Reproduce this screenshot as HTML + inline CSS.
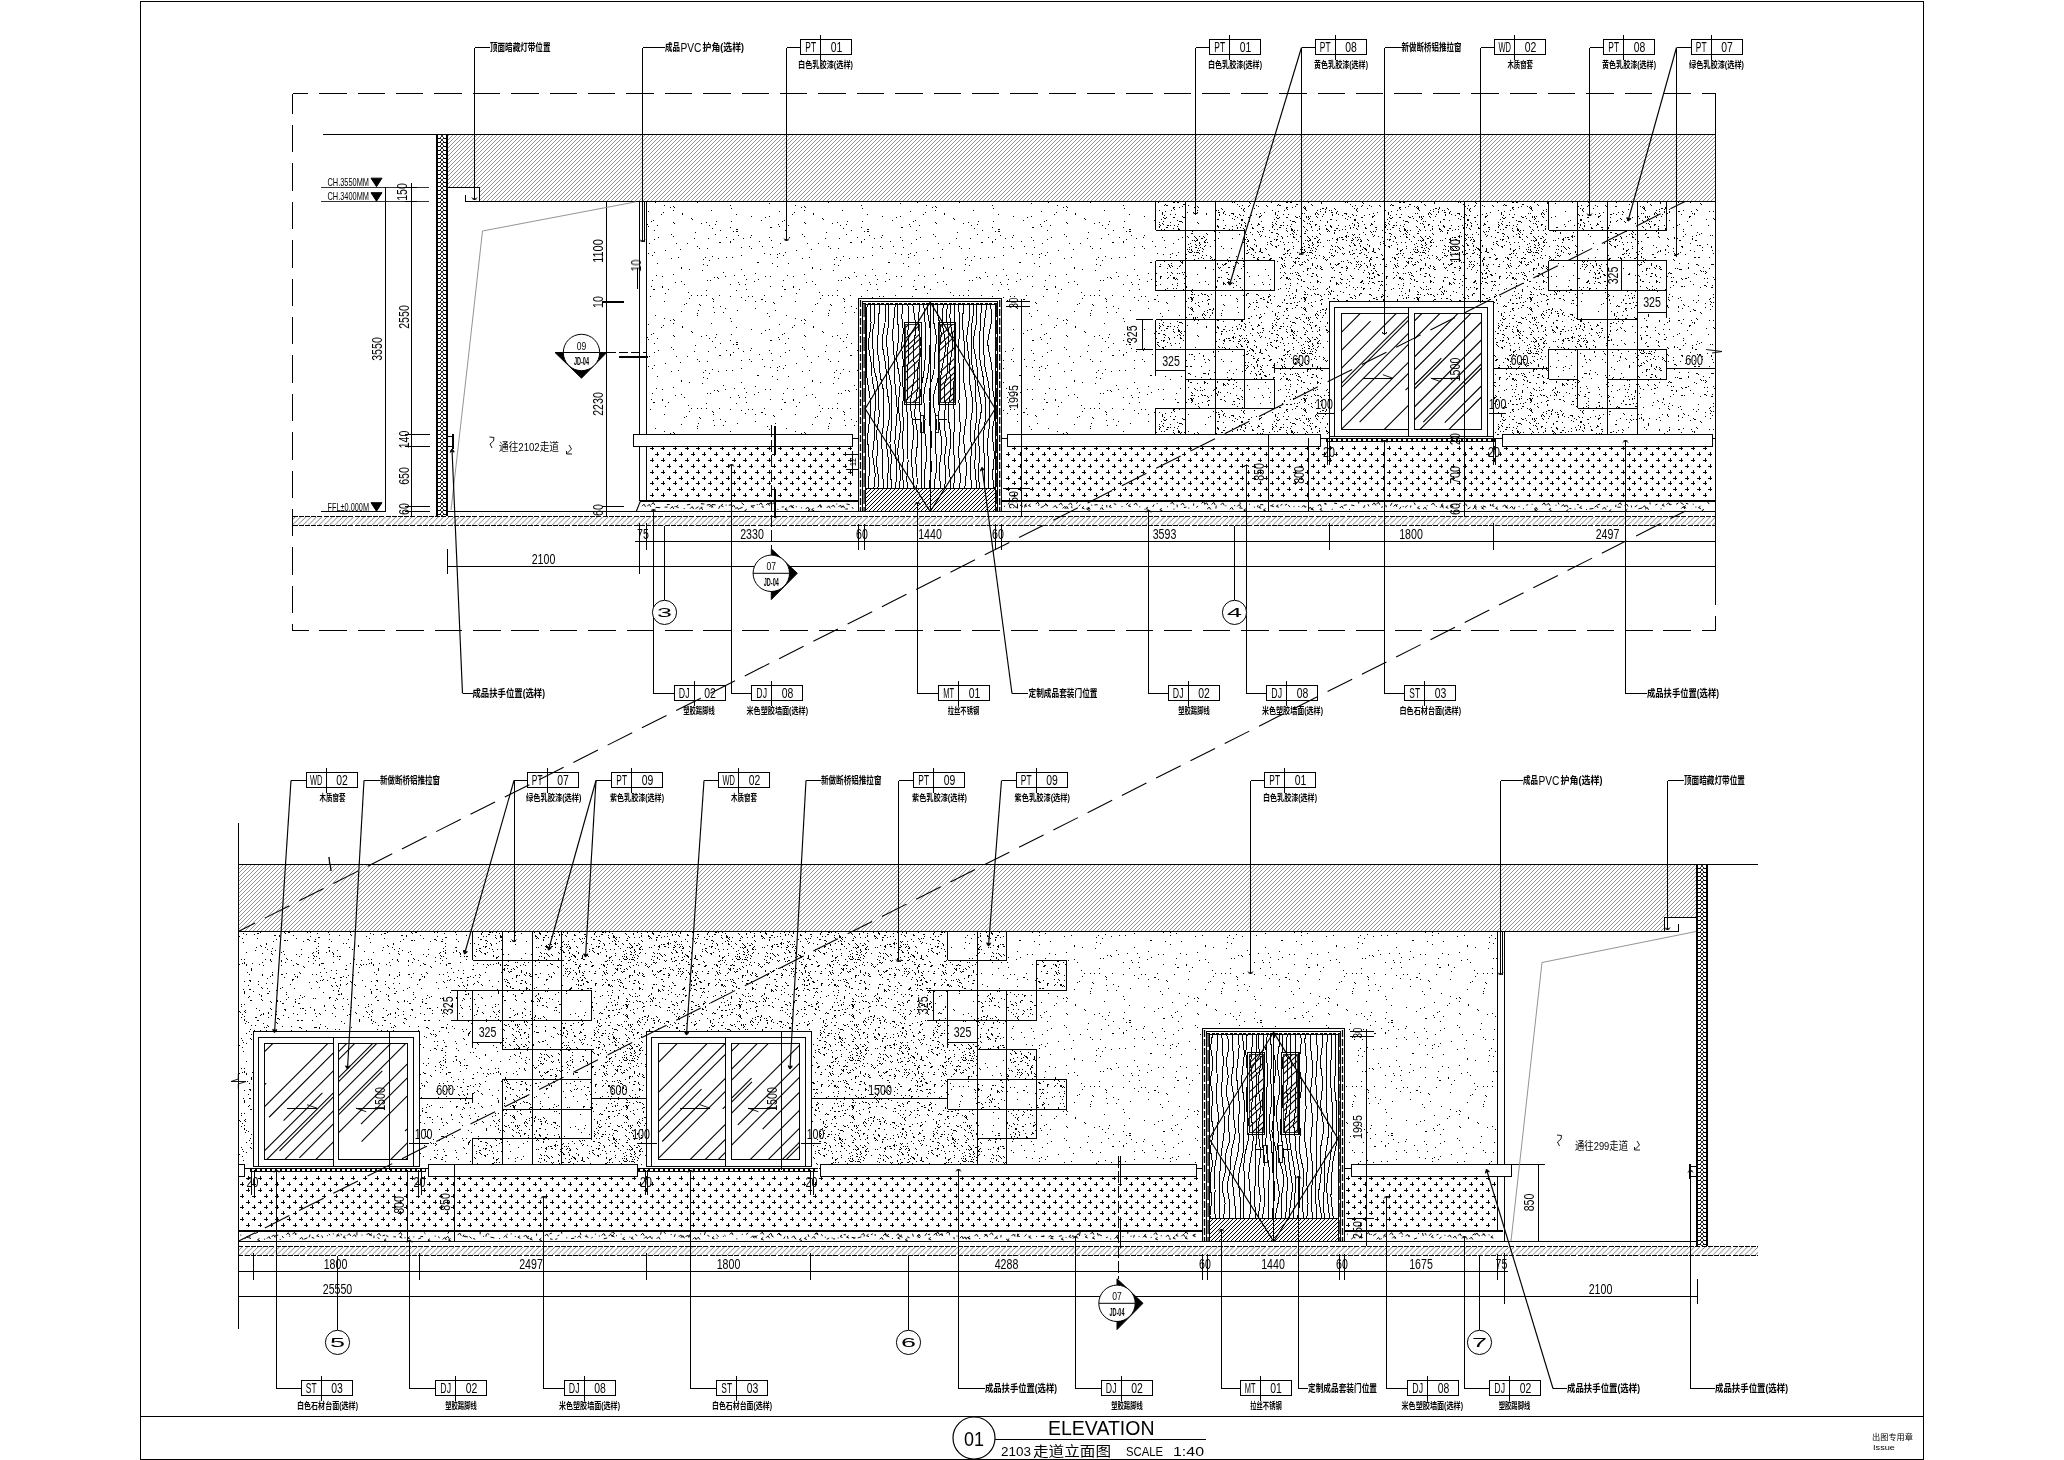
<!DOCTYPE html><html><head><meta charset="utf-8"><title>2103走道立面图</title><style>html,body{margin:0;padding:0;background:#fff}body{width:2064px;height:1460px;overflow:hidden}svg{display:block}svg text{font-family:"Liberation Sans",sans-serif}svg text.c{font-family:"Liberation Sans","Noto Sans CJK SC",sans-serif}</style></head><body><svg width="2064" height="1460" viewBox="0 0 2064 1460">
<defs><pattern id="sp" width="131" height="113" patternUnits="userSpaceOnUse"><path d="M34 72h1M16 32h1M115 60h1M53 12h1M99 55h1M0 89h1M58 75h1M81 3h2M2 112h1M55 54h1M56 97h1M126 70h1M59 86h1M117 37h1M106 107h1M25 23h1M75 15h1M128 54h1M48 38h1M127 108h1M100 75h1M122 31h1M103 53h1M93 70h1M95 11h1M130 13h1M100 47h1M7 60h1M7 61h1M100 82h1M128 29h1M51 69h1M59 51h1M90 58h1M1 49h1M33 66h1M52 54h1M123 111h1M51 64h1M91 53h1M84 58h1M58 81h1M46 110h1M65 4h1M18 10h1M115 1h1M71 31h1M47 44h1M42 20h1M43 84h1M75 58h1M127 60h1M79 49h1M48 33h1M130 26h1M110 104h1M57 2h1M9 92h1M114 90h1M109 69h1M115 28h1M7 50h1M82 84h1M15 94h1M54 112h1M54 113h1M18 109h1M19 110h1M76 95h1M64 16h2M9 75h1M117 21h1M130 4h1M88 12h1M110 75h1M26 85h1M129 63h2M102 36h2M51 109h1M34 43h1M68 86h1M97 70h1M124 98h1M60 8h1M21 17h1M54 34h1M129 107h1M86 43h1M60 111h1M125 17h1M26 41h1M26 42h1M18 48h1M37 106h1M29 78h1M96 9h1M57 72h1M58 73h1M68 46h1M29 58h1M27 100h1M27 101h1M75 1h1M3 11h1M10 24h1M107 20h1M42 87h1M26 55h1M96 103h1M75 70h1M122 40h1M81 5h2M75 92h1M115 50h1M16 8h1M116 14h1M120 84h1M46 69h1M50 31h1M71 11h1M114 11h1M86 29h1M78 5h1M81 101h1M77 31h1M23 31h1M62 51h1M63 52h1M18 93h1M19 94h1M2 37h1M91 63h1M39 12h1M83 9h1M44 22h1M36 105h1M78 13h1M75 16h1M36 69h1M8 99h1M52 22h1M40 6h1M63 32h1M114 103h1M64 69h1M116 1h1M86 21h1M6 101h1M106 73h2M90 74h1M32 17h1M70 50h1M44 78h1M45 79h1M124 0h1M81 64h1M112 87h1M57 30h1M122 28h1M86 71h1M70 82h1M18 97h1M94 20h1M52 39h1M76 108h1M42 89h1M118 76h1M119 77h1M31 77h1M96 22h1M109 27h1M13 63h1M89 49h1M42 69h1M10 67h1M65 80h1M21 17h1M20 56h1M61 108h1M110 50h1M83 56h1M124 27h1M104 15h1M71 31h1" stroke="#000" stroke-width="1" fill="none" transform="translate(0 .5)" shape-rendering="crispEdges"/></pattern><pattern id="md" width="127" height="109" patternUnits="userSpaceOnUse"><path d="M122 108h2M10 46h1M94 103h1M39 32h1M77 4h1M20 55h1M102 92h1M65 47h1M56 64h1M4 3h1M119 40h1M54 67h1M55 68h1M22 30h1M22 41h1M23 42h1M65 65h1M65 86h1M114 57h1M94 67h1M97 46h1M45 46h1M123 57h1M124 58h1M96 51h1M59 83h1M62 35h1M64 65h1M45 84h1M115 59h1M92 71h1M62 84h1M41 104h1M21 78h1M116 61h1M122 102h1M64 71h1M83 78h1M39 93h1M65 46h1M79 9h1M43 92h2M104 24h1M13 7h1M6 34h1M87 13h1M17 34h1M26 7h1M91 97h2M46 46h1M47 47h1M86 3h1M86 4h1M122 8h2M93 2h1M16 104h1M94 23h1M0 49h1M101 31h1M102 32h1M4 0h1M78 80h1M14 36h1M3 39h1M98 77h1M115 33h1M110 79h1M60 28h1M60 29h1M87 40h1M3 57h1M121 16h1M99 50h1M41 18h1M43 33h1M124 53h1M89 71h1M85 7h1M16 20h1M17 21h1M58 81h1M117 90h1M31 29h1M9 32h1M9 33h1M29 79h1M79 90h1M87 54h1M96 0h1M97 1h1M49 52h1M50 53h1M65 92h1M65 93h1M13 12h2M96 29h1M96 30h1M3 66h1M58 39h1M48 27h1M97 26h1M55 54h1M74 75h2M53 67h1M117 12h1M61 46h2M122 15h1M37 88h1M47 39h2M87 52h1M87 53h1M39 25h1M86 105h2M57 7h1M62 59h1M75 78h1M75 79h1M36 3h1M119 92h1M119 93h1M96 62h1M97 63h1M73 47h1M59 17h1M50 15h1M15 10h1M42 82h1M27 88h1M27 89h1M79 84h1M5 92h1M37 45h1M18 102h1M61 67h1M92 93h1M119 62h1M37 50h1M62 76h1M54 89h1M117 10h1M104 73h1M104 74h1M45 22h1M18 103h1M8 102h1M8 103h1M114 87h1M82 4h1M83 5h1M37 49h1M85 87h1M22 67h1M19 69h1M124 96h1M42 66h1M65 32h1M66 33h1M20 59h1M30 51h1M45 100h1M93 18h1M92 3h1M49 94h1M50 95h1M65 6h1M51 32h1M119 52h1M60 46h1M42 91h1M84 10h1M109 92h1M79 24h1M85 48h1M81 1h1M67 91h1M59 83h1M60 84h1M12 2h1M27 93h1M49 27h1M12 49h1M98 102h1M99 103h1M95 75h1M62 102h1M1 78h1M61 32h1M22 59h1M124 97h1M124 98h1M0 62h1M85 84h2M75 62h1M118 42h1M112 64h1M126 10h1M44 22h1M120 100h1M32 86h1M106 92h1M107 93h1M20 63h1M59 86h1M1 36h1M123 0h1M68 108h1M56 26h1M39 63h1M61 88h1M117 38h1M117 39h1M105 40h1M82 101h1M82 50h1M117 11h1M26 50h1M108 108h1M109 109h1M64 80h1M64 81h1M5 29h1M71 29h1M7 14h1M7 15h1M104 100h1M46 27h1M9 42h1M21 63h1M37 59h1M117 91h1M81 27h1M41 20h1M41 21h1M30 60h1M31 61h1M86 108h1M45 17h1M29 34h1M81 48h1M105 95h1M112 92h1M64 74h1M121 41h1M96 91h1M119 80h1M125 91h1M79 81h1M47 39h1M22 33h1M45 56h1M114 23h1M48 16h1M13 44h1M14 45h1M9 93h1M55 1h1M30 105h1M49 69h1M81 19h1M25 63h1M25 64h1M18 100h1M32 18h1M32 11h1M31 90h1M78 5h1M47 82h1M7 18h1M8 19h1M8 55h1M34 16h1M73 108h1M73 109h1M82 98h1M122 50h1M6 50h1M62 79h1M69 107h1M11 75h1M85 63h1M107 88h1M52 49h1M5 13h1M75 16h1M75 17h1M117 87h1M22 9h1M58 102h1M32 13h1M28 22h2M54 85h1M43 104h1M6 60h1M61 17h1M17 89h1M7 6h1M8 7h1M117 0h1M66 43h1M112 30h1M113 31h1M62 0h1M63 1h1M14 31h1M14 32h1M27 102h2M27 80h1M79 82h1M115 91h1M99 86h1M100 87h1M13 106h1M80 26h1M81 27h1M25 38h1M18 54h1M19 55h1M40 102h1M12 71h1M12 72h1M34 36h1M62 35h1M89 17h1M84 13h2M70 96h1M24 50h1M82 17h1M95 33h1M60 69h2M98 105h1M18 76h1M88 25h1M17 81h1M117 23h1M11 87h1M59 80h1M26 20h1M89 104h1M115 66h1M52 53h1M4 58h1M110 15h1M93 34h1M2 27h1M33 68h1M75 67h1M114 25h1M16 88h1M17 89h1M111 57h1M124 44h1M78 32h1M74 60h1M96 60h1M43 39h2M47 77h1M60 28h1M83 84h1M16 87h1M111 26h1M105 38h1M105 39h1M100 3h1M101 4h1M40 7h1M32 101h1M43 105h1M53 60h1M2 36h1M16 27h1M17 28h1M77 98h1M8 81h1M117 35h1M63 61h1M117 30h1M118 31h1M38 108h1M118 29h1M90 42h1M89 50h1M30 82h1M7 33h1M17 79h1M105 55h1M105 56h1M58 50h1M123 48h1M30 28h2M67 104h1M77 69h1M6 49h1M51 29h1M12 46h1M66 100h1M8 90h1M89 28h1M3 61h2M83 18h1M30 68h2M18 82h1M97 13h1M69 11h1M17 55h1M4 39h1M34 60h2M71 45h1M87 12h1M13 77h1M46 101h1M81 35h1M114 36h1M123 19h2M43 55h1M1 44h1M68 91h2M84 9h1M64 78h1M54 53h1M23 20h1M2 75h1M92 105h1M23 37h2M111 5h1M72 100h1M28 51h2M46 14h1M116 8h1M70 24h1M70 25h1M88 51h1M88 52h1M109 35h1M28 6h1M67 51h1M100 16h1M101 17h1M16 58h1M6 73h1M7 74h1M104 56h1M76 105h1M82 57h1M83 58h1M76 16h1M18 2h1M23 19h1M72 80h1M56 60h1M54 55h1M28 45h1M121 4h1M79 106h2M38 107h2M116 70h1M33 87h1M59 91h1M66 108h1" stroke="#000" stroke-width="1" fill="none" transform="translate(0 .5)" shape-rendering="crispEdges"/></pattern><pattern id="dn" width="113" height="101" patternUnits="userSpaceOnUse"><path d="M30 75h1M47 77h1M74 8h1M107 60h1M108 61h1M29 24h1M60 69h1M60 50h1M19 29h1M111 66h1M1 85h1M20 97h1M5 38h1M105 34h1M92 49h1M54 50h1M73 56h1M17 46h1M17 47h1M17 63h1M18 64h1M86 55h1M109 38h1M106 49h1M68 74h1M29 43h1M3 35h1M85 89h1M86 90h1M110 41h1M73 72h1M73 73h1M83 27h1M73 34h1M74 35h1M8 61h1M61 11h1M8 52h1M2 37h1M53 15h2M78 97h2M91 75h1M112 35h1M4 39h2M13 76h1M25 52h1M26 53h1M33 19h1M111 43h1M17 48h1M111 66h1M110 76h1M13 79h1M103 64h1M104 65h1M81 92h1M38 55h1M66 38h1M1 100h1M74 40h2M78 75h1M7 81h1M59 45h1M45 77h1M94 62h2M7 86h2M47 32h1M38 75h1M22 46h1M23 47h1M97 47h1M33 38h1M13 98h1M72 87h1M39 64h1M40 65h1M102 34h1M103 35h1M23 86h1M89 12h1M89 13h1M41 42h1M28 56h1M21 10h1M83 27h1M57 34h1M58 35h1M15 4h1M24 40h1M107 73h1M108 74h1M35 43h1M82 10h1M44 75h1M44 76h1M37 66h1M34 59h1M53 37h1M52 4h1M19 25h2M106 79h1M55 71h1M91 28h2M58 96h1M66 36h1M29 8h1M36 15h1M5 4h1M88 65h1M55 73h2M61 95h1M61 96h1M64 38h1M65 39h1M2 67h1M6 78h1M6 79h1M16 32h1M69 61h1M7 45h1M8 46h1M15 68h1M15 21h1M16 22h1M35 16h1M0 62h1M110 51h2M34 31h1M35 32h1M67 66h1M60 41h1M0 7h1M5 15h2M61 4h1M11 65h1M40 20h1M44 49h1M75 38h1M24 42h1M16 71h2M92 48h1M72 22h2M58 77h1M69 48h1M5 79h1M6 47h1M97 89h1M88 53h1M31 27h1M88 75h2M54 28h1M112 3h1M47 71h1M33 15h1M15 93h1M67 48h1M93 40h1M13 75h1M60 18h1M61 19h1M49 5h1M72 12h1M48 22h1M43 15h2M14 86h1M89 36h1M102 11h2M98 72h1M91 30h1M91 31h1M95 12h1M7 70h1M72 23h1M30 23h1M58 78h1M50 32h1M50 44h1M10 48h1M52 95h1M53 88h1M74 86h1M87 61h1M87 62h1M51 19h1M52 20h1M63 95h1M89 66h1M75 92h1M17 34h1M18 74h1M29 88h1M99 37h1M109 52h1M74 74h1M27 39h2M61 48h1M62 49h1M72 46h1M73 47h1M61 99h1M53 89h1M76 26h1M106 83h1M61 92h2M51 100h1M5 59h1M30 82h1M86 8h1M109 32h1M110 33h1M24 99h1M25 100h1M23 79h1M109 4h1M32 21h1M40 23h1M93 10h1M93 11h1M33 37h2M57 74h1M43 0h2M42 55h1M9 26h1M95 62h1M69 40h1M69 41h1M35 9h1M14 56h1M32 12h1M89 47h1M47 96h1M84 86h1M103 33h1M103 34h1M43 86h1M67 14h1M65 45h2M37 86h1M95 23h1M93 80h1M93 81h1M47 83h1M13 71h1M13 72h1M42 82h1M76 53h1M82 23h1M39 100h1M40 101h1M8 13h1M96 70h1M94 50h1M34 34h1M111 17h2M64 34h1M65 35h1M98 65h1M42 51h1M103 98h2M63 14h1M63 15h1M75 12h1M72 99h1M14 23h1M72 53h1M50 95h1M50 96h1M77 18h1M102 24h1M21 72h1M22 73h1M111 32h1M37 3h1M56 52h1M49 40h1M74 39h1M67 87h1M110 85h1M76 24h1M0 13h1M84 29h1M67 80h1M24 100h1M4 64h1M56 14h1M84 19h1M84 20h1M101 11h1M6 3h1M29 64h2M68 2h1M41 42h1M88 88h1M88 89h1M109 76h1M4 91h2M43 26h1M110 25h1M96 28h1M13 100h2M9 25h1M50 63h1M8 68h1M26 83h1M2 59h1M88 51h1M58 4h1M46 47h1M46 76h1M0 26h1M1 27h1M47 18h1M68 24h1M68 25h1M2 21h1M64 21h1M17 14h1M56 62h1M57 63h1M107 2h1M40 52h2M91 6h1M92 7h1M5 50h1M28 30h2M60 24h1M61 25h1M79 14h1M15 76h2M93 37h1M94 38h1M100 59h1M38 62h1M39 63h1M34 3h1M80 44h1M7 87h1M11 75h1M13 3h1M2 21h1M61 6h1M62 7h1M65 42h1M66 43h1M96 61h1M61 44h1M4 48h1M77 80h1M11 37h1M12 38h1M52 14h1M70 42h1M99 51h1M100 52h1M94 93h1M70 45h1M46 53h1M56 99h1M44 34h1M64 92h1M90 89h1M62 5h1M62 6h1M90 96h2M59 11h1M86 84h1M86 85h1M30 76h1M82 7h1M111 6h1M111 93h1M47 0h2M51 100h1M13 43h1M14 57h2M83 26h1M84 27h1M6 19h1M18 74h1M14 29h1M15 30h1M26 28h1M65 53h1M77 40h1M68 100h1M69 101h1M22 79h2M105 14h1M109 12h1M110 13h1M32 10h1M32 11h1M51 28h1M87 78h1M87 79h1M62 97h1M89 44h1M84 57h1M37 76h1M48 26h1M48 27h1M0 59h1M1 60h1M82 9h1M24 62h1M70 87h1M54 100h1M77 66h1M78 67h1M44 7h1M55 56h2M27 41h1M28 42h1M26 92h1M27 93h1M112 94h1M91 68h1M47 24h1M52 61h1M52 60h1M4 37h1M2 23h1M3 92h1M3 93h1M64 66h2M60 5h1M61 6h1M26 35h1M4 44h1M25 95h1M18 13h1M52 56h2M19 62h1M89 36h1M103 81h1M20 55h1M59 60h1M69 28h1M109 36h1M110 37h1M59 47h1M103 38h1M103 66h2M16 80h1M68 2h1M69 3h1M6 0h1M7 1h1M98 59h1M100 46h1M4 62h1M5 63h1M1 35h1M43 6h1M103 12h1M33 31h1M63 53h1M43 5h2M4 80h1M21 97h1M31 17h1M107 52h1M106 43h1M35 2h1M36 3h1M2 62h1M104 58h1M85 96h1M104 77h1M47 66h1M37 23h2M17 70h1M17 71h1M99 45h1M35 32h1M67 19h1M17 66h2M62 29h1M74 78h1M75 79h1M40 73h1M14 62h1M14 63h1M100 90h1M34 13h1M9 47h2M62 96h1M82 57h1M83 58h1M44 23h1M106 50h1M34 27h1M40 40h1M71 36h2M53 32h1M10 63h1M11 64h1M25 94h2M67 14h1M107 15h1M104 0h1M88 8h1M61 59h1M62 60h1M69 71h2M30 62h1M18 19h1M22 88h1M86 50h1M18 50h2M97 80h1M98 81h1M24 83h1M111 18h2M19 68h1M20 69h1M99 13h1M23 3h1M24 4h1M16 14h1M16 15h1M16 49h1M77 9h1M0 47h1M61 31h2M69 62h1M69 63h1M108 40h1M94 44h1M109 100h1M52 59h1M39 56h1M39 57h1M58 49h1M59 50h1M76 37h1M108 95h1M109 96h1M109 21h1M107 25h1M107 26h1M77 7h1M111 22h1M111 23h1M1 20h1M101 51h1M87 47h1M98 35h2M69 74h1M18 75h1M41 58h1M47 81h1M45 89h1M92 44h1M106 43h1M107 44h1M38 34h1M39 35h1M77 64h1M78 65h1M43 93h1M36 55h1M57 16h1M68 100h1M79 67h1M79 6h2M54 70h1M99 37h2M109 48h1M9 46h1M7 70h1M15 55h1M49 91h1M1 38h1M47 51h1M83 87h1M74 63h1M74 64h1M28 0h1M78 0h1M78 1h1M10 26h1M36 25h2M68 93h1M68 56h1M106 92h1M27 56h1M74 15h1M48 28h1M39 36h1M15 22h1M10 55h2M44 48h2M106 23h1M17 49h1M18 50h1M81 55h1M84 38h1M12 81h1M88 10h2M112 96h1M41 8h1M41 61h1M80 12h1M42 82h1M74 28h1M25 82h1M11 6h1M3 65h1M73 10h1M74 11h1M105 60h1M68 50h1M69 51h1M58 84h1M29 25h1M43 75h1M43 76h1M68 46h1M45 40h1M74 92h1M26 57h2M55 39h1M63 27h1M64 28h1M13 58h1M13 59h1M64 50h1M40 23h1M41 63h1M42 64h1M112 87h1M7 30h1M49 28h1M50 29h1M32 44h1M33 45h1M88 43h1M26 28h1M22 72h1M23 73h1M61 89h1M62 90h1M103 85h1M29 22h1M67 50h1M54 76h1M55 77h1M38 56h1M10 100h1M58 62h2M22 34h1M53 87h1M49 64h1M44 51h1M61 97h1M62 98h1M91 53h1M93 18h1M13 44h1M108 38h1M69 19h1M57 47h1M74 44h1M25 79h2M97 70h1M74 86h1M69 41h1M107 95h1M1 54h1M94 97h1M61 47h1M31 37h1M72 49h1M41 70h1M42 71h1M92 62h1M93 63h1M50 59h1M51 60h1M52 70h1M13 92h2M61 89h1M62 90h1M64 85h1M65 86h1M12 70h1M49 71h1M50 35h2M35 87h1M33 15h1M34 16h1M14 61h1M18 33h1M87 23h1M88 24h1M99 65h1M85 28h1M86 29h1M33 44h1M13 12h1M17 96h2M58 42h1M41 97h1M41 98h1M5 85h1M65 17h1M111 56h1M64 72h1M54 55h1M55 56h1M69 34h1M49 19h2M21 55h1M27 97h1M27 98h1M93 26h1M93 82h1M5 80h1M95 45h1M96 46h1M20 27h1M94 9h1M94 36h1M94 37h1M69 43h1M77 93h1M78 94h1M17 11h1M87 17h2M89 10h1M66 50h1M70 84h1M33 22h1M0 8h1M1 9h1M89 53h1M90 54h1M4 43h1M41 46h1M41 47h1M102 27h1M103 68h1M85 92h1M28 56h1M102 0h1M29 20h1M12 50h1M73 14h1M76 31h1M77 32h1M3 51h2M43 28h1M44 29h1M72 65h1M73 66h1M97 76h1M94 26h1M54 81h1M8 22h1M64 67h1M64 68h1M74 79h1M74 80h1M66 16h1M66 21h1M67 22h1M67 37h1M67 38h1M63 8h1M31 94h1M53 2h2M60 79h2M90 65h1M1 6h1M37 39h1M62 38h1M102 16h1M72 11h1M83 5h1M83 6h1M87 24h1M88 25h1M20 95h1M95 98h1M17 80h1M18 81h1M86 38h1M65 0h1M46 86h1M10 53h1M42 71h1M55 59h1M3 41h1M94 81h1M95 82h1M60 95h1M61 96h1M45 12h1M95 61h1M61 96h1M62 97h1M43 76h2M30 74h2M51 30h1M40 12h1M64 57h1M65 58h1M53 72h1M48 55h1M46 93h1M50 46h1M50 34h1M17 29h1M98 77h2M52 93h1M77 98h1M61 48h1M71 55h1M60 50h2M71 91h1M72 92h1M2 24h1M87 91h1M87 92h1M104 17h1M65 14h1M65 15h1M76 27h1M37 70h1M54 55h1M20 27h1M80 54h1M80 56h1M3 32h1M75 43h1M49 27h1M36 25h2M49 31h1M111 42h1M112 43h1M11 42h1M99 27h1M26 71h1M0 64h1M104 30h1M96 35h1M9 32h1" stroke="#000" stroke-width="1" fill="none" transform="translate(0 .5)" shape-rendering="crispEdges"/></pattern><pattern id="ch" width="4" height="4" patternUnits="userSpaceOnUse"><path d="M3 .5h1M2 1.5h1M1 2.5h1M0 3.5h1" stroke="#969696" stroke-width="1" shape-rendering="crispEdges"/></pattern><pattern id="sh" width="5.3" height="10" patternUnits="userSpaceOnUse" patternTransform="translate(0 516)"><path d="M-2 12L10 0M-7.3 12L4.7 0" stroke="#333" stroke-width=".6"/></pattern><pattern id="kh" width="4" height="4" patternUnits="userSpaceOnUse"><path d="M3 .5h1M2 1.5h1M1 2.5h1M0 3.5h1" stroke="#000" stroke-width="1" shape-rendering="crispEdges"/></pattern><pattern id="xh" width="8" height="4" patternUnits="userSpaceOnUse" patternTransform="translate(438 134)"><path d="M0 .5h2.6M5.4 .5h2.6" stroke="#000" stroke-width="1"/><path d="M2 0L6 4M6 0L2 4" stroke="#000" stroke-width=".8"/></pattern><pattern id="xh2" width="8" height="4" patternUnits="userSpaceOnUse" patternTransform="translate(1698 864)"><path d="M0 .5h2.6M5.4 .5h2.6" stroke="#000" stroke-width="1"/><path d="M2 0L6 4M6 0L2 4" stroke="#000" stroke-width=".8"/></pattern><pattern id="sl" width="4.4" height="4" patternUnits="userSpaceOnUse"><rect width="4.4" height="4" fill="#000"/><rect x="1" y="1" width="2.4" height="1.8" fill="#fff"/></pattern><pattern id="sh2" width="5.3" height="10" patternUnits="userSpaceOnUse" patternTransform="translate(0 1246)"><path d="M-2 12L10 0M-7.3 12L4.7 0" stroke="#333" stroke-width=".6"/></pattern></defs>
<g shape-rendering="crispEdges"><rect x="646.5" y="201.5" width="1069" height="233.3" fill="#fff"/><rect x="646.5" y="201.5" width="1069" height="233.3" fill="url(#sp)"/><path d="M1215.3 201.5L1215.3 230.4L1244.7 230.4L1244.7 260.6L1274.6 260.6L1274.6 290.5L1244.7 290.5L1244.7 319.5L1215.3 319.5L1215.3 349.1L1244.7 349.1L1244.7 379.1L1274.6 379.1L1274.6 408.3L1215.3 408.3L1215.3 434.8L1607.5 434.8L1607.5 408.3L1577.5 408.3L1577.5 379.1L1548.5 379.1L1548.5 349.1L1607.5 349.1L1607.5 319.5L1577.5 319.5L1577.5 290.5L1548.5 290.5L1548.5 260.6L1577.5 260.6L1577.5 230.4L1548.5 230.4L1548.5 201.5Z" fill="#fff"/><path d="M1215.3 201.5L1215.3 230.4L1244.7 230.4L1244.7 260.6L1274.6 260.6L1274.6 290.5L1244.7 290.5L1244.7 319.5L1215.3 319.5L1215.3 349.1L1244.7 349.1L1244.7 379.1L1274.6 379.1L1274.6 408.3L1215.3 408.3L1215.3 434.8L1607.5 434.8L1607.5 408.3L1577.5 408.3L1577.5 379.1L1548.5 379.1L1548.5 349.1L1607.5 349.1L1607.5 319.5L1577.5 319.5L1577.5 290.5L1548.5 290.5L1548.5 260.6L1577.5 260.6L1577.5 230.4L1548.5 230.4L1548.5 201.5Z" fill="url(#dn)"/><path d="M1548.5 201.5L1548.5 230.4L1577.5 230.4L1577.5 260.6L1548.5 260.6L1548.5 290.5L1577.5 290.5L1577.5 319.5L1607.5 319.5L1607.5 349.1L1548.5 349.1L1548.5 379.1L1577.5 379.1L1577.5 408.3L1607.5 408.3L1607.5 434.8L1715.5 434.8L1715.5 201.5Z" fill="#fff"/><path d="M1548.5 201.5L1548.5 230.4L1577.5 230.4L1577.5 260.6L1548.5 260.6L1548.5 290.5L1577.5 290.5L1577.5 319.5L1607.5 319.5L1607.5 349.1L1548.5 349.1L1548.5 379.1L1577.5 379.1L1577.5 408.3L1607.5 408.3L1607.5 434.8L1715.5 434.8L1715.5 201.5Z" fill="url(#md)"/><rect x="1155.6" y="201.5" width="29.9" height="28.9" fill="#fff"/><rect x="1155.6" y="201.5" width="29.9" height="28.9" fill="url(#dn)"/><rect x="1185.5" y="201.5" width="29.8" height="28.9" fill="#fff"/><rect x="1185.5" y="201.5" width="29.8" height="28.9" fill="url(#sp)"/><rect x="1185.5" y="230.4" width="29.8" height="30.2" fill="#fff"/><rect x="1185.5" y="230.4" width="29.8" height="30.2" fill="url(#dn)"/><rect x="1215.3" y="230.4" width="29.4" height="30.2" fill="#fff"/><rect x="1215.3" y="230.4" width="29.4" height="30.2" fill="url(#sp)"/><rect x="1155.6" y="260.6" width="29.9" height="29.9" fill="#fff"/><rect x="1155.6" y="260.6" width="29.9" height="29.9" fill="url(#dn)"/><rect x="1185.5" y="260.6" width="29.8" height="29.9" fill="#fff"/><rect x="1185.5" y="260.6" width="29.8" height="29.9" fill="url(#sp)"/><rect x="1215.3" y="260.6" width="29.4" height="29.9" fill="#fff"/><rect x="1215.3" y="260.6" width="29.4" height="29.9" fill="url(#dn)"/><rect x="1244.7" y="260.6" width="29.9" height="29.9" fill="#fff"/><rect x="1244.7" y="260.6" width="29.9" height="29.9" fill="url(#sp)"/><rect x="1185.5" y="290.5" width="29.8" height="29" fill="#fff"/><rect x="1185.5" y="290.5" width="29.8" height="29" fill="url(#dn)"/><rect x="1215.3" y="290.5" width="29.4" height="29" fill="#fff"/><rect x="1215.3" y="290.5" width="29.4" height="29" fill="url(#sp)"/><rect x="1155.6" y="319.5" width="29.9" height="29.6" fill="#fff"/><rect x="1155.6" y="319.5" width="29.9" height="29.6" fill="url(#dn)"/><rect x="1185.5" y="319.5" width="29.8" height="29.6" fill="#fff"/><rect x="1185.5" y="319.5" width="29.8" height="29.6" fill="url(#sp)"/><rect x="1185.5" y="349.1" width="29.8" height="30" fill="#fff"/><rect x="1185.5" y="349.1" width="29.8" height="30" fill="url(#md)"/><rect x="1215.3" y="349.1" width="29.4" height="30" fill="#fff"/><rect x="1215.3" y="349.1" width="29.4" height="30" fill="url(#sp)"/><rect x="1185.5" y="379.1" width="29.8" height="29.2" fill="#fff"/><rect x="1185.5" y="379.1" width="29.8" height="29.2" fill="url(#dn)"/><rect x="1215.3" y="379.1" width="29.4" height="29.2" fill="#fff"/><rect x="1215.3" y="379.1" width="29.4" height="29.2" fill="url(#dn)"/><rect x="1244.7" y="379.1" width="29.9" height="29.2" fill="#fff"/><rect x="1244.7" y="379.1" width="29.9" height="29.2" fill="url(#sp)"/><rect x="1155.6" y="408.3" width="29.9" height="26.5" fill="#fff"/><rect x="1155.6" y="408.3" width="29.9" height="26.5" fill="url(#dn)"/><rect x="1185.5" y="408.3" width="29.8" height="26.5" fill="#fff"/><rect x="1185.5" y="408.3" width="29.8" height="26.5" fill="url(#sp)"/><rect x="1577.5" y="201.5" width="30" height="28.9" fill="#fff"/><rect x="1577.5" y="201.5" width="30" height="28.9" fill="url(#dn)"/><rect x="1637.2" y="201.5" width="29.4" height="28.9" fill="#fff"/><rect x="1637.2" y="201.5" width="29.4" height="28.9" fill="url(#dn)"/><rect x="1607.5" y="230.4" width="29.7" height="30.2" fill="#fff"/><rect x="1607.5" y="230.4" width="29.7" height="30.2" fill="url(#dn)"/><rect x="1577.5" y="260.6" width="30" height="29.9" fill="#fff"/><rect x="1577.5" y="260.6" width="30" height="29.9" fill="url(#dn)"/><rect x="1637.2" y="260.6" width="29.4" height="29.9" fill="#fff"/><rect x="1637.2" y="260.6" width="29.4" height="29.9" fill="url(#dn)"/><rect x="1607.5" y="290.5" width="29.7" height="29" fill="#fff"/><rect x="1607.5" y="290.5" width="29.7" height="29" fill="url(#dn)"/><rect x="1637.2" y="349.1" width="29.4" height="30" fill="#fff"/><rect x="1637.2" y="349.1" width="29.4" height="30" fill="url(#dn)"/><rect x="1607.5" y="379.1" width="29.7" height="29.2" fill="#fff"/><rect x="1607.5" y="379.1" width="29.7" height="29.2" fill="url(#dn)"/><rect x="1548.5" y="201.5" width="29" height="28.9" fill="#fff"/><rect x="1548.5" y="201.5" width="29" height="28.9" fill="url(#sp)"/><rect x="1548.5" y="260.6" width="29" height="29.9" fill="#fff"/><rect x="1548.5" y="260.6" width="29" height="29.9" fill="url(#sp)"/><rect x="1548.5" y="349.1" width="29" height="30" fill="#fff"/><rect x="1548.5" y="349.1" width="29" height="30" fill="url(#sp)"/><rect x="1577.5" y="230.4" width="30" height="30.2" fill="#fff"/><rect x="1577.5" y="230.4" width="30" height="30.2" fill="url(#sp)"/><rect x="1577.5" y="290.5" width="30" height="29" fill="#fff"/><rect x="1577.5" y="290.5" width="30" height="29" fill="url(#sp)"/><path d="M447.5 134.5L1715.5 134.5L1715.5 201.5L479.5 201.5L479.5 187L447.5 187Z" fill="#fff"/><path d="M447.5 134.5L1715.5 134.5L1715.5 201.5L479.5 201.5L479.5 187L447.5 187Z" fill="url(#ch)"/><rect x="436" y="134.5" width="12" height="381.5" fill="#fff"/><rect x="436" y="134.5" width="12" height="381.5" fill="url(#xh)"/><rect x="436" y="134.5" width="2" height="381.5" fill="#000" stroke="none"/><rect x="446" y="134.5" width="2" height="381.5" fill="#000" stroke="none"/><rect x="292.5" y="516.5" width="1423" height="9" fill="#fff"/><rect x="292.5" y="516.5" width="1423" height="9" fill="url(#sh)"/><rect x="646.5" y="446.4" width="211.5" height="54.2" fill="#fff"/><rect x="1001.8" y="446.4" width="713.7" height="54.2" fill="#fff"/><rect x="1326" y="438" width="170" height="4" fill="#000"/><path d="M1328 440h3M1333 440h3M1338 440h3M1343 440h3M1348 440h3M1353 440h3M1358 440h3M1363 440h3M1368 440h3M1373 440h3M1378 440h3M1383 440h3M1388 440h3M1393 440h3M1398 440h3M1403 440h3M1408 440h3M1413 440h3M1418 440h3M1423 440h3M1428 440h3M1433 440h3M1438 440h3M1443 440h3M1448 440h3M1453 440h3M1458 440h3M1463 440h3M1468 440h3M1473 440h3M1478 440h3M1483 440h3M1488 440h3" stroke="#fff" stroke-width="2" fill="none"/><rect x="858.1" y="298.1" width="143.8" height="213.4" fill="#fff"/><rect x="904.2" y="322.8" width="17.1" height="81.6" fill="#fff"/><rect x="938.3" y="322.8" width="17.4" height="81.6" fill="#fff"/><rect x="865.2" y="488.8" width="130" height="22.7" fill="#fff"/><rect x="865.2" y="488.8" width="130" height="22.7" fill="url(#kh)"/><rect x="1329.6" y="301.7" width="163.6" height="135" fill="#fff"/><rect x="1156.6" y="350.1" width="28.4" height="21" fill="#fff"/><rect x="1608.5" y="261.6" width="12.5" height="28.4" fill="#fff"/><rect x="1638.2" y="291.5" width="27.9" height="20" fill="#fff"/><rect x="238.3" y="931.5" width="1258.7" height="233.3" fill="#fff"/><rect x="238.3" y="931.5" width="1258.7" height="233.3" fill="url(#sp)"/><path d="M561.8 931.5L561.8 960.4L561.8 960.4L561.8 990.6L591.6 990.6L591.6 1020.5L561.8 1020.5L561.8 1049.5L591.6 1049.5L591.6 1079.1L591.6 1079.1L591.6 1109.1L591.6 1109.1L591.6 1138.3L561.8 1138.3L561.8 1164.8L977.5 1164.8L977.5 1138.3L977.5 1138.3L977.5 1109.1L947.6 1109.1L947.6 1079.1L977.5 1079.1L977.5 1049.5L977.5 1049.5L977.5 1020.5L947.6 1020.5L947.6 990.6L977.5 990.6L977.5 960.4L947.6 960.4L947.6 931.5Z" fill="#fff"/><path d="M561.8 931.5L561.8 960.4L561.8 960.4L561.8 990.6L591.6 990.6L591.6 1020.5L561.8 1020.5L561.8 1049.5L591.6 1049.5L591.6 1079.1L591.6 1079.1L591.6 1109.1L591.6 1109.1L591.6 1138.3L561.8 1138.3L561.8 1164.8L977.5 1164.8L977.5 1138.3L977.5 1138.3L977.5 1109.1L947.6 1109.1L947.6 1079.1L977.5 1079.1L977.5 1049.5L977.5 1049.5L977.5 1020.5L947.6 1020.5L947.6 990.6L977.5 990.6L977.5 960.4L947.6 960.4L947.6 931.5Z" fill="url(#dn)"/><path d="M238.3 931.5L561.8 931.5L561.8 960.4L561.8 960.4L561.8 990.6L591.6 990.6L591.6 1020.5L561.8 1020.5L561.8 1049.5L591.6 1049.5L591.6 1079.1L591.6 1079.1L591.6 1109.1L591.6 1109.1L591.6 1138.3L561.8 1138.3L561.8 1164.8L238.3 1164.8Z" fill="#fff"/><path d="M238.3 931.5L561.8 931.5L561.8 960.4L561.8 960.4L561.8 990.6L591.6 990.6L591.6 1020.5L561.8 1020.5L561.8 1049.5L591.6 1049.5L591.6 1079.1L591.6 1079.1L591.6 1109.1L591.6 1109.1L591.6 1138.3L561.8 1138.3L561.8 1164.8L238.3 1164.8Z" fill="url(#md)"/><rect x="472.75" y="931.5" width="29.95" height="28.9" fill="#fff"/><rect x="472.75" y="931.5" width="29.95" height="28.9" fill="url(#dn)"/><rect x="502.7" y="931.5" width="29.7" height="28.9" fill="#fff"/><rect x="502.7" y="931.5" width="29.7" height="28.9" fill="url(#sp)"/><rect x="532.4" y="931.5" width="29.4" height="28.9" fill="#fff"/><rect x="532.4" y="931.5" width="29.4" height="28.9" fill="url(#dn)"/><rect x="502.7" y="960.4" width="29.7" height="30.2" fill="#fff"/><rect x="502.7" y="960.4" width="29.7" height="30.2" fill="url(#dn)"/><rect x="532.4" y="960.4" width="29.4" height="30.2" fill="#fff"/><rect x="532.4" y="960.4" width="29.4" height="30.2" fill="url(#md)"/><rect x="472.75" y="990.6" width="29.95" height="29.9" fill="#fff"/><rect x="472.75" y="990.6" width="29.95" height="29.9" fill="url(#md)"/><rect x="502.7" y="990.6" width="29.7" height="29.9" fill="#fff"/><rect x="502.7" y="990.6" width="29.7" height="29.9" fill="url(#md)"/><rect x="532.4" y="990.6" width="29.4" height="29.9" fill="#fff"/><rect x="532.4" y="990.6" width="29.4" height="29.9" fill="url(#dn)"/><rect x="561.8" y="990.6" width="29.8" height="29.9" fill="#fff"/><rect x="561.8" y="990.6" width="29.8" height="29.9" fill="url(#sp)"/><rect x="502.7" y="1020.5" width="29.7" height="29" fill="#fff"/><rect x="502.7" y="1020.5" width="29.7" height="29" fill="url(#dn)"/><rect x="532.4" y="1020.5" width="29.4" height="29" fill="#fff"/><rect x="532.4" y="1020.5" width="29.4" height="29" fill="url(#md)"/><rect x="532.4" y="1049.5" width="29.4" height="29.6" fill="#fff"/><rect x="532.4" y="1049.5" width="29.4" height="29.6" fill="url(#dn)"/><rect x="561.8" y="1049.5" width="29.8" height="29.6" fill="#fff"/><rect x="561.8" y="1049.5" width="29.8" height="29.6" fill="url(#md)"/><rect x="502.7" y="1079.1" width="29.7" height="30" fill="#fff"/><rect x="502.7" y="1079.1" width="29.7" height="30" fill="url(#dn)"/><rect x="532.4" y="1079.1" width="29.4" height="30" fill="#fff"/><rect x="532.4" y="1079.1" width="29.4" height="30" fill="url(#md)"/><rect x="561.8" y="1079.1" width="29.8" height="30" fill="#fff"/><rect x="561.8" y="1079.1" width="29.8" height="30" fill="url(#md)"/><rect x="502.7" y="1109.1" width="29.7" height="29.2" fill="#fff"/><rect x="502.7" y="1109.1" width="29.7" height="29.2" fill="url(#dn)"/><rect x="532.4" y="1109.1" width="29.4" height="29.2" fill="#fff"/><rect x="532.4" y="1109.1" width="29.4" height="29.2" fill="url(#dn)"/><rect x="561.8" y="1109.1" width="29.8" height="29.2" fill="#fff"/><rect x="561.8" y="1109.1" width="29.8" height="29.2" fill="url(#sp)"/><rect x="472.75" y="1138.3" width="29.95" height="26.5" fill="#fff"/><rect x="472.75" y="1138.3" width="29.95" height="26.5" fill="url(#dn)"/><rect x="502.7" y="1138.3" width="29.7" height="26.5" fill="#fff"/><rect x="502.7" y="1138.3" width="29.7" height="26.5" fill="url(#sp)"/><rect x="532.4" y="1138.3" width="29.4" height="26.5" fill="#fff"/><rect x="532.4" y="1138.3" width="29.4" height="26.5" fill="url(#dn)"/><rect x="947.6" y="931.5" width="29.9" height="28.9" fill="#fff"/><rect x="947.6" y="931.5" width="29.9" height="28.9" fill="url(#sp)"/><rect x="977.5" y="931.5" width="29" height="28.9" fill="#fff"/><rect x="977.5" y="931.5" width="29" height="28.9" fill="url(#dn)"/><rect x="1036.6" y="960.4" width="29.9" height="30.2" fill="#fff"/><rect x="1036.6" y="960.4" width="29.9" height="30.2" fill="url(#dn)"/><rect x="947.6" y="990.6" width="29.9" height="29.9" fill="#fff"/><rect x="947.6" y="990.6" width="29.9" height="29.9" fill="url(#sp)"/><rect x="977.5" y="990.6" width="29" height="29.9" fill="#fff"/><rect x="977.5" y="990.6" width="29" height="29.9" fill="url(#dn)"/><rect x="1006.5" y="990.6" width="30.1" height="29.9" fill="#fff"/><rect x="1006.5" y="990.6" width="30.1" height="29.9" fill="url(#dn)"/><rect x="977.5" y="1020.5" width="29" height="29" fill="#fff"/><rect x="977.5" y="1020.5" width="29" height="29" fill="url(#dn)"/><rect x="977.5" y="1049.5" width="29" height="29.6" fill="#fff"/><rect x="977.5" y="1049.5" width="29" height="29.6" fill="url(#sp)"/><rect x="1006.5" y="1049.5" width="30.1" height="29.6" fill="#fff"/><rect x="1006.5" y="1049.5" width="30.1" height="29.6" fill="url(#dn)"/><rect x="947.6" y="1079.1" width="29.9" height="30" fill="#fff"/><rect x="947.6" y="1079.1" width="29.9" height="30" fill="url(#sp)"/><rect x="977.5" y="1079.1" width="29" height="30" fill="#fff"/><rect x="977.5" y="1079.1" width="29" height="30" fill="url(#dn)"/><rect x="1006.5" y="1079.1" width="30.1" height="30" fill="#fff"/><rect x="1006.5" y="1079.1" width="30.1" height="30" fill="url(#sp)"/><rect x="1036.6" y="1079.1" width="29.9" height="30" fill="#fff"/><rect x="1036.6" y="1079.1" width="29.9" height="30" fill="url(#dn)"/><rect x="977.5" y="1109.1" width="29" height="29.2" fill="#fff"/><rect x="977.5" y="1109.1" width="29" height="29.2" fill="url(#sp)"/><rect x="1006.5" y="1109.1" width="30.1" height="29.2" fill="#fff"/><rect x="1006.5" y="1109.1" width="30.1" height="29.2" fill="url(#dn)"/><rect x="977.5" y="1138.3" width="29" height="26.5" fill="#fff"/><rect x="977.5" y="1138.3" width="29" height="26.5" fill="url(#dn)"/><path d="M238.3 864.5L1696 864.5L1696 917L1664 917L1664 931.5L238.3 931.5Z" fill="#fff"/><path d="M238.3 864.5L1696 864.5L1696 917L1664 917L1664 931.5L238.3 931.5Z" fill="url(#ch)"/><rect x="1696" y="864.5" width="12" height="381.5" fill="#fff"/><rect x="1696" y="864.5" width="12" height="381.5" fill="url(#xh2)"/><rect x="1696" y="864.5" width="2" height="381.5" fill="#000" stroke="none"/><rect x="1706" y="864.5" width="2" height="381.5" fill="#000" stroke="none"/><rect x="238.3" y="1246.5" width="1519.7" height="9" fill="#fff"/><rect x="238.3" y="1246.5" width="1519.7" height="9" fill="url(#sh2)"/><rect x="238.3" y="1176.4" width="963.7" height="54.2" fill="#fff"/><rect x="1344.8" y="1176.4" width="152.2" height="54.2" fill="#fff"/><rect x="250" y="1168" width="176" height="4" fill="#000"/><path d="M252 1170h3M257 1170h3M262 1170h3M267 1170h3M272 1170h3M277 1170h3M282 1170h3M287 1170h3M292 1170h3M297 1170h3M302 1170h3M307 1170h3M312 1170h3M317 1170h3M322 1170h3M327 1170h3M332 1170h3M337 1170h3M342 1170h3M347 1170h3M352 1170h3M357 1170h3M362 1170h3M367 1170h3M372 1170h3M377 1170h3M382 1170h3M387 1170h3M392 1170h3M397 1170h3M402 1170h3M407 1170h3M412 1170h3M417 1170h3M422 1170h3" stroke="#fff" stroke-width="2" fill="none"/><rect x="638" y="1168" width="180" height="4" fill="#000"/><path d="M640 1170h3M645 1170h3M650 1170h3M655 1170h3M660 1170h3M665 1170h3M670 1170h3M675 1170h3M680 1170h3M685 1170h3M690 1170h3M695 1170h3M700 1170h3M705 1170h3M710 1170h3M715 1170h3M720 1170h3M725 1170h3M730 1170h3M735 1170h3M740 1170h3M745 1170h3M750 1170h3M755 1170h3M760 1170h3M765 1170h3M770 1170h3M775 1170h3M780 1170h3M785 1170h3M790 1170h3M795 1170h3M800 1170h3M805 1170h3M810 1170h3M815 1170h3" stroke="#fff" stroke-width="2" fill="none"/><rect x="253.2" y="1031.7" width="166" height="135" fill="#fff"/><rect x="646.6" y="1031.7" width="164.4" height="135" fill="#fff"/><rect x="1202.1" y="1028.1" width="142.6" height="213.4" fill="#fff"/><rect x="1247.6" y="1052.8" width="17.1" height="81.6" fill="#fff"/><rect x="1281.7" y="1052.8" width="17.4" height="81.6" fill="#fff"/><rect x="1209.2" y="1218.8" width="128.8" height="22.7" fill="#fff"/><rect x="1209.2" y="1218.8" width="128.8" height="22.7" fill="url(#kh)"/><rect x="473.75" y="1021.5" width="28.45" height="20" fill="#fff"/><rect x="948.6" y="1021.5" width="28.4" height="20" fill="#fff"/></g>
<g fill="none" stroke="#000" stroke-width="1" shape-rendering="crispEdges"><path d="M1185.5 201.5L1185.5 434.8"/><path d="M1215.3 201.5L1215.3 434.8"/><path d="M1155.6 201.5L1155.6 230.4"/><path d="M1155.6 260.6L1155.6 290.5"/><path d="M1155.6 319.5L1155.6 349.1"/><path d="M1155.6 408.3L1155.6 434.8"/><path d="M1244.7 230.4L1244.7 260.6"/><path d="M1244.7 260.6L1244.7 290.5"/><path d="M1244.7 290.5L1244.7 319.5"/><path d="M1244.7 349.1L1244.7 379.1"/><path d="M1244.7 379.1L1244.7 408.3"/><path d="M1274.6 260.6L1274.6 290.5"/><path d="M1274.6 379.1L1274.6 408.3"/><path d="M1155.6 230.4L1244.7 230.4"/><path d="M1155.6 260.6L1274.6 260.6"/><path d="M1155.6 290.5L1274.6 290.5"/><path d="M1155.6 319.5L1244.7 319.5"/><path d="M1155.6 349.1L1244.7 349.1"/><path d="M1185.5 379.1L1274.6 379.1"/><path d="M1155.6 408.3L1274.6 408.3"/><path d="M1607.5 201.5L1607.5 434.8"/><path d="M1637.2 201.5L1637.2 434.8"/><path d="M1577.5 201.5L1577.5 230.4"/><path d="M1577.5 230.4L1577.5 260.6"/><path d="M1577.5 260.6L1577.5 290.5"/><path d="M1577.5 290.5L1577.5 319.5"/><path d="M1577.5 349.1L1577.5 379.1"/><path d="M1577.5 379.1L1577.5 408.3"/><path d="M1548.5 201.5L1548.5 230.4"/><path d="M1548.5 260.6L1548.5 290.5"/><path d="M1548.5 349.1L1548.5 379.1"/><path d="M1666.6 201.5L1666.6 230.4"/><path d="M1666.6 260.6L1666.6 290.5"/><path d="M1666.6 349.1L1666.6 379.1"/><path d="M1548.5 230.4L1666.6 230.4"/><path d="M1548.5 260.6L1666.6 260.6"/><path d="M1548.5 290.5L1666.6 290.5"/><path d="M1577.5 319.5L1637.2 319.5"/><path d="M1548.5 349.1L1666.6 349.1"/><path d="M1548.5 379.1L1577.5 379.1"/><path d="M1607.5 379.1L1666.6 379.1"/><path d="M1577.5 408.3L1637.2 408.3"/><path d="M323 134.5L1715.5 134.5"/><path d="M465.5 201.5L1715.5 201.5"/><path d="M447.5 187L479.5 187"/><path d="M479.5 187L479.5 201.5"/><path d="M465.5 195L465.5 201.5"/><path d="M292.5 516.5L1715.5 516.5" stroke-dasharray="5 1.2"/><path d="M292.5 525.5L1715.5 525.5" stroke-dasharray="5 1.2"/><path d="M447.5 511.5L1715.5 511.5"/><path d="M321 511.5L385 511.5"/><path d="M292.5 93.5L1715.5 93.5" stroke-dasharray="27.5 10.9" stroke-dashoffset="11.75"/><path d="M292.5 93.5L292.5 630.5" stroke-dasharray="27.5 10.9" stroke-dashoffset="7"/><path d="M292.5 630.5L1715.5 630.5" stroke-dasharray="27.5 10.9" stroke-dashoffset="11.5"/><path d="M1715.5 93.5L1715.5 605"/><path d="M1715.5 616L1715.5 630.5"/><path d="M639.5 201.5L639.5 501"/><path d="M646.5 201.5L646.5 501"/><path d="M644.5 201.5L644.5 242"/><rect x="633.5" y="434.8" width="218.5" height="11.6" fill="#fff"/><rect x="1007.8" y="434.8" width="312.5" height="11.6" fill="#fff"/><rect x="1502.2" y="434.8" width="210.3" height="11.6" fill="#fff"/><path d="M852 438.5L858 438.5" stroke-width="1.5"/><path d="M1001.5 438.5L1007.8 438.5" stroke-width="1.5"/><path d="M1712.5 438.5L1715.5 438.5" stroke-width="1.5"/><path d="M650 448.5h4M652.5 446v4M661 448.5h4M663.5 446v4M673 448.5h4M675.5 446v4M685 448.5h4M687.5 446v4M696 448.5h4M698.5 446v4M708 448.5h4M710.5 446v4M720 448.5h4M722.5 446v4M732 448.5h4M734.5 446v4M743 448.5h4M745.5 446v4M755 448.5h4M757.5 446v4M767 448.5h4M769.5 446v4M778 448.5h4M780.5 446v4M790 448.5h4M792.5 446v4M802 448.5h4M804.5 446v4M813 448.5h4M815.5 446v4M825 448.5h4M827.5 446v4M837 448.5h4M839.5 446v4M848 448.5h4M850.5 446v4M655 454.5h4M657.5 452v4M667 454.5h4M669.5 452v4M679 454.5h4M681.5 452v4M691 454.5h4M693.5 452v4M702 454.5h4M704.5 452v4M714 454.5h4M716.5 452v4M726 454.5h4M728.5 452v4M737 454.5h4M739.5 452v4M749 454.5h4M751.5 452v4M761 454.5h4M763.5 452v4M772 454.5h4M774.5 452v4M784 454.5h4M786.5 452v4M796 454.5h4M798.5 452v4M808 454.5h4M810.5 452v4M819 454.5h4M821.5 452v4M831 454.5h4M833.5 452v4M843 454.5h4M845.5 452v4M650 460.5h4M652.5 458v4M661 460.5h4M663.5 458v4M673 460.5h4M675.5 458v4M685 460.5h4M687.5 458v4M696 460.5h4M698.5 458v4M708 460.5h4M710.5 458v4M720 460.5h4M722.5 458v4M732 460.5h4M734.5 458v4M743 460.5h4M745.5 458v4M755 460.5h4M757.5 458v4M767 460.5h4M769.5 458v4M778 460.5h4M780.5 458v4M790 460.5h4M792.5 458v4M802 460.5h4M804.5 458v4M813 460.5h4M815.5 458v4M825 460.5h4M827.5 458v4M837 460.5h4M839.5 458v4M848 460.5h4M850.5 458v4M655 466.5h4M657.5 464v4M667 466.5h4M669.5 464v4M679 466.5h4M681.5 464v4M691 466.5h4M693.5 464v4M702 466.5h4M704.5 464v4M714 466.5h4M716.5 464v4M726 466.5h4M728.5 464v4M737 466.5h4M739.5 464v4M749 466.5h4M751.5 464v4M761 466.5h4M763.5 464v4M772 466.5h4M774.5 464v4M784 466.5h4M786.5 464v4M796 466.5h4M798.5 464v4M808 466.5h4M810.5 464v4M819 466.5h4M821.5 464v4M831 466.5h4M833.5 464v4M843 466.5h4M845.5 464v4M650 472.5h4M652.5 470v4M661 472.5h4M663.5 470v4M673 472.5h4M675.5 470v4M685 472.5h4M687.5 470v4M696 472.5h4M698.5 470v4M708 472.5h4M710.5 470v4M720 472.5h4M722.5 470v4M732 472.5h4M734.5 470v4M743 472.5h4M745.5 470v4M755 472.5h4M757.5 470v4M767 472.5h4M769.5 470v4M778 472.5h4M780.5 470v4M790 472.5h4M792.5 470v4M802 472.5h4M804.5 470v4M813 472.5h4M815.5 470v4M825 472.5h4M827.5 470v4M837 472.5h4M839.5 470v4M848 472.5h4M850.5 470v4M655 478.5h4M657.5 476v4M667 478.5h4M669.5 476v4M679 478.5h4M681.5 476v4M691 478.5h4M693.5 476v4M702 478.5h4M704.5 476v4M714 478.5h4M716.5 476v4M726 478.5h4M728.5 476v4M737 478.5h4M739.5 476v4M749 478.5h4M751.5 476v4M761 478.5h4M763.5 476v4M772 478.5h4M774.5 476v4M784 478.5h4M786.5 476v4M796 478.5h4M798.5 476v4M808 478.5h4M810.5 476v4M819 478.5h4M821.5 476v4M831 478.5h4M833.5 476v4M843 478.5h4M845.5 476v4M650 483.5h4M652.5 481v4M661 483.5h4M663.5 481v4M673 483.5h4M675.5 481v4M685 483.5h4M687.5 481v4M696 483.5h4M698.5 481v4M708 483.5h4M710.5 481v4M720 483.5h4M722.5 481v4M732 483.5h4M734.5 481v4M743 483.5h4M745.5 481v4M755 483.5h4M757.5 481v4M767 483.5h4M769.5 481v4M778 483.5h4M780.5 481v4M790 483.5h4M792.5 481v4M802 483.5h4M804.5 481v4M813 483.5h4M815.5 481v4M825 483.5h4M827.5 481v4M837 483.5h4M839.5 481v4M848 483.5h4M850.5 481v4M655 489.5h4M657.5 487v4M667 489.5h4M669.5 487v4M679 489.5h4M681.5 487v4M691 489.5h4M693.5 487v4M702 489.5h4M704.5 487v4M714 489.5h4M716.5 487v4M726 489.5h4M728.5 487v4M737 489.5h4M739.5 487v4M749 489.5h4M751.5 487v4M761 489.5h4M763.5 487v4M772 489.5h4M774.5 487v4M784 489.5h4M786.5 487v4M796 489.5h4M798.5 487v4M808 489.5h4M810.5 487v4M819 489.5h4M821.5 487v4M831 489.5h4M833.5 487v4M843 489.5h4M845.5 487v4M650 495.5h4M652.5 493v4M661 495.5h4M663.5 493v4M673 495.5h4M675.5 493v4M685 495.5h4M687.5 493v4M696 495.5h4M698.5 493v4M708 495.5h4M710.5 493v4M720 495.5h4M722.5 493v4M732 495.5h4M734.5 493v4M743 495.5h4M745.5 493v4M755 495.5h4M757.5 493v4M767 495.5h4M769.5 493v4M778 495.5h4M780.5 493v4M790 495.5h4M792.5 493v4M802 495.5h4M804.5 493v4M813 495.5h4M815.5 493v4M825 495.5h4M827.5 493v4M837 495.5h4M839.5 493v4M848 495.5h4M850.5 493v4"/><path d="M1012 448.5h4M1014.5 446v4M1024 448.5h4M1026.5 446v4M1036 448.5h4M1038.5 446v4M1047 448.5h4M1049.5 446v4M1059 448.5h4M1061.5 446v4M1071 448.5h4M1073.5 446v4M1082 448.5h4M1084.5 446v4M1094 448.5h4M1096.5 446v4M1106 448.5h4M1108.5 446v4M1118 448.5h4M1120.5 446v4M1129 448.5h4M1131.5 446v4M1141 448.5h4M1143.5 446v4M1153 448.5h4M1155.5 446v4M1164 448.5h4M1166.5 446v4M1176 448.5h4M1178.5 446v4M1188 448.5h4M1190.5 446v4M1200 448.5h4M1202.5 446v4M1211 448.5h4M1213.5 446v4M1223 448.5h4M1225.5 446v4M1235 448.5h4M1237.5 446v4M1246 448.5h4M1248.5 446v4M1258 448.5h4M1260.5 446v4M1270 448.5h4M1272.5 446v4M1281 448.5h4M1283.5 446v4M1293 448.5h4M1295.5 446v4M1305 448.5h4M1307.5 446v4M1316 448.5h4M1318.5 446v4M1328 448.5h4M1330.5 446v4M1340 448.5h4M1342.5 446v4M1352 448.5h4M1354.5 446v4M1363 448.5h4M1365.5 446v4M1375 448.5h4M1377.5 446v4M1387 448.5h4M1389.5 446v4M1398 448.5h4M1400.5 446v4M1410 448.5h4M1412.5 446v4M1422 448.5h4M1424.5 446v4M1434 448.5h4M1436.5 446v4M1445 448.5h4M1447.5 446v4M1457 448.5h4M1459.5 446v4M1469 448.5h4M1471.5 446v4M1480 448.5h4M1482.5 446v4M1492 448.5h4M1494.5 446v4M1504 448.5h4M1506.5 446v4M1515 448.5h4M1517.5 446v4M1527 448.5h4M1529.5 446v4M1539 448.5h4M1541.5 446v4M1550 448.5h4M1552.5 446v4M1562 448.5h4M1564.5 446v4M1574 448.5h4M1576.5 446v4M1586 448.5h4M1588.5 446v4M1597 448.5h4M1599.5 446v4M1609 448.5h4M1611.5 446v4M1621 448.5h4M1623.5 446v4M1632 448.5h4M1634.5 446v4M1644 448.5h4M1646.5 446v4M1656 448.5h4M1658.5 446v4M1668 448.5h4M1670.5 446v4M1679 448.5h4M1681.5 446v4M1691 448.5h4M1693.5 446v4M1703 448.5h4M1705.5 446v4M1006 454.5h4M1008.5 452v4M1018 454.5h4M1020.5 452v4M1030 454.5h4M1032.5 452v4M1042 454.5h4M1044.5 452v4M1053 454.5h4M1055.5 452v4M1065 454.5h4M1067.5 452v4M1077 454.5h4M1079.5 452v4M1088 454.5h4M1090.5 452v4M1100 454.5h4M1102.5 452v4M1112 454.5h4M1114.5 452v4M1123 454.5h4M1125.5 452v4M1135 454.5h4M1137.5 452v4M1147 454.5h4M1149.5 452v4M1159 454.5h4M1161.5 452v4M1170 454.5h4M1172.5 452v4M1182 454.5h4M1184.5 452v4M1194 454.5h4M1196.5 452v4M1205 454.5h4M1207.5 452v4M1217 454.5h4M1219.5 452v4M1229 454.5h4M1231.5 452v4M1240 454.5h4M1242.5 452v4M1252 454.5h4M1254.5 452v4M1264 454.5h4M1266.5 452v4M1276 454.5h4M1278.5 452v4M1287 454.5h4M1289.5 452v4M1299 454.5h4M1301.5 452v4M1311 454.5h4M1313.5 452v4M1322 454.5h4M1324.5 452v4M1334 454.5h4M1336.5 452v4M1346 454.5h4M1348.5 452v4M1357 454.5h4M1359.5 452v4M1369 454.5h4M1371.5 452v4M1381 454.5h4M1383.5 452v4M1393 454.5h4M1395.5 452v4M1404 454.5h4M1406.5 452v4M1416 454.5h4M1418.5 452v4M1428 454.5h4M1430.5 452v4M1439 454.5h4M1441.5 452v4M1451 454.5h4M1453.5 452v4M1463 454.5h4M1465.5 452v4M1474 454.5h4M1476.5 452v4M1486 454.5h4M1488.5 452v4M1498 454.5h4M1500.5 452v4M1510 454.5h4M1512.5 452v4M1521 454.5h4M1523.5 452v4M1533 454.5h4M1535.5 452v4M1545 454.5h4M1547.5 452v4M1556 454.5h4M1558.5 452v4M1568 454.5h4M1570.5 452v4M1580 454.5h4M1582.5 452v4M1591 454.5h4M1593.5 452v4M1603 454.5h4M1605.5 452v4M1615 454.5h4M1617.5 452v4M1627 454.5h4M1629.5 452v4M1638 454.5h4M1640.5 452v4M1650 454.5h4M1652.5 452v4M1662 454.5h4M1664.5 452v4M1673 454.5h4M1675.5 452v4M1685 454.5h4M1687.5 452v4M1697 454.5h4M1699.5 452v4M1708 454.5h4M1710.5 452v4M1012 460.5h4M1014.5 458v4M1024 460.5h4M1026.5 458v4M1036 460.5h4M1038.5 458v4M1047 460.5h4M1049.5 458v4M1059 460.5h4M1061.5 458v4M1071 460.5h4M1073.5 458v4M1082 460.5h4M1084.5 458v4M1094 460.5h4M1096.5 458v4M1106 460.5h4M1108.5 458v4M1118 460.5h4M1120.5 458v4M1129 460.5h4M1131.5 458v4M1141 460.5h4M1143.5 458v4M1153 460.5h4M1155.5 458v4M1164 460.5h4M1166.5 458v4M1176 460.5h4M1178.5 458v4M1188 460.5h4M1190.5 458v4M1200 460.5h4M1202.5 458v4M1211 460.5h4M1213.5 458v4M1223 460.5h4M1225.5 458v4M1235 460.5h4M1237.5 458v4M1246 460.5h4M1248.5 458v4M1258 460.5h4M1260.5 458v4M1270 460.5h4M1272.5 458v4M1281 460.5h4M1283.5 458v4M1293 460.5h4M1295.5 458v4M1305 460.5h4M1307.5 458v4M1316 460.5h4M1318.5 458v4M1328 460.5h4M1330.5 458v4M1340 460.5h4M1342.5 458v4M1352 460.5h4M1354.5 458v4M1363 460.5h4M1365.5 458v4M1375 460.5h4M1377.5 458v4M1387 460.5h4M1389.5 458v4M1398 460.5h4M1400.5 458v4M1410 460.5h4M1412.5 458v4M1422 460.5h4M1424.5 458v4M1434 460.5h4M1436.5 458v4M1445 460.5h4M1447.5 458v4M1457 460.5h4M1459.5 458v4M1469 460.5h4M1471.5 458v4M1480 460.5h4M1482.5 458v4M1492 460.5h4M1494.5 458v4M1504 460.5h4M1506.5 458v4M1515 460.5h4M1517.5 458v4M1527 460.5h4M1529.5 458v4M1539 460.5h4M1541.5 458v4M1550 460.5h4M1552.5 458v4M1562 460.5h4M1564.5 458v4M1574 460.5h4M1576.5 458v4M1586 460.5h4M1588.5 458v4M1597 460.5h4M1599.5 458v4M1609 460.5h4M1611.5 458v4M1621 460.5h4M1623.5 458v4M1632 460.5h4M1634.5 458v4M1644 460.5h4M1646.5 458v4M1656 460.5h4M1658.5 458v4M1668 460.5h4M1670.5 458v4M1679 460.5h4M1681.5 458v4M1691 460.5h4M1693.5 458v4M1703 460.5h4M1705.5 458v4M1006 466.5h4M1008.5 464v4M1018 466.5h4M1020.5 464v4M1030 466.5h4M1032.5 464v4M1042 466.5h4M1044.5 464v4M1053 466.5h4M1055.5 464v4M1065 466.5h4M1067.5 464v4M1077 466.5h4M1079.5 464v4M1088 466.5h4M1090.5 464v4M1100 466.5h4M1102.5 464v4M1112 466.5h4M1114.5 464v4M1123 466.5h4M1125.5 464v4M1135 466.5h4M1137.5 464v4M1147 466.5h4M1149.5 464v4M1159 466.5h4M1161.5 464v4M1170 466.5h4M1172.5 464v4M1182 466.5h4M1184.5 464v4M1194 466.5h4M1196.5 464v4M1205 466.5h4M1207.5 464v4M1217 466.5h4M1219.5 464v4M1229 466.5h4M1231.5 464v4M1240 466.5h4M1242.5 464v4M1252 466.5h4M1254.5 464v4M1264 466.5h4M1266.5 464v4M1276 466.5h4M1278.5 464v4M1287 466.5h4M1289.5 464v4M1299 466.5h4M1301.5 464v4M1311 466.5h4M1313.5 464v4M1322 466.5h4M1324.5 464v4M1334 466.5h4M1336.5 464v4M1346 466.5h4M1348.5 464v4M1357 466.5h4M1359.5 464v4M1369 466.5h4M1371.5 464v4M1381 466.5h4M1383.5 464v4M1393 466.5h4M1395.5 464v4M1404 466.5h4M1406.5 464v4M1416 466.5h4M1418.5 464v4M1428 466.5h4M1430.5 464v4M1439 466.5h4M1441.5 464v4M1451 466.5h4M1453.5 464v4M1463 466.5h4M1465.5 464v4M1474 466.5h4M1476.5 464v4M1486 466.5h4M1488.5 464v4M1498 466.5h4M1500.5 464v4M1510 466.5h4M1512.5 464v4M1521 466.5h4M1523.5 464v4M1533 466.5h4M1535.5 464v4M1545 466.5h4M1547.5 464v4M1556 466.5h4M1558.5 464v4M1568 466.5h4M1570.5 464v4M1580 466.5h4M1582.5 464v4M1591 466.5h4M1593.5 464v4M1603 466.5h4M1605.5 464v4M1615 466.5h4M1617.5 464v4M1627 466.5h4M1629.5 464v4M1638 466.5h4M1640.5 464v4M1650 466.5h4M1652.5 464v4M1662 466.5h4M1664.5 464v4M1673 466.5h4M1675.5 464v4M1685 466.5h4M1687.5 464v4M1697 466.5h4M1699.5 464v4M1708 466.5h4M1710.5 464v4M1012 472.5h4M1014.5 470v4M1024 472.5h4M1026.5 470v4M1036 472.5h4M1038.5 470v4M1047 472.5h4M1049.5 470v4M1059 472.5h4M1061.5 470v4M1071 472.5h4M1073.5 470v4M1082 472.5h4M1084.5 470v4M1094 472.5h4M1096.5 470v4M1106 472.5h4M1108.5 470v4M1118 472.5h4M1120.5 470v4M1129 472.5h4M1131.5 470v4M1141 472.5h4M1143.5 470v4M1153 472.5h4M1155.5 470v4M1164 472.5h4M1166.5 470v4M1176 472.5h4M1178.5 470v4M1188 472.5h4M1190.5 470v4M1200 472.5h4M1202.5 470v4M1211 472.5h4M1213.5 470v4M1223 472.5h4M1225.5 470v4M1235 472.5h4M1237.5 470v4M1246 472.5h4M1248.5 470v4M1258 472.5h4M1260.5 470v4M1270 472.5h4M1272.5 470v4M1281 472.5h4M1283.5 470v4M1293 472.5h4M1295.5 470v4M1305 472.5h4M1307.5 470v4M1316 472.5h4M1318.5 470v4M1328 472.5h4M1330.5 470v4M1340 472.5h4M1342.5 470v4M1352 472.5h4M1354.5 470v4M1363 472.5h4M1365.5 470v4M1375 472.5h4M1377.5 470v4M1387 472.5h4M1389.5 470v4M1398 472.5h4M1400.5 470v4M1410 472.5h4M1412.5 470v4M1422 472.5h4M1424.5 470v4M1434 472.5h4M1436.5 470v4M1445 472.5h4M1447.5 470v4M1457 472.5h4M1459.5 470v4M1469 472.5h4M1471.5 470v4M1480 472.5h4M1482.5 470v4M1492 472.5h4M1494.5 470v4M1504 472.5h4M1506.5 470v4M1515 472.5h4M1517.5 470v4M1527 472.5h4M1529.5 470v4M1539 472.5h4M1541.5 470v4M1550 472.5h4M1552.5 470v4M1562 472.5h4M1564.5 470v4M1574 472.5h4M1576.5 470v4M1586 472.5h4M1588.5 470v4M1597 472.5h4M1599.5 470v4M1609 472.5h4M1611.5 470v4M1621 472.5h4M1623.5 470v4M1632 472.5h4M1634.5 470v4M1644 472.5h4M1646.5 470v4M1656 472.5h4M1658.5 470v4M1668 472.5h4M1670.5 470v4M1679 472.5h4M1681.5 470v4M1691 472.5h4M1693.5 470v4M1703 472.5h4M1705.5 470v4M1006 478.5h4M1008.5 476v4M1018 478.5h4M1020.5 476v4M1030 478.5h4M1032.5 476v4M1042 478.5h4M1044.5 476v4M1053 478.5h4M1055.5 476v4M1065 478.5h4M1067.5 476v4M1077 478.5h4M1079.5 476v4M1088 478.5h4M1090.5 476v4M1100 478.5h4M1102.5 476v4M1112 478.5h4M1114.5 476v4M1123 478.5h4M1125.5 476v4M1135 478.5h4M1137.5 476v4M1147 478.5h4M1149.5 476v4M1159 478.5h4M1161.5 476v4M1170 478.5h4M1172.5 476v4M1182 478.5h4M1184.5 476v4M1194 478.5h4M1196.5 476v4M1205 478.5h4M1207.5 476v4M1217 478.5h4M1219.5 476v4M1229 478.5h4M1231.5 476v4M1240 478.5h4M1242.5 476v4M1252 478.5h4M1254.5 476v4M1264 478.5h4M1266.5 476v4M1276 478.5h4M1278.5 476v4M1287 478.5h4M1289.5 476v4M1299 478.5h4M1301.5 476v4M1311 478.5h4M1313.5 476v4M1322 478.5h4M1324.5 476v4M1334 478.5h4M1336.5 476v4M1346 478.5h4M1348.5 476v4M1357 478.5h4M1359.5 476v4M1369 478.5h4M1371.5 476v4M1381 478.5h4M1383.5 476v4M1393 478.5h4M1395.5 476v4M1404 478.5h4M1406.5 476v4M1416 478.5h4M1418.5 476v4M1428 478.5h4M1430.5 476v4M1439 478.5h4M1441.5 476v4M1451 478.5h4M1453.5 476v4M1463 478.5h4M1465.5 476v4M1474 478.5h4M1476.5 476v4M1486 478.5h4M1488.5 476v4M1498 478.5h4M1500.5 476v4M1510 478.5h4M1512.5 476v4M1521 478.5h4M1523.5 476v4M1533 478.5h4M1535.5 476v4M1545 478.5h4M1547.5 476v4M1556 478.5h4M1558.5 476v4M1568 478.5h4M1570.5 476v4M1580 478.5h4M1582.5 476v4M1591 478.5h4M1593.5 476v4M1603 478.5h4M1605.5 476v4M1615 478.5h4M1617.5 476v4M1627 478.5h4M1629.5 476v4M1638 478.5h4M1640.5 476v4M1650 478.5h4M1652.5 476v4M1662 478.5h4M1664.5 476v4M1673 478.5h4M1675.5 476v4M1685 478.5h4M1687.5 476v4M1697 478.5h4M1699.5 476v4M1708 478.5h4M1710.5 476v4M1012 483.5h4M1014.5 481v4M1024 483.5h4M1026.5 481v4M1036 483.5h4M1038.5 481v4M1047 483.5h4M1049.5 481v4M1059 483.5h4M1061.5 481v4M1071 483.5h4M1073.5 481v4M1082 483.5h4M1084.5 481v4M1094 483.5h4M1096.5 481v4M1106 483.5h4M1108.5 481v4M1118 483.5h4M1120.5 481v4M1129 483.5h4M1131.5 481v4M1141 483.5h4M1143.5 481v4M1153 483.5h4M1155.5 481v4M1164 483.5h4M1166.5 481v4M1176 483.5h4M1178.5 481v4M1188 483.5h4M1190.5 481v4M1200 483.5h4M1202.5 481v4M1211 483.5h4M1213.5 481v4M1223 483.5h4M1225.5 481v4M1235 483.5h4M1237.5 481v4M1246 483.5h4M1248.5 481v4M1258 483.5h4M1260.5 481v4M1270 483.5h4M1272.5 481v4M1281 483.5h4M1283.5 481v4M1293 483.5h4M1295.5 481v4M1305 483.5h4M1307.5 481v4M1316 483.5h4M1318.5 481v4M1328 483.5h4M1330.5 481v4M1340 483.5h4M1342.5 481v4M1352 483.5h4M1354.5 481v4M1363 483.5h4M1365.5 481v4M1375 483.5h4M1377.5 481v4M1387 483.5h4M1389.5 481v4M1398 483.5h4M1400.5 481v4M1410 483.5h4M1412.5 481v4M1422 483.5h4M1424.5 481v4M1434 483.5h4M1436.5 481v4M1445 483.5h4M1447.5 481v4M1457 483.5h4M1459.5 481v4M1469 483.5h4M1471.5 481v4M1480 483.5h4M1482.5 481v4M1492 483.5h4M1494.5 481v4M1504 483.5h4M1506.5 481v4M1515 483.5h4M1517.5 481v4M1527 483.5h4M1529.5 481v4M1539 483.5h4M1541.5 481v4M1550 483.5h4M1552.5 481v4M1562 483.5h4M1564.5 481v4M1574 483.5h4M1576.5 481v4M1586 483.5h4M1588.5 481v4M1597 483.5h4M1599.5 481v4M1609 483.5h4M1611.5 481v4M1621 483.5h4M1623.5 481v4M1632 483.5h4M1634.5 481v4M1644 483.5h4M1646.5 481v4M1656 483.5h4M1658.5 481v4M1668 483.5h4M1670.5 481v4M1679 483.5h4M1681.5 481v4M1691 483.5h4M1693.5 481v4M1703 483.5h4M1705.5 481v4M1006 489.5h4M1008.5 487v4M1018 489.5h4M1020.5 487v4M1030 489.5h4M1032.5 487v4M1042 489.5h4M1044.5 487v4M1053 489.5h4M1055.5 487v4M1065 489.5h4M1067.5 487v4M1077 489.5h4M1079.5 487v4M1088 489.5h4M1090.5 487v4M1100 489.5h4M1102.5 487v4M1112 489.5h4M1114.5 487v4M1123 489.5h4M1125.5 487v4M1135 489.5h4M1137.5 487v4M1147 489.5h4M1149.5 487v4M1159 489.5h4M1161.5 487v4M1170 489.5h4M1172.5 487v4M1182 489.5h4M1184.5 487v4M1194 489.5h4M1196.5 487v4M1205 489.5h4M1207.5 487v4M1217 489.5h4M1219.5 487v4M1229 489.5h4M1231.5 487v4M1240 489.5h4M1242.5 487v4M1252 489.5h4M1254.5 487v4M1264 489.5h4M1266.5 487v4M1276 489.5h4M1278.5 487v4M1287 489.5h4M1289.5 487v4M1299 489.5h4M1301.5 487v4M1311 489.5h4M1313.5 487v4M1322 489.5h4M1324.5 487v4M1334 489.5h4M1336.5 487v4M1346 489.5h4M1348.5 487v4M1357 489.5h4M1359.5 487v4M1369 489.5h4M1371.5 487v4M1381 489.5h4M1383.5 487v4M1393 489.5h4M1395.5 487v4M1404 489.5h4M1406.5 487v4M1416 489.5h4M1418.5 487v4M1428 489.5h4M1430.5 487v4M1439 489.5h4M1441.5 487v4M1451 489.5h4M1453.5 487v4M1463 489.5h4M1465.5 487v4M1474 489.5h4M1476.5 487v4M1486 489.5h4M1488.5 487v4M1498 489.5h4M1500.5 487v4M1510 489.5h4M1512.5 487v4M1521 489.5h4M1523.5 487v4M1533 489.5h4M1535.5 487v4M1545 489.5h4M1547.5 487v4M1556 489.5h4M1558.5 487v4M1568 489.5h4M1570.5 487v4M1580 489.5h4M1582.5 487v4M1591 489.5h4M1593.5 487v4M1603 489.5h4M1605.5 487v4M1615 489.5h4M1617.5 487v4M1627 489.5h4M1629.5 487v4M1638 489.5h4M1640.5 487v4M1650 489.5h4M1652.5 487v4M1662 489.5h4M1664.5 487v4M1673 489.5h4M1675.5 487v4M1685 489.5h4M1687.5 487v4M1697 489.5h4M1699.5 487v4M1708 489.5h4M1710.5 487v4M1012 495.5h4M1014.5 493v4M1024 495.5h4M1026.5 493v4M1036 495.5h4M1038.5 493v4M1047 495.5h4M1049.5 493v4M1059 495.5h4M1061.5 493v4M1071 495.5h4M1073.5 493v4M1082 495.5h4M1084.5 493v4M1094 495.5h4M1096.5 493v4M1106 495.5h4M1108.5 493v4M1118 495.5h4M1120.5 493v4M1129 495.5h4M1131.5 493v4M1141 495.5h4M1143.5 493v4M1153 495.5h4M1155.5 493v4M1164 495.5h4M1166.5 493v4M1176 495.5h4M1178.5 493v4M1188 495.5h4M1190.5 493v4M1200 495.5h4M1202.5 493v4M1211 495.5h4M1213.5 493v4M1223 495.5h4M1225.5 493v4M1235 495.5h4M1237.5 493v4M1246 495.5h4M1248.5 493v4M1258 495.5h4M1260.5 493v4M1270 495.5h4M1272.5 493v4M1281 495.5h4M1283.5 493v4M1293 495.5h4M1295.5 493v4M1305 495.5h4M1307.5 493v4M1316 495.5h4M1318.5 493v4M1328 495.5h4M1330.5 493v4M1340 495.5h4M1342.5 493v4M1352 495.5h4M1354.5 493v4M1363 495.5h4M1365.5 493v4M1375 495.5h4M1377.5 493v4M1387 495.5h4M1389.5 493v4M1398 495.5h4M1400.5 493v4M1410 495.5h4M1412.5 493v4M1422 495.5h4M1424.5 493v4M1434 495.5h4M1436.5 493v4M1445 495.5h4M1447.5 493v4M1457 495.5h4M1459.5 493v4M1469 495.5h4M1471.5 493v4M1480 495.5h4M1482.5 493v4M1492 495.5h4M1494.5 493v4M1504 495.5h4M1506.5 493v4M1515 495.5h4M1517.5 493v4M1527 495.5h4M1529.5 493v4M1539 495.5h4M1541.5 493v4M1550 495.5h4M1552.5 493v4M1562 495.5h4M1564.5 493v4M1574 495.5h4M1576.5 493v4M1586 495.5h4M1588.5 493v4M1597 495.5h4M1599.5 493v4M1609 495.5h4M1611.5 493v4M1621 495.5h4M1623.5 493v4M1632 495.5h4M1634.5 493v4M1644 495.5h4M1646.5 493v4M1656 495.5h4M1658.5 493v4M1668 495.5h4M1670.5 493v4M1679 495.5h4M1681.5 493v4M1691 495.5h4M1693.5 493v4M1703 495.5h4M1705.5 493v4"/><path d="M640 500.8L858 500.8" stroke-width="1.6"/><path d="M1001.8 500.8L1715.5 500.8" stroke-width="1.6"/><path d="M1320.3 438.5L1326.5 438.5"/><path d="M1496 438.5L1502.2 438.5"/><rect x="858.1" y="298.1" width="143.8" height="213.4"/><rect x="862.6" y="301.8" width="135.1" height="209.7"/><rect x="865.2" y="304.8" width="130" height="206.7"/><path d="M863.1 303.3L996.9 303.3" stroke-width="1.3" stroke-dasharray="3 1.5"/><path d="M930.2 301.8L930.2 511.5" stroke-width="1.4"/><rect x="904.2" y="322.8" width="17.1" height="81.6" stroke-width="1.3"/><rect x="905.8" y="324.4" width="13.9" height="78.4" stroke-width="0.8"/><rect x="938.3" y="322.8" width="17.4" height="81.6" stroke-width="1.3"/><rect x="939.9" y="324.4" width="14.2" height="78.4" stroke-width="0.8"/><path d="M911.7 419.6L923.7 419.6" stroke-width="1.4"/><rect x="920" y="415.1" width="3.8" height="17.5" fill="#fff" stroke-width="0.9"/><path d="M935.2 419.6L947.2 419.6" stroke-width="1.4"/><rect x="935.2" y="415.1" width="3.7" height="17.5" fill="#fff" stroke-width="0.9"/><path d="M865.2 488.8L995.2 488.8"/><path d="M852.3 451L852.3 476"/><path d="M846 454.3L858 454.3"/><path d="M846 469L858 469"/><path d="M1021.7 299L1021.7 516"/><path d="M1006 301.8L1029.6 301.8"/><path d="M1006 306.5L1029.6 306.5"/><path d="M1003 488.5L1029.6 488.5" stroke-width="1.3"/><path d="M1003 501L1029.6 501" stroke-width="1.3"/><rect x="1329.6" y="301.7" width="163.6" height="135"/><rect x="1334.5" y="307.9" width="153.2" height="128.2"/><path d="M1408.5 307.9L1408.5 436.1"/><rect x="1341.3" y="313.4" width="67" height="115.9"/><rect x="1414" y="313.4" width="67.6" height="115.9"/><path d="M1362.8 378.2L1392.8 378.2" stroke-width="1.2"/><path d="M1430.8 378.2L1459.8 378.2" stroke-width="1.2"/><path d="M321 187L429 187" stroke="#333"/><path d="M321 201.5L429 201.5" stroke="#333"/><path d="M385 187L385 511.5"/><path d="M411 183L411 516"/><path d="M405 187L417 187"/><path d="M405 201.5L417 201.5"/><path d="M405 434L429.5 434"/><path d="M405 446L429.5 446"/><path d="M405 506.4L429.5 506.4"/><path d="M405 511.5L429.5 511.5"/><path d="M606.8 201.5L606.8 516"/><path d="M601.7 301.8L624.3 301.8" stroke-width="1.6"/><path d="M601.7 506.3L624.3 506.3"/><path d="M637.3 268L637.3 289" stroke-width="1.6"/><path d="M606.8 352.5L647 352.5" stroke-dasharray="9 3"/><path d="M619 356.5L647.6 356.5" stroke-width="2"/><rect x="447.8" y="436" width="5.2" height="10"/><path d="M453 434L453 449" stroke-width="1.2"/><path d="M635 541.2L1715.5 541.2"/><path d="M447.5 566.5L1715.5 566.5"/><path d="M447.5 549L447.5 574"/><path d="M639.7 522.5L639.7 574"/><path d="M646.5 522.5L646.5 550"/><path d="M858.5 524L858.5 550"/><path d="M864 524L864 550"/><path d="M995.5 524L995.5 550"/><path d="M1001.5 524L1001.5 550"/><path d="M1329.5 522.5L1329.5 550"/><path d="M1493 522.5L1493 550"/><path d="M664.5 525.5L664.5 600.3"/><path d="M1234.5 525.5L1234.5 600.3"/><path d="M771.5 425L771.5 549" stroke-dasharray="12 3"/><path d="M775 426L775 454" stroke-width="1.8"/><path d="M775 489L775 518" stroke-width="1.8"/><path d="M1268 434.8L1268 511.5"/><path d="M1308 437.5L1308 511.5"/><path d="M1464.6 201.5L1464.6 516"/><path d="M1317 413L1334 413"/><path d="M1329.6 406L1329.6 420"/><path d="M1489 413L1506 413"/><path d="M1493.2 406L1493.2 420"/><path d="M1327.5 440L1327.5 465"/><path d="M1329.6 436.7L1329.6 465"/><path d="M1493.2 436.7L1493.2 465"/><path d="M1495.5 440L1495.5 465"/><path d="M1274.6 368.3L1329.6 368.3"/><path d="M1274.6 363L1274.6 373"/><path d="M1493.2 368.3L1548.5 368.3"/><path d="M1666.6 368.3L1715.5 368.3"/><path d="M1142 319.5L1142 349.1"/><path d="M1136 319.5L1153 319.5"/><path d="M1136 349.1L1153 349.1"/><path d="M1155.6 370.6L1185.5 370.6"/><path d="M1155.6 346.1L1155.6 376.1"/><path d="M1621.5 260.6L1621.5 290.5"/><path d="M1637.2 312L1666.6 312"/><path d="M1666.6 287.5L1666.6 317.5"/><rect x="800.5" y="39.5" width="51" height="15" fill="#fff"/><path d="M820.5 35L820.5 59.5"/><path d="M786.5 47.5L786.5 241"/><path d="M786.5 47.5L800.5 47.5"/><rect x="1209.5" y="39.5" width="51" height="15" fill="#fff"/><path d="M1229.5 35L1229.5 59.5"/><path d="M1195.5 47.5L1195.5 214.5"/><path d="M1195.5 47.5L1209.5 47.5"/><rect x="1315" y="39.5" width="51" height="15" fill="#fff"/><path d="M1335 35L1335 59.5"/><path d="M1301.5 47.5L1301.5 255"/><path d="M1301.5 47.5L1315 47.5"/><rect x="1494.5" y="39.5" width="51" height="15" fill="#fff"/><path d="M1514.5 35L1514.5 59.5"/><path d="M1480.5 47.5L1480.5 302.5"/><path d="M1480.5 47.5L1494.5 47.5"/><rect x="1603.5" y="39.5" width="51" height="15" fill="#fff"/><path d="M1623.5 35L1623.5 59.5"/><path d="M1589.5 47.5L1589.5 216"/><path d="M1589.5 47.5L1603.5 47.5"/><rect x="1691" y="39.5" width="51" height="15" fill="#fff"/><path d="M1711 35L1711 59.5"/><path d="M1676.5 47.5L1676.5 255.5"/><path d="M1676.5 47.5L1691 47.5"/><path d="M474.5 47.5L474.5 200"/><path d="M474.5 47.5L490 47.5"/><path d="M642.5 47.5L642.5 242"/><path d="M642.5 47.5L665 47.5"/><path d="M1384.5 47.5L1384.5 334.5"/><path d="M1384.5 47.5L1401.5 47.5"/><path d="M462.5 693.5L472.5 693.5"/><rect x="674" y="685.5" width="51" height="15" fill="#fff"/><path d="M694 681L694 705.5"/><path d="M653.5 693.5L653.5 509"/><path d="M653.5 693.5L674 693.5"/><rect x="751.5" y="685.5" width="51" height="15" fill="#fff"/><path d="M771.5 681L771.5 705.5"/><path d="M731.5 693.5L731.5 464"/><path d="M731.5 693.5L751.5 693.5"/><rect x="938.5" y="685.5" width="51" height="15" fill="#fff"/><path d="M958.5 681L958.5 705.5"/><path d="M917.5 693.5L917.5 502"/><path d="M917.5 693.5L938.5 693.5"/><path d="M1012 693.5L1028 693.5"/><rect x="1168" y="685.5" width="51" height="15" fill="#fff"/><path d="M1188 681L1188 705.5"/><path d="M1148.5 693.5L1148.5 510"/><path d="M1148.5 693.5L1168 693.5"/><rect x="1266.5" y="685.5" width="51" height="15" fill="#fff"/><path d="M1286.5 681L1286.5 705.5"/><path d="M1246.5 693.5L1246.5 464.5"/><path d="M1246.5 693.5L1266.5 693.5"/><rect x="1404.5" y="685.5" width="51" height="15" fill="#fff"/><path d="M1424.5 681L1424.5 705.5"/><path d="M1384.5 693.5L1384.5 440"/><path d="M1384.5 693.5L1404.5 693.5"/><path d="M1625.5 693.5L1625.5 440"/><path d="M1625.5 693.5L1647 693.5"/><path d="M532.4 931.5L532.4 1164.8"/><path d="M561.8 931.5L561.8 1164.8"/><path d="M502.7 931.5L502.7 1049.5"/><path d="M502.7 1079.1L502.7 1164.8"/><path d="M472.75 931.5L472.75 960.4"/><path d="M472.75 990.6L472.75 1020.5"/><path d="M472.75 1138.3L472.75 1164.8"/><path d="M591.6 990.6L591.6 1020.5"/><path d="M591.6 1049.5L591.6 1079.1"/><path d="M591.6 1079.1L591.6 1109.1"/><path d="M591.6 1109.1L591.6 1138.3"/><path d="M472.75 960.4L561.8 960.4"/><path d="M472.75 990.6L591.6 990.6"/><path d="M472.75 1020.5L591.6 1020.5"/><path d="M502.7 1049.5L591.6 1049.5"/><path d="M502.7 1079.1L591.6 1079.1"/><path d="M502.7 1109.1L591.6 1109.1"/><path d="M472.75 1138.3L591.6 1138.3"/><path d="M977.5 931.5L977.5 1164.8"/><path d="M1006.5 931.5L1006.5 960.4"/><path d="M1006.5 990.6L1006.5 1164.8"/><path d="M947.6 931.5L947.6 960.4"/><path d="M947.6 990.6L947.6 1020.5"/><path d="M947.6 1079.1L947.6 1109.1"/><path d="M1036.6 960.4L1036.6 990.6"/><path d="M1036.6 990.6L1036.6 1020.5"/><path d="M1036.6 1049.5L1036.6 1079.1"/><path d="M1036.6 1079.1L1036.6 1109.1"/><path d="M1036.6 1109.1L1036.6 1138.3"/><path d="M1066.5 960.4L1066.5 990.6"/><path d="M1066.5 1079.1L1066.5 1109.1"/><path d="M947.6 960.4L1006.5 960.4"/><path d="M1036.6 960.4L1066.5 960.4"/><path d="M947.6 990.6L1066.5 990.6"/><path d="M947.6 1020.5L1036.6 1020.5"/><path d="M977.5 1049.5L1036.6 1049.5"/><path d="M947.6 1079.1L1066.5 1079.1"/><path d="M947.6 1109.1L1066.5 1109.1"/><path d="M977.5 1138.3L1036.6 1138.3"/><path d="M238.3 864.5L1758 864.5"/><path d="M238.3 931.5L1678 931.5"/><path d="M1664 917L1696 917"/><path d="M1664 917L1664 931.5"/><path d="M1678 924L1678 931.5"/><path d="M238.3 823L238.3 1329"/><path d="M238.3 1246.5L1758 1246.5" stroke-dasharray="5 1.2"/><path d="M238.3 1255.5L1758 1255.5" stroke-dasharray="5 1.2"/><path d="M238.3 1241.5L1695.5 1241.5"/><path d="M1497 931.5L1497 1231"/><path d="M1504.5 931.5L1504.5 1241.5"/><path d="M1502.5 931.5L1502.5 975"/><rect x="238.3" y="1164.8" width="6.2" height="11.6" fill="#fff"/><rect x="428" y="1164.8" width="209" height="11.6" fill="#fff"/><rect x="820" y="1164.8" width="376" height="11.6" fill="#fff"/><rect x="1351.5" y="1164.8" width="159.5" height="11.6" fill="#fff"/><path d="M1196 1168.5L1202 1168.5" stroke-width="1.5"/><path d="M1344.5 1168.5L1351.5 1168.5" stroke-width="1.5"/><path d="M246 1178.5h4M248.5 1176v4M258 1178.5h4M260.5 1176v4M269 1178.5h4M271.5 1176v4M281 1178.5h4M283.5 1176v4M293 1178.5h4M295.5 1176v4M304 1178.5h4M306.5 1176v4M316 1178.5h4M318.5 1176v4M328 1178.5h4M330.5 1176v4M340 1178.5h4M342.5 1176v4M351 1178.5h4M353.5 1176v4M363 1178.5h4M365.5 1176v4M375 1178.5h4M377.5 1176v4M386 1178.5h4M388.5 1176v4M398 1178.5h4M400.5 1176v4M410 1178.5h4M412.5 1176v4M422 1178.5h4M424.5 1176v4M433 1178.5h4M435.5 1176v4M445 1178.5h4M447.5 1176v4M457 1178.5h4M459.5 1176v4M468 1178.5h4M470.5 1176v4M480 1178.5h4M482.5 1176v4M492 1178.5h4M494.5 1176v4M503 1178.5h4M505.5 1176v4M515 1178.5h4M517.5 1176v4M527 1178.5h4M529.5 1176v4M538 1178.5h4M540.5 1176v4M550 1178.5h4M552.5 1176v4M562 1178.5h4M564.5 1176v4M574 1178.5h4M576.5 1176v4M585 1178.5h4M587.5 1176v4M597 1178.5h4M599.5 1176v4M609 1178.5h4M611.5 1176v4M620 1178.5h4M622.5 1176v4M632 1178.5h4M634.5 1176v4M644 1178.5h4M646.5 1176v4M656 1178.5h4M658.5 1176v4M667 1178.5h4M669.5 1176v4M679 1178.5h4M681.5 1176v4M691 1178.5h4M693.5 1176v4M702 1178.5h4M704.5 1176v4M714 1178.5h4M716.5 1176v4M726 1178.5h4M728.5 1176v4M737 1178.5h4M739.5 1176v4M749 1178.5h4M751.5 1176v4M761 1178.5h4M763.5 1176v4M772 1178.5h4M774.5 1176v4M784 1178.5h4M786.5 1176v4M796 1178.5h4M798.5 1176v4M808 1178.5h4M810.5 1176v4M819 1178.5h4M821.5 1176v4M831 1178.5h4M833.5 1176v4M843 1178.5h4M845.5 1176v4M854 1178.5h4M856.5 1176v4M866 1178.5h4M868.5 1176v4M878 1178.5h4M880.5 1176v4M890 1178.5h4M892.5 1176v4M901 1178.5h4M903.5 1176v4M913 1178.5h4M915.5 1176v4M925 1178.5h4M927.5 1176v4M936 1178.5h4M938.5 1176v4M948 1178.5h4M950.5 1176v4M960 1178.5h4M962.5 1176v4M971 1178.5h4M973.5 1176v4M983 1178.5h4M985.5 1176v4M995 1178.5h4M997.5 1176v4M1006 1178.5h4M1008.5 1176v4M1018 1178.5h4M1020.5 1176v4M1030 1178.5h4M1032.5 1176v4M1042 1178.5h4M1044.5 1176v4M1053 1178.5h4M1055.5 1176v4M1065 1178.5h4M1067.5 1176v4M1077 1178.5h4M1079.5 1176v4M1088 1178.5h4M1090.5 1176v4M1100 1178.5h4M1102.5 1176v4M1112 1178.5h4M1114.5 1176v4M1124 1178.5h4M1126.5 1176v4M1135 1178.5h4M1137.5 1176v4M1147 1178.5h4M1149.5 1176v4M1159 1178.5h4M1161.5 1176v4M1170 1178.5h4M1172.5 1176v4M1182 1178.5h4M1184.5 1176v4M1194 1178.5h4M1196.5 1176v4M240 1184.5h4M242.5 1182v4M252 1184.5h4M254.5 1182v4M264 1184.5h4M266.5 1182v4M275 1184.5h4M277.5 1182v4M287 1184.5h4M289.5 1182v4M299 1184.5h4M301.5 1182v4M310 1184.5h4M312.5 1182v4M322 1184.5h4M324.5 1182v4M334 1184.5h4M336.5 1182v4M345 1184.5h4M347.5 1182v4M357 1184.5h4M359.5 1182v4M369 1184.5h4M371.5 1182v4M381 1184.5h4M383.5 1182v4M392 1184.5h4M394.5 1182v4M404 1184.5h4M406.5 1182v4M416 1184.5h4M418.5 1182v4M427 1184.5h4M429.5 1182v4M439 1184.5h4M441.5 1182v4M451 1184.5h4M453.5 1182v4M462 1184.5h4M464.5 1182v4M474 1184.5h4M476.5 1182v4M486 1184.5h4M488.5 1182v4M498 1184.5h4M500.5 1182v4M509 1184.5h4M511.5 1182v4M521 1184.5h4M523.5 1182v4M533 1184.5h4M535.5 1182v4M544 1184.5h4M546.5 1182v4M556 1184.5h4M558.5 1182v4M568 1184.5h4M570.5 1182v4M579 1184.5h4M581.5 1182v4M591 1184.5h4M593.5 1182v4M603 1184.5h4M605.5 1182v4M615 1184.5h4M617.5 1182v4M626 1184.5h4M628.5 1182v4M638 1184.5h4M640.5 1182v4M650 1184.5h4M652.5 1182v4M661 1184.5h4M663.5 1182v4M673 1184.5h4M675.5 1182v4M685 1184.5h4M687.5 1182v4M696 1184.5h4M698.5 1182v4M708 1184.5h4M710.5 1182v4M720 1184.5h4M722.5 1182v4M732 1184.5h4M734.5 1182v4M743 1184.5h4M745.5 1182v4M755 1184.5h4M757.5 1182v4M767 1184.5h4M769.5 1182v4M778 1184.5h4M780.5 1182v4M790 1184.5h4M792.5 1182v4M802 1184.5h4M804.5 1182v4M813 1184.5h4M815.5 1182v4M825 1184.5h4M827.5 1182v4M837 1184.5h4M839.5 1182v4M849 1184.5h4M851.5 1182v4M860 1184.5h4M862.5 1182v4M872 1184.5h4M874.5 1182v4M884 1184.5h4M886.5 1182v4M895 1184.5h4M897.5 1182v4M907 1184.5h4M909.5 1182v4M919 1184.5h4M921.5 1182v4M930 1184.5h4M932.5 1182v4M942 1184.5h4M944.5 1182v4M954 1184.5h4M956.5 1182v4M966 1184.5h4M968.5 1182v4M977 1184.5h4M979.5 1182v4M989 1184.5h4M991.5 1182v4M1001 1184.5h4M1003.5 1182v4M1012 1184.5h4M1014.5 1182v4M1024 1184.5h4M1026.5 1182v4M1036 1184.5h4M1038.5 1182v4M1047 1184.5h4M1049.5 1182v4M1059 1184.5h4M1061.5 1182v4M1071 1184.5h4M1073.5 1182v4M1083 1184.5h4M1085.5 1182v4M1094 1184.5h4M1096.5 1182v4M1106 1184.5h4M1108.5 1182v4M1118 1184.5h4M1120.5 1182v4M1129 1184.5h4M1131.5 1182v4M1141 1184.5h4M1143.5 1182v4M1153 1184.5h4M1155.5 1182v4M1164 1184.5h4M1166.5 1182v4M1176 1184.5h4M1178.5 1182v4M1188 1184.5h4M1190.5 1182v4M246 1190.5h4M248.5 1188v4M258 1190.5h4M260.5 1188v4M269 1190.5h4M271.5 1188v4M281 1190.5h4M283.5 1188v4M293 1190.5h4M295.5 1188v4M304 1190.5h4M306.5 1188v4M316 1190.5h4M318.5 1188v4M328 1190.5h4M330.5 1188v4M340 1190.5h4M342.5 1188v4M351 1190.5h4M353.5 1188v4M363 1190.5h4M365.5 1188v4M375 1190.5h4M377.5 1188v4M386 1190.5h4M388.5 1188v4M398 1190.5h4M400.5 1188v4M410 1190.5h4M412.5 1188v4M422 1190.5h4M424.5 1188v4M433 1190.5h4M435.5 1188v4M445 1190.5h4M447.5 1188v4M457 1190.5h4M459.5 1188v4M468 1190.5h4M470.5 1188v4M480 1190.5h4M482.5 1188v4M492 1190.5h4M494.5 1188v4M503 1190.5h4M505.5 1188v4M515 1190.5h4M517.5 1188v4M527 1190.5h4M529.5 1188v4M538 1190.5h4M540.5 1188v4M550 1190.5h4M552.5 1188v4M562 1190.5h4M564.5 1188v4M574 1190.5h4M576.5 1188v4M585 1190.5h4M587.5 1188v4M597 1190.5h4M599.5 1188v4M609 1190.5h4M611.5 1188v4M620 1190.5h4M622.5 1188v4M632 1190.5h4M634.5 1188v4M644 1190.5h4M646.5 1188v4M656 1190.5h4M658.5 1188v4M667 1190.5h4M669.5 1188v4M679 1190.5h4M681.5 1188v4M691 1190.5h4M693.5 1188v4M702 1190.5h4M704.5 1188v4M714 1190.5h4M716.5 1188v4M726 1190.5h4M728.5 1188v4M737 1190.5h4M739.5 1188v4M749 1190.5h4M751.5 1188v4M761 1190.5h4M763.5 1188v4M772 1190.5h4M774.5 1188v4M784 1190.5h4M786.5 1188v4M796 1190.5h4M798.5 1188v4M808 1190.5h4M810.5 1188v4M819 1190.5h4M821.5 1188v4M831 1190.5h4M833.5 1188v4M843 1190.5h4M845.5 1188v4M854 1190.5h4M856.5 1188v4M866 1190.5h4M868.5 1188v4M878 1190.5h4M880.5 1188v4M890 1190.5h4M892.5 1188v4M901 1190.5h4M903.5 1188v4M913 1190.5h4M915.5 1188v4M925 1190.5h4M927.5 1188v4M936 1190.5h4M938.5 1188v4M948 1190.5h4M950.5 1188v4M960 1190.5h4M962.5 1188v4M971 1190.5h4M973.5 1188v4M983 1190.5h4M985.5 1188v4M995 1190.5h4M997.5 1188v4M1006 1190.5h4M1008.5 1188v4M1018 1190.5h4M1020.5 1188v4M1030 1190.5h4M1032.5 1188v4M1042 1190.5h4M1044.5 1188v4M1053 1190.5h4M1055.5 1188v4M1065 1190.5h4M1067.5 1188v4M1077 1190.5h4M1079.5 1188v4M1088 1190.5h4M1090.5 1188v4M1100 1190.5h4M1102.5 1188v4M1112 1190.5h4M1114.5 1188v4M1124 1190.5h4M1126.5 1188v4M1135 1190.5h4M1137.5 1188v4M1147 1190.5h4M1149.5 1188v4M1159 1190.5h4M1161.5 1188v4M1170 1190.5h4M1172.5 1188v4M1182 1190.5h4M1184.5 1188v4M1194 1190.5h4M1196.5 1188v4M240 1196.5h4M242.5 1194v4M252 1196.5h4M254.5 1194v4M264 1196.5h4M266.5 1194v4M275 1196.5h4M277.5 1194v4M287 1196.5h4M289.5 1194v4M299 1196.5h4M301.5 1194v4M310 1196.5h4M312.5 1194v4M322 1196.5h4M324.5 1194v4M334 1196.5h4M336.5 1194v4M345 1196.5h4M347.5 1194v4M357 1196.5h4M359.5 1194v4M369 1196.5h4M371.5 1194v4M381 1196.5h4M383.5 1194v4M392 1196.5h4M394.5 1194v4M404 1196.5h4M406.5 1194v4M416 1196.5h4M418.5 1194v4M427 1196.5h4M429.5 1194v4M439 1196.5h4M441.5 1194v4M451 1196.5h4M453.5 1194v4M462 1196.5h4M464.5 1194v4M474 1196.5h4M476.5 1194v4M486 1196.5h4M488.5 1194v4M498 1196.5h4M500.5 1194v4M509 1196.5h4M511.5 1194v4M521 1196.5h4M523.5 1194v4M533 1196.5h4M535.5 1194v4M544 1196.5h4M546.5 1194v4M556 1196.5h4M558.5 1194v4M568 1196.5h4M570.5 1194v4M579 1196.5h4M581.5 1194v4M591 1196.5h4M593.5 1194v4M603 1196.5h4M605.5 1194v4M615 1196.5h4M617.5 1194v4M626 1196.5h4M628.5 1194v4M638 1196.5h4M640.5 1194v4M650 1196.5h4M652.5 1194v4M661 1196.5h4M663.5 1194v4M673 1196.5h4M675.5 1194v4M685 1196.5h4M687.5 1194v4M696 1196.5h4M698.5 1194v4M708 1196.5h4M710.5 1194v4M720 1196.5h4M722.5 1194v4M732 1196.5h4M734.5 1194v4M743 1196.5h4M745.5 1194v4M755 1196.5h4M757.5 1194v4M767 1196.5h4M769.5 1194v4M778 1196.5h4M780.5 1194v4M790 1196.5h4M792.5 1194v4M802 1196.5h4M804.5 1194v4M813 1196.5h4M815.5 1194v4M825 1196.5h4M827.5 1194v4M837 1196.5h4M839.5 1194v4M849 1196.5h4M851.5 1194v4M860 1196.5h4M862.5 1194v4M872 1196.5h4M874.5 1194v4M884 1196.5h4M886.5 1194v4M895 1196.5h4M897.5 1194v4M907 1196.5h4M909.5 1194v4M919 1196.5h4M921.5 1194v4M930 1196.5h4M932.5 1194v4M942 1196.5h4M944.5 1194v4M954 1196.5h4M956.5 1194v4M966 1196.5h4M968.5 1194v4M977 1196.5h4M979.5 1194v4M989 1196.5h4M991.5 1194v4M1001 1196.5h4M1003.5 1194v4M1012 1196.5h4M1014.5 1194v4M1024 1196.5h4M1026.5 1194v4M1036 1196.5h4M1038.5 1194v4M1047 1196.5h4M1049.5 1194v4M1059 1196.5h4M1061.5 1194v4M1071 1196.5h4M1073.5 1194v4M1083 1196.5h4M1085.5 1194v4M1094 1196.5h4M1096.5 1194v4M1106 1196.5h4M1108.5 1194v4M1118 1196.5h4M1120.5 1194v4M1129 1196.5h4M1131.5 1194v4M1141 1196.5h4M1143.5 1194v4M1153 1196.5h4M1155.5 1194v4M1164 1196.5h4M1166.5 1194v4M1176 1196.5h4M1178.5 1194v4M1188 1196.5h4M1190.5 1194v4M246 1202.5h4M248.5 1200v4M258 1202.5h4M260.5 1200v4M269 1202.5h4M271.5 1200v4M281 1202.5h4M283.5 1200v4M293 1202.5h4M295.5 1200v4M304 1202.5h4M306.5 1200v4M316 1202.5h4M318.5 1200v4M328 1202.5h4M330.5 1200v4M340 1202.5h4M342.5 1200v4M351 1202.5h4M353.5 1200v4M363 1202.5h4M365.5 1200v4M375 1202.5h4M377.5 1200v4M386 1202.5h4M388.5 1200v4M398 1202.5h4M400.5 1200v4M410 1202.5h4M412.5 1200v4M422 1202.5h4M424.5 1200v4M433 1202.5h4M435.5 1200v4M445 1202.5h4M447.5 1200v4M457 1202.5h4M459.5 1200v4M468 1202.5h4M470.5 1200v4M480 1202.5h4M482.5 1200v4M492 1202.5h4M494.5 1200v4M503 1202.5h4M505.5 1200v4M515 1202.5h4M517.5 1200v4M527 1202.5h4M529.5 1200v4M538 1202.5h4M540.5 1200v4M550 1202.5h4M552.5 1200v4M562 1202.5h4M564.5 1200v4M574 1202.5h4M576.5 1200v4M585 1202.5h4M587.5 1200v4M597 1202.5h4M599.5 1200v4M609 1202.5h4M611.5 1200v4M620 1202.5h4M622.5 1200v4M632 1202.5h4M634.5 1200v4M644 1202.5h4M646.5 1200v4M656 1202.5h4M658.5 1200v4M667 1202.5h4M669.5 1200v4M679 1202.5h4M681.5 1200v4M691 1202.5h4M693.5 1200v4M702 1202.5h4M704.5 1200v4M714 1202.5h4M716.5 1200v4M726 1202.5h4M728.5 1200v4M737 1202.5h4M739.5 1200v4M749 1202.5h4M751.5 1200v4M761 1202.5h4M763.5 1200v4M772 1202.5h4M774.5 1200v4M784 1202.5h4M786.5 1200v4M796 1202.5h4M798.5 1200v4M808 1202.5h4M810.5 1200v4M819 1202.5h4M821.5 1200v4M831 1202.5h4M833.5 1200v4M843 1202.5h4M845.5 1200v4M854 1202.5h4M856.5 1200v4M866 1202.5h4M868.5 1200v4M878 1202.5h4M880.5 1200v4M890 1202.5h4M892.5 1200v4M901 1202.5h4M903.5 1200v4M913 1202.5h4M915.5 1200v4M925 1202.5h4M927.5 1200v4M936 1202.5h4M938.5 1200v4M948 1202.5h4M950.5 1200v4M960 1202.5h4M962.5 1200v4M971 1202.5h4M973.5 1200v4M983 1202.5h4M985.5 1200v4M995 1202.5h4M997.5 1200v4M1006 1202.5h4M1008.5 1200v4M1018 1202.5h4M1020.5 1200v4M1030 1202.5h4M1032.5 1200v4M1042 1202.5h4M1044.5 1200v4M1053 1202.5h4M1055.5 1200v4M1065 1202.5h4M1067.5 1200v4M1077 1202.5h4M1079.5 1200v4M1088 1202.5h4M1090.5 1200v4M1100 1202.5h4M1102.5 1200v4M1112 1202.5h4M1114.5 1200v4M1124 1202.5h4M1126.5 1200v4M1135 1202.5h4M1137.5 1200v4M1147 1202.5h4M1149.5 1200v4M1159 1202.5h4M1161.5 1200v4M1170 1202.5h4M1172.5 1200v4M1182 1202.5h4M1184.5 1200v4M1194 1202.5h4M1196.5 1200v4M240 1207.5h4M242.5 1205v4M252 1207.5h4M254.5 1205v4M264 1207.5h4M266.5 1205v4M275 1207.5h4M277.5 1205v4M287 1207.5h4M289.5 1205v4M299 1207.5h4M301.5 1205v4M310 1207.5h4M312.5 1205v4M322 1207.5h4M324.5 1205v4M334 1207.5h4M336.5 1205v4M345 1207.5h4M347.5 1205v4M357 1207.5h4M359.5 1205v4M369 1207.5h4M371.5 1205v4M381 1207.5h4M383.5 1205v4M392 1207.5h4M394.5 1205v4M404 1207.5h4M406.5 1205v4M416 1207.5h4M418.5 1205v4M427 1207.5h4M429.5 1205v4M439 1207.5h4M441.5 1205v4M451 1207.5h4M453.5 1205v4M462 1207.5h4M464.5 1205v4M474 1207.5h4M476.5 1205v4M486 1207.5h4M488.5 1205v4M498 1207.5h4M500.5 1205v4M509 1207.5h4M511.5 1205v4M521 1207.5h4M523.5 1205v4M533 1207.5h4M535.5 1205v4M544 1207.5h4M546.5 1205v4M556 1207.5h4M558.5 1205v4M568 1207.5h4M570.5 1205v4M579 1207.5h4M581.5 1205v4M591 1207.5h4M593.5 1205v4M603 1207.5h4M605.5 1205v4M615 1207.5h4M617.5 1205v4M626 1207.5h4M628.5 1205v4M638 1207.5h4M640.5 1205v4M650 1207.5h4M652.5 1205v4M661 1207.5h4M663.5 1205v4M673 1207.5h4M675.5 1205v4M685 1207.5h4M687.5 1205v4M696 1207.5h4M698.5 1205v4M708 1207.5h4M710.5 1205v4M720 1207.5h4M722.5 1205v4M732 1207.5h4M734.5 1205v4M743 1207.5h4M745.5 1205v4M755 1207.5h4M757.5 1205v4M767 1207.5h4M769.5 1205v4M778 1207.5h4M780.5 1205v4M790 1207.5h4M792.5 1205v4M802 1207.5h4M804.5 1205v4M813 1207.5h4M815.5 1205v4M825 1207.5h4M827.5 1205v4M837 1207.5h4M839.5 1205v4M849 1207.5h4M851.5 1205v4M860 1207.5h4M862.5 1205v4M872 1207.5h4M874.5 1205v4M884 1207.5h4M886.5 1205v4M895 1207.5h4M897.5 1205v4M907 1207.5h4M909.5 1205v4M919 1207.5h4M921.5 1205v4M930 1207.5h4M932.5 1205v4M942 1207.5h4M944.5 1205v4M954 1207.5h4M956.5 1205v4M966 1207.5h4M968.5 1205v4M977 1207.5h4M979.5 1205v4M989 1207.5h4M991.5 1205v4M1001 1207.5h4M1003.5 1205v4M1012 1207.5h4M1014.5 1205v4M1024 1207.5h4M1026.5 1205v4M1036 1207.5h4M1038.5 1205v4M1047 1207.5h4M1049.5 1205v4M1059 1207.5h4M1061.5 1205v4M1071 1207.5h4M1073.5 1205v4M1083 1207.5h4M1085.5 1205v4M1094 1207.5h4M1096.5 1205v4M1106 1207.5h4M1108.5 1205v4M1118 1207.5h4M1120.5 1205v4M1129 1207.5h4M1131.5 1205v4M1141 1207.5h4M1143.5 1205v4M1153 1207.5h4M1155.5 1205v4M1164 1207.5h4M1166.5 1205v4M1176 1207.5h4M1178.5 1205v4M1188 1207.5h4M1190.5 1205v4M246 1213.5h4M248.5 1211v4M258 1213.5h4M260.5 1211v4M269 1213.5h4M271.5 1211v4M281 1213.5h4M283.5 1211v4M293 1213.5h4M295.5 1211v4M304 1213.5h4M306.5 1211v4M316 1213.5h4M318.5 1211v4M328 1213.5h4M330.5 1211v4M340 1213.5h4M342.5 1211v4M351 1213.5h4M353.5 1211v4M363 1213.5h4M365.5 1211v4M375 1213.5h4M377.5 1211v4M386 1213.5h4M388.5 1211v4M398 1213.5h4M400.5 1211v4M410 1213.5h4M412.5 1211v4M422 1213.5h4M424.5 1211v4M433 1213.5h4M435.5 1211v4M445 1213.5h4M447.5 1211v4M457 1213.5h4M459.5 1211v4M468 1213.5h4M470.5 1211v4M480 1213.5h4M482.5 1211v4M492 1213.5h4M494.5 1211v4M503 1213.5h4M505.5 1211v4M515 1213.5h4M517.5 1211v4M527 1213.5h4M529.5 1211v4M538 1213.5h4M540.5 1211v4M550 1213.5h4M552.5 1211v4M562 1213.5h4M564.5 1211v4M574 1213.5h4M576.5 1211v4M585 1213.5h4M587.5 1211v4M597 1213.5h4M599.5 1211v4M609 1213.5h4M611.5 1211v4M620 1213.5h4M622.5 1211v4M632 1213.5h4M634.5 1211v4M644 1213.5h4M646.5 1211v4M656 1213.5h4M658.5 1211v4M667 1213.5h4M669.5 1211v4M679 1213.5h4M681.5 1211v4M691 1213.5h4M693.5 1211v4M702 1213.5h4M704.5 1211v4M714 1213.5h4M716.5 1211v4M726 1213.5h4M728.5 1211v4M737 1213.5h4M739.5 1211v4M749 1213.5h4M751.5 1211v4M761 1213.5h4M763.5 1211v4M772 1213.5h4M774.5 1211v4M784 1213.5h4M786.5 1211v4M796 1213.5h4M798.5 1211v4M808 1213.5h4M810.5 1211v4M819 1213.5h4M821.5 1211v4M831 1213.5h4M833.5 1211v4M843 1213.5h4M845.5 1211v4M854 1213.5h4M856.5 1211v4M866 1213.5h4M868.5 1211v4M878 1213.5h4M880.5 1211v4M890 1213.5h4M892.5 1211v4M901 1213.5h4M903.5 1211v4M913 1213.5h4M915.5 1211v4M925 1213.5h4M927.5 1211v4M936 1213.5h4M938.5 1211v4M948 1213.5h4M950.5 1211v4M960 1213.5h4M962.5 1211v4M971 1213.5h4M973.5 1211v4M983 1213.5h4M985.5 1211v4M995 1213.5h4M997.5 1211v4M1006 1213.5h4M1008.5 1211v4M1018 1213.5h4M1020.5 1211v4M1030 1213.5h4M1032.5 1211v4M1042 1213.5h4M1044.5 1211v4M1053 1213.5h4M1055.5 1211v4M1065 1213.5h4M1067.5 1211v4M1077 1213.5h4M1079.5 1211v4M1088 1213.5h4M1090.5 1211v4M1100 1213.5h4M1102.5 1211v4M1112 1213.5h4M1114.5 1211v4M1124 1213.5h4M1126.5 1211v4M1135 1213.5h4M1137.5 1211v4M1147 1213.5h4M1149.5 1211v4M1159 1213.5h4M1161.5 1211v4M1170 1213.5h4M1172.5 1211v4M1182 1213.5h4M1184.5 1211v4M1194 1213.5h4M1196.5 1211v4M240 1219.5h4M242.5 1217v4M252 1219.5h4M254.5 1217v4M264 1219.5h4M266.5 1217v4M275 1219.5h4M277.5 1217v4M287 1219.5h4M289.5 1217v4M299 1219.5h4M301.5 1217v4M310 1219.5h4M312.5 1217v4M322 1219.5h4M324.5 1217v4M334 1219.5h4M336.5 1217v4M345 1219.5h4M347.5 1217v4M357 1219.5h4M359.5 1217v4M369 1219.5h4M371.5 1217v4M381 1219.5h4M383.5 1217v4M392 1219.5h4M394.5 1217v4M404 1219.5h4M406.5 1217v4M416 1219.5h4M418.5 1217v4M427 1219.5h4M429.5 1217v4M439 1219.5h4M441.5 1217v4M451 1219.5h4M453.5 1217v4M462 1219.5h4M464.5 1217v4M474 1219.5h4M476.5 1217v4M486 1219.5h4M488.5 1217v4M498 1219.5h4M500.5 1217v4M509 1219.5h4M511.5 1217v4M521 1219.5h4M523.5 1217v4M533 1219.5h4M535.5 1217v4M544 1219.5h4M546.5 1217v4M556 1219.5h4M558.5 1217v4M568 1219.5h4M570.5 1217v4M579 1219.5h4M581.5 1217v4M591 1219.5h4M593.5 1217v4M603 1219.5h4M605.5 1217v4M615 1219.5h4M617.5 1217v4M626 1219.5h4M628.5 1217v4M638 1219.5h4M640.5 1217v4M650 1219.5h4M652.5 1217v4M661 1219.5h4M663.5 1217v4M673 1219.5h4M675.5 1217v4M685 1219.5h4M687.5 1217v4M696 1219.5h4M698.5 1217v4M708 1219.5h4M710.5 1217v4M720 1219.5h4M722.5 1217v4M732 1219.5h4M734.5 1217v4M743 1219.5h4M745.5 1217v4M755 1219.5h4M757.5 1217v4M767 1219.5h4M769.5 1217v4M778 1219.5h4M780.5 1217v4M790 1219.5h4M792.5 1217v4M802 1219.5h4M804.5 1217v4M813 1219.5h4M815.5 1217v4M825 1219.5h4M827.5 1217v4M837 1219.5h4M839.5 1217v4M849 1219.5h4M851.5 1217v4M860 1219.5h4M862.5 1217v4M872 1219.5h4M874.5 1217v4M884 1219.5h4M886.5 1217v4M895 1219.5h4M897.5 1217v4M907 1219.5h4M909.5 1217v4M919 1219.5h4M921.5 1217v4M930 1219.5h4M932.5 1217v4M942 1219.5h4M944.5 1217v4M954 1219.5h4M956.5 1217v4M966 1219.5h4M968.5 1217v4M977 1219.5h4M979.5 1217v4M989 1219.5h4M991.5 1217v4M1001 1219.5h4M1003.5 1217v4M1012 1219.5h4M1014.5 1217v4M1024 1219.5h4M1026.5 1217v4M1036 1219.5h4M1038.5 1217v4M1047 1219.5h4M1049.5 1217v4M1059 1219.5h4M1061.5 1217v4M1071 1219.5h4M1073.5 1217v4M1083 1219.5h4M1085.5 1217v4M1094 1219.5h4M1096.5 1217v4M1106 1219.5h4M1108.5 1217v4M1118 1219.5h4M1120.5 1217v4M1129 1219.5h4M1131.5 1217v4M1141 1219.5h4M1143.5 1217v4M1153 1219.5h4M1155.5 1217v4M1164 1219.5h4M1166.5 1217v4M1176 1219.5h4M1178.5 1217v4M1188 1219.5h4M1190.5 1217v4M246 1225.5h4M248.5 1223v4M258 1225.5h4M260.5 1223v4M269 1225.5h4M271.5 1223v4M281 1225.5h4M283.5 1223v4M293 1225.5h4M295.5 1223v4M304 1225.5h4M306.5 1223v4M316 1225.5h4M318.5 1223v4M328 1225.5h4M330.5 1223v4M340 1225.5h4M342.5 1223v4M351 1225.5h4M353.5 1223v4M363 1225.5h4M365.5 1223v4M375 1225.5h4M377.5 1223v4M386 1225.5h4M388.5 1223v4M398 1225.5h4M400.5 1223v4M410 1225.5h4M412.5 1223v4M422 1225.5h4M424.5 1223v4M433 1225.5h4M435.5 1223v4M445 1225.5h4M447.5 1223v4M457 1225.5h4M459.5 1223v4M468 1225.5h4M470.5 1223v4M480 1225.5h4M482.5 1223v4M492 1225.5h4M494.5 1223v4M503 1225.5h4M505.5 1223v4M515 1225.5h4M517.5 1223v4M527 1225.5h4M529.5 1223v4M538 1225.5h4M540.5 1223v4M550 1225.5h4M552.5 1223v4M562 1225.5h4M564.5 1223v4M574 1225.5h4M576.5 1223v4M585 1225.5h4M587.5 1223v4M597 1225.5h4M599.5 1223v4M609 1225.5h4M611.5 1223v4M620 1225.5h4M622.5 1223v4M632 1225.5h4M634.5 1223v4M644 1225.5h4M646.5 1223v4M656 1225.5h4M658.5 1223v4M667 1225.5h4M669.5 1223v4M679 1225.5h4M681.5 1223v4M691 1225.5h4M693.5 1223v4M702 1225.5h4M704.5 1223v4M714 1225.5h4M716.5 1223v4M726 1225.5h4M728.5 1223v4M737 1225.5h4M739.5 1223v4M749 1225.5h4M751.5 1223v4M761 1225.5h4M763.5 1223v4M772 1225.5h4M774.5 1223v4M784 1225.5h4M786.5 1223v4M796 1225.5h4M798.5 1223v4M808 1225.5h4M810.5 1223v4M819 1225.5h4M821.5 1223v4M831 1225.5h4M833.5 1223v4M843 1225.5h4M845.5 1223v4M854 1225.5h4M856.5 1223v4M866 1225.5h4M868.5 1223v4M878 1225.5h4M880.5 1223v4M890 1225.5h4M892.5 1223v4M901 1225.5h4M903.5 1223v4M913 1225.5h4M915.5 1223v4M925 1225.5h4M927.5 1223v4M936 1225.5h4M938.5 1223v4M948 1225.5h4M950.5 1223v4M960 1225.5h4M962.5 1223v4M971 1225.5h4M973.5 1223v4M983 1225.5h4M985.5 1223v4M995 1225.5h4M997.5 1223v4M1006 1225.5h4M1008.5 1223v4M1018 1225.5h4M1020.5 1223v4M1030 1225.5h4M1032.5 1223v4M1042 1225.5h4M1044.5 1223v4M1053 1225.5h4M1055.5 1223v4M1065 1225.5h4M1067.5 1223v4M1077 1225.5h4M1079.5 1223v4M1088 1225.5h4M1090.5 1223v4M1100 1225.5h4M1102.5 1223v4M1112 1225.5h4M1114.5 1223v4M1124 1225.5h4M1126.5 1223v4M1135 1225.5h4M1137.5 1223v4M1147 1225.5h4M1149.5 1223v4M1159 1225.5h4M1161.5 1223v4M1170 1225.5h4M1172.5 1223v4M1182 1225.5h4M1184.5 1223v4M1194 1225.5h4M1196.5 1223v4"/><path d="M1346 1178.5h4M1348.5 1176v4M1358 1178.5h4M1360.5 1176v4M1369 1178.5h4M1371.5 1176v4M1381 1178.5h4M1383.5 1176v4M1393 1178.5h4M1395.5 1176v4M1404 1178.5h4M1406.5 1176v4M1416 1178.5h4M1418.5 1176v4M1428 1178.5h4M1430.5 1176v4M1439 1178.5h4M1441.5 1176v4M1451 1178.5h4M1453.5 1176v4M1463 1178.5h4M1465.5 1176v4M1474 1178.5h4M1476.5 1176v4M1486 1178.5h4M1488.5 1176v4M1352 1184.5h4M1354.5 1182v4M1363 1184.5h4M1365.5 1182v4M1375 1184.5h4M1377.5 1182v4M1387 1184.5h4M1389.5 1182v4M1398 1184.5h4M1400.5 1182v4M1410 1184.5h4M1412.5 1182v4M1422 1184.5h4M1424.5 1182v4M1434 1184.5h4M1436.5 1182v4M1445 1184.5h4M1447.5 1182v4M1457 1184.5h4M1459.5 1182v4M1469 1184.5h4M1471.5 1182v4M1480 1184.5h4M1482.5 1182v4M1492 1184.5h4M1494.5 1182v4M1346 1190.5h4M1348.5 1188v4M1358 1190.5h4M1360.5 1188v4M1369 1190.5h4M1371.5 1188v4M1381 1190.5h4M1383.5 1188v4M1393 1190.5h4M1395.5 1188v4M1404 1190.5h4M1406.5 1188v4M1416 1190.5h4M1418.5 1188v4M1428 1190.5h4M1430.5 1188v4M1439 1190.5h4M1441.5 1188v4M1451 1190.5h4M1453.5 1188v4M1463 1190.5h4M1465.5 1188v4M1474 1190.5h4M1476.5 1188v4M1486 1190.5h4M1488.5 1188v4M1352 1196.5h4M1354.5 1194v4M1363 1196.5h4M1365.5 1194v4M1375 1196.5h4M1377.5 1194v4M1387 1196.5h4M1389.5 1194v4M1398 1196.5h4M1400.5 1194v4M1410 1196.5h4M1412.5 1194v4M1422 1196.5h4M1424.5 1194v4M1434 1196.5h4M1436.5 1194v4M1445 1196.5h4M1447.5 1194v4M1457 1196.5h4M1459.5 1194v4M1469 1196.5h4M1471.5 1194v4M1480 1196.5h4M1482.5 1194v4M1492 1196.5h4M1494.5 1194v4M1346 1202.5h4M1348.5 1200v4M1358 1202.5h4M1360.5 1200v4M1369 1202.5h4M1371.5 1200v4M1381 1202.5h4M1383.5 1200v4M1393 1202.5h4M1395.5 1200v4M1404 1202.5h4M1406.5 1200v4M1416 1202.5h4M1418.5 1200v4M1428 1202.5h4M1430.5 1200v4M1439 1202.5h4M1441.5 1200v4M1451 1202.5h4M1453.5 1200v4M1463 1202.5h4M1465.5 1200v4M1474 1202.5h4M1476.5 1200v4M1486 1202.5h4M1488.5 1200v4M1352 1207.5h4M1354.5 1205v4M1363 1207.5h4M1365.5 1205v4M1375 1207.5h4M1377.5 1205v4M1387 1207.5h4M1389.5 1205v4M1398 1207.5h4M1400.5 1205v4M1410 1207.5h4M1412.5 1205v4M1422 1207.5h4M1424.5 1205v4M1434 1207.5h4M1436.5 1205v4M1445 1207.5h4M1447.5 1205v4M1457 1207.5h4M1459.5 1205v4M1469 1207.5h4M1471.5 1205v4M1480 1207.5h4M1482.5 1205v4M1492 1207.5h4M1494.5 1205v4M1346 1213.5h4M1348.5 1211v4M1358 1213.5h4M1360.5 1211v4M1369 1213.5h4M1371.5 1211v4M1381 1213.5h4M1383.5 1211v4M1393 1213.5h4M1395.5 1211v4M1404 1213.5h4M1406.5 1211v4M1416 1213.5h4M1418.5 1211v4M1428 1213.5h4M1430.5 1211v4M1439 1213.5h4M1441.5 1211v4M1451 1213.5h4M1453.5 1211v4M1463 1213.5h4M1465.5 1211v4M1474 1213.5h4M1476.5 1211v4M1486 1213.5h4M1488.5 1211v4M1352 1219.5h4M1354.5 1217v4M1363 1219.5h4M1365.5 1217v4M1375 1219.5h4M1377.5 1217v4M1387 1219.5h4M1389.5 1217v4M1398 1219.5h4M1400.5 1217v4M1410 1219.5h4M1412.5 1217v4M1422 1219.5h4M1424.5 1217v4M1434 1219.5h4M1436.5 1217v4M1445 1219.5h4M1447.5 1217v4M1457 1219.5h4M1459.5 1217v4M1469 1219.5h4M1471.5 1217v4M1480 1219.5h4M1482.5 1217v4M1492 1219.5h4M1494.5 1217v4M1346 1225.5h4M1348.5 1223v4M1358 1225.5h4M1360.5 1223v4M1369 1225.5h4M1371.5 1223v4M1381 1225.5h4M1383.5 1223v4M1393 1225.5h4M1395.5 1223v4M1404 1225.5h4M1406.5 1223v4M1416 1225.5h4M1418.5 1223v4M1428 1225.5h4M1430.5 1223v4M1439 1225.5h4M1441.5 1223v4M1451 1225.5h4M1453.5 1223v4M1463 1225.5h4M1465.5 1223v4M1474 1225.5h4M1476.5 1223v4M1486 1225.5h4M1488.5 1223v4"/><path d="M238.3 1230.8L1202 1230.8" stroke-width="1.6"/><path d="M1344.8 1230.8L1503 1230.8" stroke-width="1.6"/><path d="M244.5 1168.5L250.5 1168.5"/><path d="M425.5 1168.5L428 1168.5"/><path d="M637 1168.5L638.5 1168.5"/><path d="M818.5 1168.5L820 1168.5"/><rect x="253.2" y="1031.7" width="166" height="135"/><rect x="258.1" y="1037.9" width="155.6" height="128.2"/><path d="M333.3 1037.9L333.3 1166.1"/><rect x="264.9" y="1043.4" width="68.2" height="115.9"/><rect x="338.8" y="1043.4" width="68.8" height="115.9"/><path d="M287 1108.2L317 1108.2" stroke-width="1.2"/><path d="M356.2 1108.2L385.2 1108.2" stroke-width="1.2"/><rect x="646.6" y="1031.7" width="164.4" height="135"/><rect x="651.5" y="1037.9" width="154" height="128.2"/><path d="M725.9 1037.9L725.9 1166.1"/><rect x="658.3" y="1043.4" width="67.4" height="115.9"/><rect x="731.4" y="1043.4" width="68" height="115.9"/><path d="M680 1108.2L710 1108.2" stroke-width="1.2"/><path d="M748.4 1108.2L777.4 1108.2" stroke-width="1.2"/><rect x="1202.1" y="1028.1" width="142.6" height="213.4"/><rect x="1206.6" y="1031.8" width="133.9" height="209.7"/><rect x="1209.2" y="1034.8" width="128.8" height="206.7"/><path d="M1207.1 1033.3L1339.7 1033.3" stroke-width="1.3" stroke-dasharray="3 1.5"/><path d="M1273.6 1031.8L1273.6 1241.5" stroke-width="1.4"/><rect x="1247.6" y="1052.8" width="17.1" height="81.6" stroke-width="1.3"/><rect x="1249.2" y="1054.4" width="13.9" height="78.4" stroke-width="0.8"/><rect x="1281.7" y="1052.8" width="17.4" height="81.6" stroke-width="1.3"/><rect x="1283.3" y="1054.4" width="14.2" height="78.4" stroke-width="0.8"/><path d="M1255.1 1149.6L1267.1 1149.6" stroke-width="1.4"/><rect x="1263.4" y="1145.1" width="3.8" height="17.5" fill="#fff" stroke-width="0.9"/><path d="M1278.6 1149.6L1290.6 1149.6" stroke-width="1.4"/><rect x="1278.6" y="1145.1" width="3.7" height="17.5" fill="#fff" stroke-width="0.9"/><path d="M1209.2 1218.8L1338 1218.8"/><path d="M1366 1029L1366 1246"/><path d="M1350 1031.8L1373.6 1031.8"/><path d="M1350 1036.5L1373.6 1036.5"/><path d="M1347 1218.5L1373.6 1218.5" stroke-width="1.3"/><path d="M1347 1231L1373.6 1231" stroke-width="1.3"/><path d="M1538 1164.8L1538 1241.5"/><path d="M1511 1164.8L1545 1164.8"/><rect x="1690" y="1166" width="6" height="10"/><path d="M1690 1164L1690 1179" stroke-width="1.2"/><path d="M389.5 1032L389.5 1170"/><path d="M781.5 1032L781.5 1170"/><path d="M407.5 1170L407.5 1241.5"/><path d="M454 1164.8L454 1241.5"/><path d="M419.2 1098.3L472.75 1098.3"/><path d="M591.6 1098.3L646.6 1098.3"/><path d="M811 1098.3L947.6 1098.3"/><path d="M472.75 1093L472.75 1103"/><path d="M591.6 1093L591.6 1103"/><path d="M409.2 1143L429.2 1143"/><path d="M419.2 1136L419.2 1150"/><path d="M636.6 1143L656.6 1143"/><path d="M646.6 1136L646.6 1150"/><path d="M801 1143L821 1143"/><path d="M811 1136L811 1150"/><path d="M251.5 1170L251.5 1195"/><path d="M254 1170L254 1195"/><path d="M418.5 1170L418.5 1195"/><path d="M421 1170L421 1195"/><path d="M645 1170L645 1195"/><path d="M647.5 1170L647.5 1195"/><path d="M810.5 1170L810.5 1195"/><path d="M813 1170L813 1195"/><path d="M457.5 990.6L457.5 1020.5"/><path d="M451 990.6L472.75 990.6"/><path d="M451 1020.5L472.75 1020.5"/><path d="M472.75 1042L502.7 1042"/><path d="M472.75 1017.5L472.75 1047.5"/><path d="M933 990.6L933 1020.5"/><path d="M927 990.6L947.6 990.6"/><path d="M927 1020.5L947.6 1020.5"/><path d="M947.6 1042L977.5 1042"/><path d="M947.6 1017.5L947.6 1047.5"/><path d="M238.3 1271.2L1508 1271.2"/><path d="M238.3 1296.5L1697 1296.5"/><path d="M253 1253L253 1280"/><path d="M419 1253L419 1280"/><path d="M646 1253L646 1280"/><path d="M810.5 1253L810.5 1280"/><path d="M1202.7 1254L1202.7 1280"/><path d="M1207.7 1254L1207.7 1280"/><path d="M1339.5 1254L1339.5 1280"/><path d="M1344.5 1254L1344.5 1280"/><path d="M1497.5 1254L1497.5 1280"/><path d="M1504.5 1253L1504.5 1304"/><path d="M1697 1279L1697 1304"/><path d="M337.5 1255.5L337.5 1330.3"/><path d="M908.5 1255.5L908.5 1330.3"/><path d="M1479.5 1255.5L1479.5 1330.3"/><path d="M1118 1156L1118 1279" stroke-dasharray="12 3"/><path d="M1120.5 1156L1120.5 1184" stroke-width="1.8"/><path d="M1120.5 1220L1120.5 1248" stroke-width="1.8"/><rect x="306" y="772.5" width="51" height="15" fill="#fff"/><path d="M326 768L326 792.5"/><path d="M291 780.5L306 780.5"/><path d="M364 780.5L380 780.5"/><rect x="527" y="772.5" width="51" height="15" fill="#fff"/><path d="M547 768L547 792.5"/><path d="M514 780.5L527 780.5"/><path d="M514 780.5L514 942"/><rect x="611.5" y="772.5" width="51" height="15" fill="#fff"/><path d="M631.5 768L631.5 792.5"/><path d="M596 780.5L611.5 780.5"/><rect x="718.5" y="772.5" width="51" height="15" fill="#fff"/><path d="M738.5 768L738.5 792.5"/><path d="M704 780.5L718.5 780.5"/><path d="M806 780.5L821 780.5"/><rect x="913.5" y="772.5" width="51" height="15" fill="#fff"/><path d="M933.5 768L933.5 792.5"/><path d="M898.5 780.5L898.5 962"/><path d="M898.5 780.5L913.5 780.5"/><rect x="1016" y="772.5" width="51" height="15" fill="#fff"/><path d="M1036 768L1036 792.5"/><path d="M1001.5 780.5L1016 780.5"/><rect x="1264.5" y="772.5" width="51" height="15" fill="#fff"/><path d="M1284.5 768L1284.5 792.5"/><path d="M1250.5 780.5L1250.5 974"/><path d="M1250.5 780.5L1264.5 780.5"/><path d="M1500.5 780.5L1500.5 975"/><path d="M1500.5 780.5L1523 780.5"/><path d="M1667.5 780.5L1667.5 930"/><path d="M1667.5 780.5L1684 780.5"/><rect x="301" y="1380.5" width="51" height="15" fill="#fff"/><path d="M321 1376L321 1400.5"/><path d="M276.5 1388.5L276.5 1170"/><path d="M276.5 1388.5L301 1388.5"/><rect x="435.5" y="1380.5" width="51" height="15" fill="#fff"/><path d="M455.5 1376L455.5 1400.5"/><path d="M409.5 1388.5L409.5 1240"/><path d="M409.5 1388.5L435.5 1388.5"/><rect x="564" y="1380.5" width="51" height="15" fill="#fff"/><path d="M584 1376L584 1400.5"/><path d="M543.5 1388.5L543.5 1196"/><path d="M543.5 1388.5L564 1388.5"/><rect x="716.5" y="1380.5" width="51" height="15" fill="#fff"/><path d="M736.5 1376L736.5 1400.5"/><path d="M690.5 1388.5L690.5 1170"/><path d="M690.5 1388.5L716.5 1388.5"/><path d="M958.5 1388.5L958.5 1169"/><path d="M958.5 1388.5L985 1388.5"/><rect x="1101" y="1380.5" width="51" height="15" fill="#fff"/><path d="M1121 1376L1121 1400.5"/><path d="M1075.5 1388.5L1075.5 1236"/><path d="M1075.5 1388.5L1101 1388.5"/><rect x="1240" y="1380.5" width="51" height="15" fill="#fff"/><path d="M1260 1376L1260 1400.5"/><path d="M1221.5 1388.5L1221.5 1229"/><path d="M1221.5 1388.5L1240 1388.5"/><path d="M1298.5 1388.5L1298.5 1176"/><path d="M1298.5 1388.5L1308 1388.5"/><rect x="1407.5" y="1380.5" width="51" height="15" fill="#fff"/><path d="M1427.5 1376L1427.5 1400.5"/><path d="M1386.5 1388.5L1386.5 1196"/><path d="M1386.5 1388.5L1407.5 1388.5"/><rect x="1489.5" y="1380.5" width="51" height="15" fill="#fff"/><path d="M1509.5 1376L1509.5 1400.5"/><path d="M1464.5 1388.5L1464.5 1236"/><path d="M1464.5 1388.5L1489.5 1388.5"/><path d="M1553 1388.5L1567 1388.5"/><path d="M1690.5 1388.5L1690.5 1170"/><path d="M1690.5 1388.5L1715 1388.5"/><rect x="140.5" y="1.5" width="1783" height="1458"/><path d="M141 1416.5L1923.5 1416.5" stroke-width="1.2"/><path d="M995 1439.5L1206 1439.5" stroke-width="1.6"/></g>
<g fill="none" stroke="#000" stroke-width="1"><path d="M642 506.21l2 -2l1.5 2.5M647.23 506.29l2 -2l1.5 2.5M651.29 504.61l2 -2l1.5 2.5M655.5 508.26l1.26 -1.42M660.33 507.66l-3.92 -0.18M664.62 507.19l3.05 -0.12M666.83 504.64l2.91 -0.22M670.37 508.55l2 -2l1.5 2.5M674.61 506.5h1M678.21 505.17l-2 1.5l2.5 1M683.69 508.54h1M686.8 504.88l3.45 -0.62M690.2 508.58l2 -2l1.5 2.5M695.55 508.58l3.02 -1.87M699.2 509.38l2 -2l1.5 2.5M701.45 507.28h1M704.4 504.02l-3.49 -0.32M706.81 504.98l3.53 -0.54M709.43 506.86l2 -2l1.5 2.5M712.1 507.89l-0.97 -1.61M715.57 504.78l-3.59 -0.26M718.64 508.81l1.21 -2.8M722.88 504.1l-2 1.5l2.5 1M725.63 505.05h1M728.78 505.28l3.04 -0.71M731.63 507.11l2 -2l1.5 2.5M735.22 509.25l2 -2l1.5 2.5M739.23 508.7l3.38 -1.42M744.09 505l-2.65 -2.27M746.78 509.2l-2 1.5l2.5 1M750.89 506.03l3.9 -0.38M753.73 507.73l-2.72 -1.34M756.75 504.55h1M758.99 504.87l2 -2l1.5 2.5M763.98 507.19l-2.33 -0.49M766.03 505.12l2 -2l1.5 2.5M768.25 504.56l2 -2l1.5 2.5M772.25 504.29l2 -2l1.5 2.5M777.37 509.38h1M781.79 507.01l2.02 -0.18M786.97 507.71l-2 1.5l2.5 1M789.05 507.32l2 -2l1.5 2.5M793.6 505.41l-2 1.5l2.5 1M795.87 506.78h1M801.02 507.92h1M805.79 508.99l2 -2l1.5 2.5M810.19 508.91l-2 1.5l2.5 1M813.65 508.24l-2 1.5l2.5 1M817.66 507.25l2 -2l1.5 2.5M821.7 507.15l-1.69 -2.89M826.78 507.87l2 -2l1.5 2.5M831.35 506.99l2 -2l1.5 2.5M836.28 504h1M838.39 507.11l2 -2l1.5 2.5M841.19 507.69l2 -2l1.5 2.5M845.34 509.02l2.6 -0.07M849.72 504.72l-3.18 -0.78M853.26 508.85l-1.19 -1.66" stroke-width="1"/><path d="M1004 506.35h1M1008.33 504.36l0.98 -1.88M1013.17 507.64h1M1017.12 507.47l0.44 -1.83M1022.29 503.85l-2 1.5l2.5 1M1024.55 507.62l1.09 -2.82M1026.62 503.86l-2 1.5l2.5 1M1030.4 504.05l-2 1.5l2.5 1M1035.71 504.18l2 -2l1.5 2.5M1038.19 505.38h1M1040.76 507.68l3.12 -1.49M1044.16 506.01l2 -2l1.5 2.5M1047.83 505.81l-2.57 -2.39M1053.25 507.48l2 -2l1.5 2.5M1056.52 507.64h1M1058.92 504.91l2 -2l1.5 2.5M1062.71 508.36l2 -2l1.5 2.5M1064.8 508.44l2 -2l1.5 2.5M1068.62 504.83l2 -2l1.5 2.5M1071.98 508.13l-0.37 -1.86M1076.42 503.72l1.54 -2.31M1078.6 506.26l1.87 -1.83M1083.95 506.39l-2 1.5l2.5 1M1086.54 509.05l2 -2l1.5 2.5M1089.2 507.99l-2 1.5l2.5 1M1091.23 505.11h1M1094.42 504.95l3.21 -0.32M1099.87 509.49l2 -2l1.5 2.5M1101.95 505.43h1M1106.86 507.34l-0.25 -2.36M1111.06 505.08l-2 1.5l2.5 1M1116.19 504.47l-2.36 -0.79M1121.49 506.59h1M1125.96 504.78l2.34 -1.93M1130.38 504.29l-2 1.5l2.5 1M1133.86 504.95l2 -2l1.5 2.5M1139.28 506.86h1M1144.5 509.27h1M1147.97 507.03l-2 1.5l2.5 1M1152.73 506.98l1.39 -2.54M1156.7 503.6h1M1161.86 508.29l-2 1.5l2.5 1M1167.05 506.71h1M1170.38 504.09l2 -2l1.5 2.5M1173.47 509.1h1M1177.37 507.23l-0.37 -2.71M1180.75 504.97l2 -2l1.5 2.5M1183.88 507.61l2.52 -0.59M1188.31 508.06h1M1193.58 505.69l0.11 -2.31M1196.21 507.5l1.94 -1.45M1201.52 503.55l2 -2l1.5 2.5M1204.49 504.71l2 -2l1.5 2.5M1207.27 509.01l2 -2l1.5 2.5M1211.71 504.47l2 -2l1.5 2.5M1215.83 508.56l0.47 -2.94M1220.74 504.87l2 -2l1.5 2.5M1225.41 505.87h1M1229.73 509.33l2 -2l1.5 2.5M1234.11 505.6h1M1237.24 506.5l2 -2l1.5 2.5M1240.31 504.32l-0.35 -1.98M1242.48 508.32l-3.13 -0.51M1245.84 508.74l-2 1.5l2.5 1M1248.96 504.26h1M1253.91 507.15h1M1257.35 507.21l0.8 -2.11M1260.7 505.9l-2 1.5l2.5 1M1263.29 504.73l-3.03 -0.22M1265.48 508.51l-2 1.5l2.5 1M1270.35 505.65h1M1273.42 504.32l-2 1.5l2.5 1M1278.34 504.77l-2 1.5l2.5 1M1280.42 505.35l2 -0.95M1284.93 505.28l2.2 -1.15M1289.95 507.14l-1.69 -2.05M1293.52 506.67h1M1298.32 506.53h1M1301.95 507.3l2 -2l1.5 2.5M1305.41 506.6h1M1308.38 509.05l2 -2l1.5 2.5M1313.38 507.64l-2 1.5l2.5 1M1317.76 506.06l2 -2l1.5 2.5M1321.89 508.02l-2 1.5l2.5 1M1324.34 503.87l2.04 -0.44M1326.37 505l-1.78 -2.16M1331.75 509.26h1M1337.08 503.67l-2.87 -0.54M1339.8 508.04l2 -2l1.5 2.5M1343.7 505.4l3.09 -0.7M1349.04 509.42h1M1354.3 505.67l-3.11 -0.61M1358.64 503.58l0.19 -2.77M1363.53 508.04l1.35 -2.78M1369 506.41l-1.17 -2.27M1372.26 504.88l2 -2l1.5 2.5M1376.41 504.26l2 -2l1.5 2.5M1381.74 507.97l0.56 -1.71M1386.32 507.29l-0.48 -2.52M1390.34 505.77l1.76 -2.87M1393.5 506.51l2 -2l1.5 2.5M1396.1 505.9l1.45 -1.86M1399.33 509.13l1.67 -2.29M1402.72 506.59h1M1404.97 507.53l2.56 -2.05M1410.44 507.54l0.49 -2.01M1415.38 504.9l-1.38 -2.38M1419.45 506.37l-2 1.5l2.5 1M1423.05 509.12l2 -2l1.5 2.5M1426.68 505.66h1M1431.31 504.94l2 -2l1.5 2.5M1435.85 506.51h1M1440.01 507.79l2 -2l1.5 2.5M1443.08 503.65l-2 1.5l2.5 1M1447.85 505.84l-2 1.5l2.5 1M1453.01 504.41l-2 1.5l2.5 1M1456.48 505.39l0.56 -1.62M1458.65 504.2l1.97 -0.86M1463.57 505.78l2 -2l1.5 2.5M1467.67 509.1l2.81 -1.95M1472.85 509.09l2 -2l1.5 2.5M1476.14 504.63l-2 1.5l2.5 1M1480.82 506.81h1M1483.73 506.7l-2 1.5l2.5 1M1486.11 507.2l-3.21 -1.44M1490.36 506.12l0.05 -2.17M1493.77 503.97l-2 1.5l2.5 1M1497.59 506.87l-2 1.5l2.5 1M1502.73 506.8l2 -2l1.5 2.5M1507.69 505.74l-2 1.5l2.5 1M1509.78 508.28l2 -2l1.5 2.5M1513.96 509.44l1.03 -2.76M1518.57 506.65h1M1522.94 508.72h1M1526.21 505.22l1.93 -0.63M1531.63 504.34h1M1534.1 509.3l2 -2l1.5 2.5M1536.72 508.46l-2 1.5l2.5 1M1542.14 504.84l2 -2l1.5 2.5M1546.45 505.2l2 -2l1.5 2.5M1550.91 508.01l-2 1.5l2.5 1M1555.53 505.21h1M1559.05 504.52l-1.02 -2.01M1561.38 506.44l2 -2l1.5 2.5M1564.52 506.9l2 -2l1.5 2.5M1568.37 509.42l-2 1.5l2.5 1M1571.42 508.73l-2.07 -0.33M1574.53 509.09h1M1579.01 504.73l-2.11 -0.22M1581.62 506.08l-2 1.5l2.5 1M1586 509.49h1M1589.53 508.97l3.87 -0.5M1594.61 507.46l2 -2l1.5 2.5M1597.32 504.82l2.83 -0.69M1602.46 509.09l2 -2l1.5 2.5M1606.82 506.31h1M1611.29 509.41l-2 1.5l2.5 1M1615.66 507.04l0.26 -2.31M1618.2 504.71l2 -2l1.5 2.5M1620.82 507.25l-3.37 -0.1M1624.63 506.1l2 -2l1.5 2.5M1627.33 509.28l-2 1.5l2.5 1M1631.6 507.4l-0.3 -1.85M1634.74 507.02l2.57 -1.85M1638.44 508.84l3.73 -0.85M1642.57 507.66l2 -2l1.5 2.5M1645.09 509.37l2 -2l1.5 2.5M1650.27 504.38l-0.38 -1.97M1655.28 505.06l2.22 -1M1660.59 508.77h1M1664.09 503.75l-2 1.5l2.5 1M1666.53 504.7l2 -2l1.5 2.5M1671.55 504.6l-1.93 -0.46M1676.12 504.34l2.29 -1.4M1681.34 508.54l2 -2l1.5 2.5M1683.65 504.55l-3.06 -1.85M1685.74 505.51l-2 1.5l2.5 1M1688.27 503.98l-2.37 -0.69M1692.79 504.21h1M1695.38 507.07h1M1700.46 506.12l-2 1.5l2.5 1M1703.88 509.2l-2 1.5l2.5 1M1709.37 504.14l-2.18 -2.46" stroke-width="1"/><path stroke-width="1.15" d="M640.3 501.4L636.3 511.3"/><path d="M860.5 300.1L860.5 511.5" stroke-width="1.3" stroke-dasharray="7 2"/><path d="M999.7 300.1L999.7 511.5" stroke-width="1.3" stroke-dasharray="7 2"/><path d="M864.1 303.1L864.1 511.5" stroke-width="1.2" stroke-dasharray="14 3"/><path d="M996.3 303.1L996.3 511.5" stroke-width="1.2" stroke-dasharray="14 3"/><path d="M867.22 305.1L866.58 311.1L866 317.1L866 323.1L866 329.1L866 335.1L866 341.1L866 347.1L866 353.1L866 359.1L866.13 365.1L866.4 371.1L866.89 377.1L867.65 383.1L868.64 389.1L869.63 395.1L870.37 401.1L870.64 407.1L870.36 413.1L869.67 419.1L868.81 425.1L868.11 431.1L867.79 437.1L867.91 443.1L868.36 449.1L868.9 455.1L869.29 461.1L869.38 467.1L869.19 473.1L868.84 479.1L868.51 485.1L868.37 488.8M870.8 305.1L870.64 311.1L870.92 317.1L871.04 323.1L870.51 329.1L869.45 335.1L868.57 341.1L868.54 347.1L869.42 353.1L870.61 359.1L871.45 365.1L871.77 371.1L872.03 377.1L872.79 383.1L874.11 389.1L875.41 395.1L875.98 401.1L875.58 407.1L874.7 413.1L874.09 419.1L874.1 425.1L874.42 431.1L874.43 437.1L873.85 443.1L873.06 449.1L872.76 455.1L873.29 461.1L874.32 467.1L875.06 473.1L874.99 479.1L874.27 485.1L873.77 488.8M874.28 305.1L874.56 311.1L874.75 317.1L874.15 323.1L872.97 329.1L872.11 335.1L872.21 341.1L872.9 347.1L873.37 353.1L873.36 359.1L873.52 365.1L874.52 371.1L876.19 377.1L877.6 383.1L878.1 389.1L878.01 395.1L878.15 401.1L878.76 407.1L879.24 413.1L878.85 419.1L877.76 425.1L876.86 431.1L876.81 437.1L877.29 443.1L877.47 449.1L877.06 455.1L876.67 461.1L877 467.1L877.95 473.1L878.6 479.1L878.31 485.1L877.75 488.8M880.02 305.1L879.2 311.1L878.76 317.1L878.79 323.1L878.69 329.1L878.03 335.1L877.22 341.1L877.04 347.1L877.76 353.1L878.79 359.1L879.45 365.1L879.81 371.1L880.49 377.1L881.78 383.1L883.15 389.1L883.8 395.1L883.62 401.1L883.29 407.1L883.36 413.1L883.6 419.1L883.37 425.1L882.5 431.1L881.64 437.1L881.5 443.1L882.01 449.1L882.45 455.1L882.36 461.1L882.1 467.1L882.31 473.1L882.99 479.1L883.43 485.1L883.27 488.8M885.49 305.1L885.89 311.1L885.73 317.1L884.94 323.1L883.79 329.1L882.77 335.1L882.33 341.1L882.65 347.1L883.57 353.1L884.71 359.1L885.64 365.1L886.16 371.1L886.35 377.1L886.52 383.1L886.97 389.1L887.78 395.1L888.77 401.1L889.52 407.1L889.68 413.1L889.13 419.1L888.09 425.1L887.02 431.1L886.39 437.1L886.43 443.1L887.04 449.1L887.83 455.1L888.38 461.1L888.44 467.1L888.04 473.1L887.5 479.1L887.13 485.1L887.09 488.8M888.38 305.1L888.35 311.1L888.66 317.1L888.64 323.1L887.93 329.1L886.98 335.1L886.57 341.1L887 347.1L887.81 353.1L888.3 359.1L888.36 365.1L888.52 371.1L889.35 377.1L890.68 383.1L891.75 389.1L892 395.1L891.64 401.1L891.37 407.1L891.59 413.1L891.97 419.1L891.84 425.1L891.05 431.1L890.19 437.1L889.97 443.1L890.48 449.1L891.09 455.1L891.18 461.1L890.8 467.1L890.59 473.1L890.96 479.1L891.6 485.1L891.78 488.8M895.1 305.1L894.74 311.1L894.11 317.1L893.45 323.1L892.97 329.1L892.83 335.1L893.03 341.1L893.45 347.1L893.93 353.1L894.29 359.1L894.49 365.1L894.58 371.1L894.69 377.1L894.96 383.1L895.44 389.1L896.06 395.1L896.67 401.1L897.06 407.1L897.09 413.1L896.74 419.1L896.14 425.1L895.5 431.1L895.05 437.1L894.96 443.1L895.22 449.1L895.7 455.1L896.19 461.1L896.49 467.1L896.48 473.1L896.21 479.1L895.78 485.1L895.53 488.8M897.63 305.1L897.1 311.1L897.22 317.1L897.85 323.1L898.53 329.1L898.76 335.1L898.34 341.1L897.51 347.1L896.79 353.1L896.68 359.1L897.34 365.1L898.51 371.1L899.6 377.1L900.12 383.1L899.9 389.1L899.22 395.1L898.61 401.1L898.51 407.1L899.02 413.1L899.8 419.1L900.33 425.1L900.23 431.1L899.49 437.1L898.52 443.1L897.9 449.1L897.98 455.1L898.74 461.1L899.73 467.1L900.37 473.1L900.29 479.1L899.56 485.1L898.96 488.8M903.02 305.1L902.15 311.1L901.86 317.1L902.47 323.1L903.15 329.1L902.96 335.1L902.11 341.1L901.68 347.1L902.23 353.1L903.07 359.1L903.18 365.1L902.49 371.1L902 377.1L902.45 383.1L903.36 389.1L903.64 395.1L902.99 401.1L902.3 407.1L902.47 413.1L903.27 419.1L903.63 425.1L903.05 431.1L902.23 437.1L902.2 443.1L902.98 449.1L903.54 455.1L903.18 461.1L902.37 467.1L902.2 473.1L902.91 479.1L903.6 485.1L903.57 488.8M907.96 305.1L908.49 311.1L908.68 317.1L908.4 323.1L908.03 329.1L908.01 335.1L908.44 341.1L908.93 347.1L908.98 353.1L908.5 359.1L907.85 365.1L907.52 371.1L907.67 377.1L907.96 383.1L907.92 389.1L907.44 395.1L906.87 401.1L906.7 407.1L907.08 413.1L907.65 419.1L907.9 425.1L907.66 431.1L907.24 437.1L907.11 443.1L907.44 449.1L907.92 455.1L908.06 461.1L907.68 467.1L907.11 473.1L906.88 479.1L907.18 485.1L907.53 488.8M912.94 305.1L913.8 311.1L914.73 317.1L915.36 323.1L915.46 329.1L915.05 335.1L914.41 341.1L913.86 347.1L913.67 353.1L913.85 359.1L914.21 365.1L914.42 371.1L914.19 377.1L913.45 383.1L912.36 389.1L911.3 395.1L910.65 401.1L910.64 407.1L911.25 413.1L912.19 419.1L913.03 425.1L913.44 431.1L913.27 437.1L912.67 443.1L911.97 449.1L911.52 455.1L911.53 461.1L911.97 467.1L912.6 473.1L913.08 479.1L913.17 485.1L913.01 488.8M919.36 305.1L919.1 311.1L918.62 317.1L918.4 323.1L918.79 329.1L919.7 335.1L920.66 341.1L921.08 347.1L920.66 353.1L919.56 359.1L918.28 365.1L917.38 371.1L917.07 377.1L917.16 383.1L917.18 389.1L916.78 395.1L915.95 401.1L915.11 407.1L914.75 413.1L915.16 419.1L916.17 425.1L917.22 431.1L917.76 437.1L917.55 443.1L916.82 449.1L916.1 455.1L915.84 461.1L916.16 467.1L916.74 473.1L917.12 479.1L917 485.1L916.71 488.8M923.78 305.1L924.28 311.1L924.74 317.1L925.08 323.1L925.26 329.1L925.32 335.1L925.33 341.1L925.3 347.1L925.23 353.1L925.04 359.1L924.65 365.1L923.99 371.1L923.07 377.1L922 383.1L920.95 389.1L920.13 395.1L919.7 401.1L919.71 407.1L920.1 413.1L920.71 419.1L921.34 425.1L921.79 431.1L921.97 437.1L921.88 443.1L921.62 449.1L921.32 455.1L921.1 461.1L921.02 467.1L921.07 473.1L921.2 479.1L921.35 485.1L921.44 488.8M927.51 305.1L927.58 311.1L928.28 317.1L929.32 323.1L930.21 329.1L930.56 335.1L930.33 341.1L929.82 347.1L929.39 353.1L929.17 359.1L928.96 365.1L928.41 371.1L927.34 377.1L925.91 383.1L924.61 389.1L923.87 395.1L923.87 401.1L924.34 407.1L924.83 413.1L925.03 419.1L924.94 425.1L924.88 431.1L925.13 437.1L925.71 443.1L926.31 449.1L926.52 455.1L926.12 461.1L925.3 467.1L924.55 473.1L924.31 479.1L924.7 485.1L925.16 488.8M934 305.1L933.93 311.1L933.65 317.1L933.93 323.1L934.95 329.1L936.02 335.1L936.29 341.1L935.66 347.1L934.85 353.1L934.5 359.1L934.42 365.1L933.87 371.1L932.48 377.1L930.82 383.1L929.82 389.1L929.75 395.1L930.03 401.1L929.91 407.1L929.41 413.1L929.24 419.1L929.91 425.1L931.05 431.1L931.74 437.1L931.54 443.1L930.91 449.1L930.66 455.1L930.99 461.1L931.29 467.1L930.93 473.1L930.08 479.1L929.61 485.1L929.81 488.8M937.15 305.1L937.22 311.1L938.21 317.1L939.65 323.1L940.84 329.1L941.2 335.1L940.68 341.1L939.72 347.1L938.93 353.1L938.67 359.1L938.82 365.1L938.85 371.1L938.26 377.1L936.9 383.1L935.18 389.1L933.81 395.1L933.35 401.1L933.91 407.1L935.03 413.1L936.01 419.1L936.31 425.1L935.93 431.1L935.31 437.1L935.04 443.1L935.4 449.1L936.19 455.1L936.85 461.1L936.84 467.1L936.06 473.1L934.94 479.1L934.17 485.1L934.14 488.8M943.23 305.1L942.78 311.1L942.42 317.1L942.51 323.1L943.16 329.1L944.16 335.1L945.06 341.1L945.4 347.1L944.96 353.1L943.87 359.1L942.54 365.1L941.43 371.1L940.83 377.1L940.71 383.1L940.75 389.1L940.62 395.1L940.14 401.1L939.43 407.1L938.84 413.1L938.74 419.1L939.26 425.1L940.25 431.1L941.26 437.1L941.83 443.1L941.7 449.1L940.98 455.1L940.06 461.1L939.42 467.1L939.34 473.1L939.82 479.1L940.55 485.1L940.95 488.8M947.43 305.1L946.75 311.1L946.43 317.1L947.06 323.1L948.25 329.1L949.03 335.1L948.81 341.1L947.94 347.1L947.3 353.1L947.4 359.1L947.8 365.1L947.62 371.1L946.51 377.1L945.03 383.1L944.17 389.1L944.34 395.1L944.99 401.1L945.22 407.1L944.71 413.1L944.07 419.1L944.12 425.1L945.04 431.1L946.1 437.1L946.38 443.1L945.72 449.1L944.84 455.1L944.62 461.1L945.16 467.1L945.76 473.1L945.66 479.1L944.89 485.1L944.44 488.8M950.8 305.1L950.1 311.1L949.9 317.1L950.41 323.1L951.41 329.1L952.4 335.1L952.87 341.1L952.58 347.1L951.67 353.1L950.63 359.1L949.95 365.1L949.86 371.1L950.23 377.1L950.65 383.1L950.66 389.1L950.1 395.1L949.17 401.1L948.32 407.1L948.02 413.1L948.47 419.1L949.44 425.1L950.44 431.1L950.94 437.1L950.72 443.1L949.95 449.1L949.09 455.1L948.64 461.1L948.83 467.1L949.5 473.1L950.24 479.1L950.59 485.1L950.52 488.8M954.92 305.1L954.97 311.1L954.88 317.1L954.72 323.1L954.58 329.1L954.56 335.1L954.69 341.1L954.92 347.1L955.13 353.1L955.21 359.1L955.08 365.1L954.74 371.1L954.29 377.1L953.86 383.1L953.6 389.1L953.55 395.1L953.7 401.1L953.95 407.1L954.17 413.1L954.26 419.1L954.2 425.1L954.03 431.1L953.85 437.1L953.77 443.1L953.84 449.1L954.02 455.1L954.24 461.1L954.39 467.1L954.37 473.1L954.2 479.1L953.95 485.1L953.81 488.8M958.65 305.1L958.97 311.1L959.39 317.1L959.68 323.1L959.66 329.1L959.32 335.1L958.84 341.1L958.46 347.1L958.39 353.1L958.68 359.1L959.21 365.1L959.72 371.1L959.98 377.1L959.89 383.1L959.55 389.1L959.17 395.1L958.98 401.1L959.11 407.1L959.48 413.1L959.91 419.1L960.14 425.1L960.05 431.1L959.66 437.1L959.17 443.1L958.84 449.1L958.83 455.1L959.16 461.1L959.66 467.1L960.06 473.1L960.16 479.1L959.91 485.1L959.63 488.8M963.97 305.1L963.21 311.1L962.72 317.1L962.63 323.1L962.94 329.1L963.49 335.1L964.03 341.1L964.35 347.1L964.33 353.1L964.02 359.1L963.62 365.1L963.35 371.1L963.44 377.1L963.96 383.1L964.81 389.1L965.77 395.1L966.54 401.1L966.87 407.1L966.66 413.1L965.99 419.1L965.1 425.1L964.31 431.1L963.88 437.1L963.95 443.1L964.47 449.1L965.24 455.1L965.95 461.1L966.35 467.1L966.29 473.1L965.81 479.1L965.09 485.1L964.64 488.8M969.42 305.1L969.77 311.1L969.53 317.1L968.72 323.1L967.7 329.1L967 335.1L966.95 341.1L967.52 347.1L968.35 353.1L969.01 359.1L969.26 365.1L969.23 371.1L969.3 377.1L969.78 383.1L970.73 389.1L971.81 395.1L972.54 401.1L972.59 407.1L971.98 413.1L971.08 419.1L970.41 425.1L970.28 431.1L970.65 437.1L971.14 443.1L971.35 449.1L971.12 455.1L970.63 461.1L970.26 467.1L970.35 473.1L970.9 479.1L971.58 485.1L971.84 488.8M973.45 305.1L973.51 311.1L972.89 317.1L971.93 323.1L971.28 329.1L971.25 335.1L971.58 341.1L971.76 347.1L971.62 353.1L971.55 359.1L972.05 365.1L973.22 371.1L974.55 377.1L975.42 383.1L975.67 389.1L975.69 395.1L975.95 401.1L976.48 407.1L976.81 413.1L976.51 419.1L975.67 425.1L974.88 431.1L974.67 437.1L974.99 443.1L975.34 449.1L975.3 455.1L974.98 461.1L974.87 467.1L975.29 473.1L975.97 479.1L976.29 485.1L976.11 488.8M976.23 305.1L976.81 311.1L976.99 317.1L976.42 323.1L975.26 329.1L974.06 335.1L973.43 341.1L973.72 347.1L974.76 353.1L976 359.1L976.92 365.1L977.31 371.1L977.4 377.1L977.66 383.1L978.42 389.1L979.62 395.1L980.78 401.1L981.33 407.1L980.98 413.1L979.93 419.1L978.74 425.1L978.05 431.1L978.11 437.1L978.73 443.1L979.37 449.1L979.56 455.1L979.22 461.1L978.66 467.1L978.38 473.1L978.66 479.1L979.36 485.1L979.78 488.8M981.79 305.1L981.19 311.1L980.62 317.1L980.26 323.1L980.07 329.1L979.86 335.1L979.54 341.1L979.22 347.1L979.23 353.1L979.79 359.1L980.84 365.1L982.07 371.1L983.12 377.1L983.85 383.1L984.36 389.1L984.84 395.1L985.37 401.1L985.77 407.1L985.81 413.1L985.37 419.1L984.62 425.1L983.94 431.1L983.63 437.1L983.69 443.1L983.93 449.1L984.07 455.1L984.06 461.1L984.05 467.1L984.24 473.1L984.62 479.1L984.94 485.1L984.96 488.8M986.36 305.1L985.91 311.1L985.09 317.1L984.28 323.1L983.82 329.1L983.76 335.1L983.89 341.1L983.97 347.1L983.97 353.1L984.1 359.1L984.66 365.1L985.74 371.1L987.13 377.1L988.4 383.1L989.19 389.1L989.45 395.1L989.42 401.1L989.4 407.1L989.5 413.1L989.58 419.1L989.38 425.1L988.81 431.1L988.05 437.1L987.51 443.1L987.47 449.1L987.92 455.1L988.55 461.1L988.97 467.1L989.01 473.1L988.78 479.1L988.53 485.1L988.46 488.8M990.51 305.1L991.22 311.1L991.61 317.1L991.21 323.1L990.05 329.1L988.7 335.1L987.88 341.1L988.07 347.1L989.16 353.1L990.58 359.1L991.65 365.1L992.07 371.1L992.03 377.1L992.08 383.1L992.69 389.1L993.87 395.1L994.4 401.1L994.4 407.1L994.4 413.1L994.4 419.1L993.2 425.1L992.36 431.1L992.39 437.1L993.11 443.1L993.92 449.1L994.24 455.1L993.88 461.1L993.19 467.1L992.73 473.1L992.92 479.1L993.68 485.1L994.19 488.8" shape-rendering="crispEdges"/><path d="M930.2 302.1L865.2 408.8L930.2 511.5" stroke-width="1.15"/><path d="M930.2 302.1L995.2 408.8L930.2 511.5" stroke-width="1.15"/><clipPath id="g904"><rect x="905.8" y="324.4" width="13.9" height="78.4"/></clipPath><path d="M904.2 328.8L921.3 312.56M904.2 339.8L921.3 323.56M904.2 348.8L921.3 332.56M904.2 353.8L921.3 337.56M904.2 359.8L921.3 343.56M904.2 367.8L921.3 351.56M904.2 373.8L921.3 357.56M904.2 381.8L921.3 365.56M904.2 392.8L921.3 376.56M904.2 401.8L921.3 385.56M904.2 410.8L921.3 394.56" clip-path="url(#g904)" stroke-width="1.1"/><clipPath id="g938"><rect x="939.9" y="324.4" width="14.2" height="78.4"/></clipPath><path d="M938.3 328.8L955.7 312.27M938.3 337.8L955.7 321.27M938.3 345.8L955.7 329.27M938.3 351.8L955.7 335.27M938.3 362.8L955.7 346.27M938.3 373.8L955.7 357.27M938.3 381.8L955.7 365.27M938.3 387.8L955.7 371.27M938.3 392.8L955.7 376.27M938.3 401.8L955.7 385.27M938.3 407.8L955.7 391.27M938.3 412.8L955.7 396.27" clip-path="url(#g938)" stroke-width="1.1"/><clipPath id="w31_1341"><rect x="1341.3" y="313.4" width="67" height="115.9"/></clipPath><path d="M1235.14 427.56L1337.85 324.85M1239.4 434.3L1369.4 304.3M1257.4 434.3L1370.54 321.16M1289.27 420.43L1405.4 304.3M1290.4 434.3L1420.4 304.3M1340.61 388.09L1424.4 304.3M1327.22 414.48L1434.48 307.22M1318.4 434.3L1448.4 304.3M1336.4 434.3L1466.4 304.3M1359.63 422.07L1477.4 304.3M1405.5 390.2L1491.4 304.3M1379.4 434.3L1472.51 341.19M1430.85 395.85L1460.09 366.61" clip-path="url(#w31_1341)" stroke-width="1.1"/><clipPath id="w31_1414"><rect x="1414" y="313.4" width="67.6" height="115.9"/></clipPath><path d="M1335.41 399.99L1431.1 304.3M1319.1 434.3L1449.1 304.3M1337.1 434.3L1467.1 304.3M1350.1 434.3L1480.1 304.3M1365.1 434.3L1441.38 358.02M1369.1 434.3L1499.1 304.3M1387.1 434.3L1517.1 304.3M1400.1 434.3L1530.1 304.3M1423.26 422.14L1502.29 343.11M1415.1 434.3L1486.53 362.87M1444.75 422.65L1544.47 322.93M1444.1 434.3L1574.1 304.3M1481.44 411.96L1589.1 304.3" clip-path="url(#w31_1414)" stroke-width="1.1"/><path d="M1392.8 378.2L1382.8 374.7" stroke-width="0.9"/><path d="M1430.8 378.2L1440.8 381.7" stroke-width="0.9"/><path d="M371 178.2L382 178.2L376.5 186.7Z" fill="#000"/><path d="M371 192.7L382 192.7L376.5 201.2Z" fill="#000"/><path d="M371 502.7L382 502.7L376.5 511.2Z" fill="#000"/><path d="M555 352.5L606.8 352.5L581.5 378.2Z" fill="#000"/><circle cx="581.5" cy="352.5" r="18.2" fill="#fff" stroke="#000"/><path d="M563.3 352.5L599.7 352.5"/><path d="M451 510L467.5 365L482.5 231L636 201.8" stroke-width="0.9" stroke="#888"/><path d="M489.5 437L494 437.5L493.5 441L490 444L492 448" stroke-width="0.9"/><path d="M569 445L571.5 449L567 453.5" stroke-width="0.9"/><path d="M566.5 451L566.5 454L572 454" stroke-width="0.9"/><circle cx="664.5" cy="612.4" r="12.1" fill="#fff" stroke="#000"/><circle cx="1234.5" cy="612.4" r="12.1" fill="#fff" stroke="#000"/><path d="M771.3 548.8L797.3 573.3L771.3 599.6Z" fill="#000"/><circle cx="771.3" cy="573.3" r="18.2" fill="#fff" stroke="#000"/><path d="M753.1 573.3L789.5 573.3"/><path d="M1706 349.5L1722 351.5L1712 353" stroke-width="0.9"/><path d="M784 238.5L786.5 241L789 238.5"/><path d="M784.5 240L788.5 240"/><path d="M1193 212L1195.5 214.5L1198 212"/><path d="M1193.5 213.5L1197.5 213.5"/><path d="M1299 252.5L1301.5 255L1304 252.5"/><path d="M1299.5 254L1303.5 254"/><path stroke-width="1.15" d="M1301.5 47.5L1229.5 285"/><path stroke-width="1.15" d="M1229.5 285L1228.52 281.12"/><path stroke-width="1.15" d="M1229.5 285L1232.47 282.32"/><path stroke-width="1.15" d="M1232.05 283.47L1228.22 282.31"/><path d="M1478 300L1480.5 302.5L1483 300"/><path d="M1478.5 301.5L1482.5 301.5"/><path d="M1587 213.5L1589.5 216L1592 213.5"/><path d="M1587.5 215L1591.5 215"/><path d="M1674 253L1676.5 255.5L1679 253"/><path d="M1674.5 254.5L1678.5 254.5"/><path stroke-width="1.15" d="M1676.5 47.5L1628 221"/><path stroke-width="1.15" d="M1628 221L1626.94 217.14"/><path stroke-width="1.15" d="M1628 221L1630.91 218.25"/><path stroke-width="1.15" d="M1630.52 219.42L1626.67 218.34"/><path d="M472 197.5L474.5 200L477 197.5"/><path d="M472.5 199L476.5 199"/><path d="M640 239.5L642.5 242L645 239.5"/><path d="M640.5 241L644.5 241"/><path d="M1382 332L1384.5 334.5L1387 332"/><path d="M1382.5 333.5L1386.5 333.5"/><path stroke-width="1.15" d="M452 449L462.5 693.5"/><path stroke-width="1.15" d="M452 449L454.21 452.34"/><path stroke-width="1.15" d="M452 449L450.09 452.51"/><path stroke-width="1.15" d="M450.1 451.28L454.09 451.11"/><path d="M651 511.5L653.5 509L656 511.5"/><path d="M651.5 510L655.5 510"/><path d="M729 466.5L731.5 464L734 466.5"/><path d="M729.5 465L733.5 465"/><path d="M915 504.5L917.5 502L920 504.5"/><path d="M915.5 503L919.5 503"/><path stroke-width="1.15" d="M982 467.5L1012 693.5"/><path stroke-width="1.15" d="M982 467.5L984.5 470.63"/><path stroke-width="1.15" d="M982 467.5L980.41 471.17"/><path stroke-width="1.15" d="M980.31 469.94L984.27 469.42"/><path d="M1146 512.5L1148.5 510L1151 512.5"/><path d="M1146.5 511L1150.5 511"/><path d="M1244 467L1246.5 464.5L1249 467"/><path d="M1244.5 465.5L1248.5 465.5"/><path d="M1382 442.5L1384.5 440L1387 442.5"/><path d="M1382.5 441L1386.5 441"/><path d="M1623 442.5L1625.5 440L1628 442.5"/><path d="M1623.5 441L1627.5 441"/><path d="M1685.5 201.25L238.3 931.5" stroke-width="1.1" stroke-dasharray="27.5 10.9" stroke-dashoffset="10.6"/><path d="M1685.5 511L238.3 1241.3" stroke-width="1.1" stroke-dasharray="27.5 10.9" stroke-dashoffset="10.6"/><path d="M326 864.5L329.5 864.5L329 857L331 871L330.5 864.5L334 864.5" stroke-width="0.9"/><path d="M238.3 1074L238.3 1079L231 1081.5L246 1081.5L238.3 1084L238.3 1089" stroke-width="0.9"/><path d="M1696 931.5L1542 962.5L1511 1241" stroke-width="0.9" stroke="#888"/><path d="M240.3 1235.05h1M244.69 1238.6l1.72 -1.22M247.48 1237.9l-0.24 -1.93M250.51 1236.09l-2 1.5l2.5 1M254.64 1233.59l3.35 -1.33M259.48 1238.34l-2 1.5l2.5 1M264.08 1239.2h1M266.98 1238.6l2 -2l1.5 2.5M271.62 1236.88l2 -2l1.5 2.5M274.9 1236.08l3.39 -1.05M279.69 1239.41h1M283.63 1237.99l-1.52 -1.96M286.25 1234.72l2 -2l1.5 2.5M289.14 1236.26h1M292.52 1234.28l2 -2l1.5 2.5M295.35 1234.91l0.87 -1.57M299.63 1239.22l2 -2l1.5 2.5M304.14 1239.1l3.26 -1.24M309.08 1237.33l1 -2.88M314.18 1238.32l-2.46 -0.98M318.69 1234.32l-2 1.5l2.5 1M322.8 1237.84l-1.14 -2.36M326.87 1235.66h1M330.06 1235.27l-1.22 -1.49M332.85 1233.91h1M336.8 1236.76l0.51 -2.11M339.12 1233.52l-2 1.5l2.5 1M341.55 1235.31l-0.65 -1.64M345.19 1235.7l-2 1.5l2.5 1M347.21 1235.51l2 -2l1.5 2.5M352.61 1236.6l2 -2l1.5 2.5M356.95 1235.28l-0.02 -3.06M361.53 1235.05h1M366.51 1235.05l2 -2l1.5 2.5M369.75 1234.97l2.17 -1.29M371.88 1235.89l-2.32 -1.76M373.9 1238.14l0.19 -2.48M377.06 1235.24l2 -2l1.5 2.5M379.54 1238.68l-2.07 -1.03M382.6 1235.83l2.5 -0.85M386.15 1238.76l-2 1.5l2.5 1M388.3 1236.71l-2.16 -1.22M393.43 1236.77l2.5 -0.03M398.47 1234.4l2 -2l1.5 2.5M401.77 1235.57l-2 1.5l2.5 1M404.52 1237.81h1M409.79 1236.62l-2 1.5l2.5 1M413.33 1236.94h1M418.27 1238.89l2.79 -1.03M423.11 1236.7l-2.58 -0.25M425.42 1233.81l-1.45 -1.34M429.92 1238.7l-2 1.5l2.5 1M434.76 1236.05h1M439.67 1237.8l-1.63 -1.21M442.75 1239.48l2 -2l1.5 2.5M445.69 1238.21l2 -2l1.5 2.5M447.7 1233.68l1.95 -2.68M450.57 1238.6l-2 1.5l2.5 1M454.02 1239.46h1M457.72 1235.07l2 -2l1.5 2.5M462.87 1236.72l1.12 -2.18M465.54 1236.94l-2 -1M467.9 1237.03l-2.8 -0.85M471.73 1238.51l-2.3 -1.89M475.23 1239.26l-2.08 -0.77M480.17 1234.42l-0.01 -3.08M483.07 1236.42h1M485.92 1236.68l0.56 -2.78M489.11 1234.82l-1.68 -1.84M494.31 1237.94l-3.72 -0.82M499.17 1238.49h1M503.69 1237.5l2 -2l1.5 2.5M506.59 1234.3h1M510.68 1233.84h1M514.81 1236.57h1M519.88 1235.79l-2 1.5l2.5 1M523.63 1236.93l2 -2l1.5 2.5M528.89 1236.17l-2 1.5l2.5 1M532.08 1237.53l-2 1.5l2.5 1M536.47 1235.75l0.19 -2.26M541.32 1238.21l-2 1.5l2.5 1M544.89 1235.96l2 -2l1.5 2.5M549.51 1233.98l2.38 -0.94M552.56 1239.31l-2.53 -0.43M555.27 1239.35l2.12 -0.63M557.51 1235.82l1.78 -0.78M561.95 1233.8l-0.77 -2.95M566.26 1237.75h1M571.05 1238.62l3.2 -0.44M574.87 1236.63h1M577.48 1237.74l2 -2l1.5 2.5M580.95 1234.97l-0.76 -2.41M586.13 1235.18h1M588.46 1237.41l-3.54 -1.36M591.36 1238.35l1.27 -1.45M594.9 1234.13h1M598.91 1236.02h1M601.73 1235.49l2 -2l1.5 2.5M603.74 1238.82l3.42 -0.9M608.6 1236.19l2 -2l1.5 2.5M611.09 1233.51l2 -2l1.5 2.5M613.94 1234.41l-2 1.5l2.5 1M616.01 1235.67h1M620.62 1234.14h1M624.6 1237.28l-2 1.5l2.5 1M629.39 1237.1h1M633.11 1236.81l-2 1.5l2.5 1M637.28 1235.76l-2.12 -1.32M640.78 1235.23l2 -2l1.5 2.5M644.19 1238.5l2 -2l1.5 2.5M648.14 1238.2l2 -2l1.5 2.5M652.02 1238h1M656.62 1238.85l2 -2l1.5 2.5M660.56 1234.63l0.61 -2.35M665.71 1233.76l-2 -1.7M670.68 1234.46h1M674.19 1236.91l1.08 -2.75M678.76 1236.88l2 -2l1.5 2.5M680.9 1237.7l2 -2l1.5 2.5M685.43 1237.17l2 -2l1.5 2.5M690.49 1234.29l-2 1.5l2.5 1M692.8 1239.31l2 -2l1.5 2.5M696.36 1239.11l2 -2l1.5 2.5M700.14 1233.86h1M704.38 1234.94l0.96 -3M709.43 1236.29l-2.07 -0.98M713.98 1236.5l-2 1.5l2.5 1M716.5 1238.26h1M718.56 1236.89l-2.26 -2.57M722.89 1236.46h1M725.76 1236.31l-1.36 -1.31M729.61 1234.58l2 -2l1.5 2.5M731.81 1233.66h1M736.32 1238.83h1M741.81 1234.36h1M746.04 1234.55l2.22 -1.67M750.79 1237.77l2 -2l1.5 2.5M753.06 1237.83l2 -2l1.5 2.5M755.66 1237.21l1.64 -1.92M760.29 1234.14l2 -2l1.5 2.5M763.11 1237.53l-2 1.5l2.5 1M766.03 1237.82l2 -2l1.5 2.5M768.79 1235.15l2 -2l1.5 2.5M773.62 1237.11l-2.44 -1.6M777.1 1234.95l2 -2l1.5 2.5M781.52 1235.13l-2.68 -0.86M783.77 1238.84l1.33 -2.36M788.09 1238.89l-0.81 -2.94M791.73 1237.79l2 -2l1.5 2.5M796.24 1239.25l-1.82 -1.58M801.34 1238.08l-2 1.5l2.5 1M806.4 1237.07l-2 1.5l2.5 1M808.94 1236.94l-0.87 -2.61M811.94 1238.37l2 -2l1.5 2.5M814.63 1234.66l2 -2l1.5 2.5M817.98 1233.78l-2.94 -0.19M822.37 1236.06l-0.84 -1.82M824.8 1237.2h1M826.83 1239.18l2.3 -1.06M831.63 1237.96h1M835.13 1238.97l-2.08 -0.21M837.67 1238.01h1M842.02 1234.99l-2 1.5l2.5 1M845.83 1234.74l-2.11 -0.06M848.59 1235.64l-2 1.5l2.5 1M853.5 1238.55h1M855.54 1237.93l-3.89 -0.52M857.77 1237.89l3.55 -0.97M861.32 1235.27l2 -2l1.5 2.5M863.55 1236.04h1M868.57 1234.24l-2 1.5l2.5 1M870.94 1234.74l1.88 -0.88M875.24 1235.89l-0.1 -1.8M879.62 1239.29l2 -2l1.5 2.5M883.1 1235.89l2 -2l1.5 2.5M886.54 1234.57l-1.67 -1.96M888.78 1234.37l-2 1.5l2.5 1M892.02 1238.48h1M896.21 1235.63l2 -2l1.5 2.5M899.66 1236.6l-2 1.5l2.5 1M902.03 1234.78l-2 1.5l2.5 1M907.28 1238.38l-2 1.5l2.5 1M909.64 1237.81l-2.48 -1.03M913.35 1236.62l-0.77 -2.92M916.93 1236.13l2 -2l1.5 2.5M919.59 1235.21l-2 1.5l2.5 1M924.97 1235.75l1.82 -2.6M927.89 1234.6l2.21 -0.49M930.7 1237.41l-2 1.5l2.5 1M933.61 1235.26l2 -2l1.5 2.5M935.71 1234.03l2 -2l1.5 2.5M939.34 1235.61l2 -2l1.5 2.5M941.41 1235.06l1.57 -1.17M946.26 1233.6l2 -2l1.5 2.5M948.86 1234.72h1M954.23 1239.29l-0.37 -2.27M956.51 1236.04h1M959.9 1238.21l2 -2l1.5 2.5M962.93 1238.87l2 -2l1.5 2.5M965.82 1238.93l2 -2l1.5 2.5M969.94 1236.31l-2 1.5l2.5 1M974.5 1236.15l2 -2l1.5 2.5M979.2 1238.52h1M984.25 1236.67l2 -2l1.5 2.5M987.36 1235.12l-3.01 -0.59M989.65 1234.75l2 -2l1.5 2.5M994.48 1238.64h1M997.5 1236.06l-2 1.5l2.5 1M1000.86 1237.4l0.19 -2.41M1006.04 1239.26h1M1009.2 1238.73l-2 1.5l2.5 1M1011.47 1236.05l2 -2l1.5 2.5M1014.54 1234.94h1M1017.27 1236.82l0.47 -3.12M1019.28 1234.15l-2 1.5l2.5 1M1024.48 1236.54l2.05 -2.23M1028.51 1236.18h1M1030.86 1235.83l-2 1.5l2.5 1M1036.05 1236.41h1M1041.15 1236.63l3.16 -0.86M1044.35 1236.66l-2.52 -0.34M1048.57 1237.23l2 -2l1.5 2.5M1051.3 1236.87l2.28 -0.45M1053.43 1238.89l-3.13 -0.65M1058.78 1236.32l3.13 -0.68M1063.22 1237.58l-2 1.5l2.5 1M1065.56 1237.37h1M1070.86 1235l-2 1.5l2.5 1M1072.95 1237.03l-0.14 -1.88M1076.29 1235.59l2 -2l1.5 2.5M1079.71 1234.81l0.41 -3.17M1084.68 1234.4h1M1087.19 1235.45l-2 1.5l2.5 1M1090.38 1234.11l2 -2l1.5 2.5M1094.43 1236.56l-2 1.5l2.5 1M1098.23 1235.68l-0.88 -2.7M1101.99 1235.84l-3.52 -1.49M1106.04 1237.76l1.86 -0.8M1110.2 1239h1M1114.55 1238.66l2 -2l1.5 2.5M1118.05 1235.06l-2 1.5l2.5 1M1122.47 1236.64h1M1127.66 1233.78l0.35 -2.73M1130.51 1236.16h1M1133.54 1237.52l0.89 -2.52M1138.56 1236.57h1M1142.88 1237.39l2 -2l1.5 2.5M1145.99 1234.27l-2 1.5l2.5 1M1150.71 1237.41h1M1153.81 1234.56l2 -2l1.5 2.5M1157.44 1237.39l-2 1.5l2.5 1M1160.82 1235.74h1M1165.91 1236.9l2 -2l1.5 2.5M1171.03 1239.02l-2.18 -0.14M1174.96 1236.5l-2 1.5l2.5 1M1177.78 1233.77l-2 1.5l2.5 1M1181.38 1236.25l2 -2l1.5 2.5M1184.35 1233.68l2 -2l1.5 2.5M1187.1 1236.5l-2 1.5l2.5 1M1192.54 1235.35l2.98 -0.96M1195.17 1234.26l-2 1.5l2.5 1" stroke-width="1"/><path d="M1347 1234.14h1M1351.28 1239.14l2.41 -2M1355.59 1235.32h1M1358.98 1238.17l2.91 -1.96M1362.23 1235.06l-2 1.5l2.5 1M1366.44 1234.4l2 -2l1.5 2.5M1370.76 1234.49h1M1373.19 1235.52l3.17 -1.9M1376.61 1239.44l2 -2l1.5 2.5M1380.73 1238.74h1M1383.12 1237.03h1M1385.76 1234.07l-2 1.5l2.5 1M1389.56 1234.66l2 -2l1.5 2.5M1392.32 1238.29l2 -2l1.5 2.5M1394.68 1238.41l1.31 -1.27M1399.27 1234.18l2 -2l1.5 2.5M1401.59 1236.38h1M1405.47 1236.23l2 -2l1.5 2.5M1409 1237.07l0.2 -1.97M1414.03 1239.13l3.07 -1.19M1418.03 1233.61h1M1423.33 1236.04l-0.84 -3.03M1426.25 1235.31l-1.15 -2.16M1429.15 1235.83l2.2 -2.64M1433.2 1235.2l-2 1.5l2.5 1M1436.45 1235.01l2.15 -0.85M1439.26 1238.74l2.28 -1.81M1444.47 1235.25h1M1447.76 1236.87l2 -2l1.5 2.5M1453.06 1238.04l2 -2l1.5 2.5M1458 1235.7l2 -2l1.5 2.5M1463.36 1236.78h1M1466.46 1238.99h1M1469.33 1239.1l2 -2l1.5 2.5M1472.52 1235.08l2.73 -1.6M1475.01 1235.05l2 -2l1.5 2.5M1478.91 1235.78h1M1481.81 1235.71l2 -2l1.5 2.5M1484.26 1234.83l-1.49 -1.39M1488.6 1234.83h1M1492.9 1235.62l-2 1.5l2.5 1" stroke-width="1"/><clipPath id="w41_264"><rect x="264.9" y="1043.4" width="68.2" height="115.9"/></clipPath><path d="M165.84 1150.46L276.4 1039.9M167 1164.3L249.99 1081.31M185 1164.3L266.19 1083.11M189 1164.3L263.74 1089.56M222.45 1148.85L337 1034.3M269.06 1117.24L343.35 1042.95M283.57 1120.73L370 1034.3M251 1164.3L322.41 1092.89M262 1164.3L392 1034.3M279.52 1150.78L368.56 1061.74M280 1164.3L410 1034.3M299.4 1157.9L359.4 1097.9M311 1164.3L377.41 1097.89M378.74 1107.56L452 1034.3" clip-path="url(#w41_264)" stroke-width="1.1"/><clipPath id="w41_338"><rect x="338.8" y="1043.4" width="68.8" height="115.9"/></clipPath><path d="M225.9 1164.3L355.9 1034.3M229.9 1164.3L303.92 1090.28M233.9 1164.3L363.9 1034.3M251.9 1164.3L381.9 1034.3M255.9 1164.3L385.9 1034.3M269.9 1164.3L399.9 1034.3M284.9 1164.3L414.9 1034.3M288.9 1164.3L382.33 1070.87M306.9 1164.3L436.9 1034.3M361.01 1124.19L450.9 1034.3M361.53 1141.67L468.9 1034.3M407.01 1111.19L483.9 1034.3M405.03 1131.17L451.56 1084.64M385.9 1164.3L466.32 1083.88M400.9 1164.3L530.9 1034.3" clip-path="url(#w41_338)" stroke-width="1.1"/><path d="M317 1108.2L307 1104.7" stroke-width="0.9"/><path d="M356.2 1108.2L366.2 1111.7" stroke-width="0.9"/><clipPath id="w42_658"><rect x="658.3" y="1043.4" width="67.4" height="115.9"/></clipPath><path d="M545.4 1164.3L628.28 1081.42M562.55 1158.15L686.4 1034.3M596.72 1138.98L650.61 1085.09M586.4 1164.3L716.4 1034.3M604.4 1164.3L734.4 1034.3M615.4 1164.3L736.9 1042.8M626.4 1164.3L701.51 1089.19M662.2 1141.5L726.76 1076.94M652.4 1164.3L782.4 1034.3M722.74 1108.96L751.46 1080.24M685.4 1164.3L815.4 1034.3M704.57 1160.13L830.4 1034.3M713.4 1164.3L843.4 1034.3M744.6 1137.1L847.4 1034.3" clip-path="url(#w42_658)" stroke-width="1.1"/><clipPath id="w42_731"><rect x="731.4" y="1043.4" width="68" height="115.9"/></clipPath><path d="M631.07 1151.73L744.38 1038.42M674.6 1126.2L766.5 1034.3M670.27 1141.53L777.5 1034.3M665.5 1164.3L751.58 1078.22M671.43 1162.37L751.9 1081.9M680.5 1164.3L810.5 1034.3M737.83 1124.97L822.95 1039.85M720.88 1155.92L842.5 1034.3M762.58 1129.22L857.5 1034.3M801.34 1104.46L838.58 1067.22M745.5 1164.3L820.9 1088.9M763.5 1164.3L853.31 1074.49M777.5 1164.3L907.5 1034.3M781.5 1164.3L904.01 1041.79" clip-path="url(#w42_731)" stroke-width="1.1"/><path d="M710 1108.2L700 1104.7" stroke-width="0.9"/><path d="M748.4 1108.2L758.4 1111.7" stroke-width="0.9"/><path d="M1204.5 1030.1L1204.5 1241.5" stroke-width="1.3" stroke-dasharray="7 2"/><path d="M1342.5 1030.1L1342.5 1241.5" stroke-width="1.3" stroke-dasharray="7 2"/><path d="M1208.1 1033.1L1208.1 1241.5" stroke-width="1.2" stroke-dasharray="14 3"/><path d="M1339.1 1033.1L1339.1 1241.5" stroke-width="1.2" stroke-dasharray="14 3"/><path d="M1212.49 1035.1L1211.34 1041.1L1210.71 1047.1L1211.37 1053.1L1212.59 1059.1L1212.95 1065.1L1211.99 1071.1L1210.73 1077.1L1210.57 1083.1L1211.68 1089.1L1212.85 1095.1L1212.85 1101.1L1211.79 1107.1L1211 1113.1L1211.49 1119.1L1212.79 1125.1L1213.46 1131.1L1212.7 1137.1L1211.26 1143.1L1210.57 1149.1L1211.18 1155.1L1212.12 1161.1L1212.05 1167.1L1210.78 1173.1L1210 1179.1L1210 1185.1L1210.78 1191.1L1211.78 1197.1L1211.51 1203.1L1210.38 1209.1L1210 1215.1L1210.09 1218.8M1217.05 1035.1L1217.59 1041.1L1217.43 1047.1L1216.82 1053.1L1216.37 1059.1L1216.44 1065.1L1216.89 1071.1L1217.2 1077.1L1217.02 1083.1L1216.52 1089.1L1216.25 1095.1L1216.6 1101.1L1217.42 1107.1L1218.14 1113.1L1218.24 1119.1L1217.78 1125.1L1217.22 1131.1L1217.04 1137.1L1217.22 1143.1L1217.29 1149.1L1216.8 1155.1L1215.78 1161.1L1214.75 1167.1L1214.28 1173.1L1214.48 1179.1L1214.91 1185.1L1215.05 1191.1L1214.75 1197.1L1214.39 1203.1L1214.46 1209.1L1215.09 1215.1L1215.59 1218.8M1221.8 1035.1L1222.18 1041.1L1222.59 1047.1L1222.94 1053.1L1223.12 1059.1L1223.06 1065.1L1222.77 1071.1L1222.34 1077.1L1221.95 1083.1L1221.76 1089.1L1221.89 1095.1L1222.36 1101.1L1223.06 1107.1L1223.79 1113.1L1224.32 1119.1L1224.5 1125.1L1224.24 1131.1L1223.61 1137.1L1222.74 1143.1L1221.84 1149.1L1221.07 1155.1L1220.51 1161.1L1220.16 1167.1L1219.95 1173.1L1219.78 1179.1L1219.58 1185.1L1219.37 1191.1L1219.19 1197.1L1219.16 1203.1L1219.33 1209.1L1219.73 1215.1L1220.04 1218.8M1226.85 1035.1L1228.5 1041.1L1228.94 1047.1L1227.85 1053.1L1226.64 1059.1L1226.7 1065.1L1227.73 1071.1L1228.19 1077.1L1227.35 1083.1L1226.27 1089.1L1226.49 1095.1L1228.05 1101.1L1229.42 1107.1L1229.35 1113.1L1228.39 1119.1L1228.08 1125.1L1228.94 1131.1L1229.71 1137.1L1228.99 1143.1L1226.98 1149.1L1225.32 1155.1L1225.08 1161.1L1225.5 1167.1L1225.05 1173.1L1223.51 1179.1L1222.27 1185.1L1222.63 1191.1L1224.13 1197.1L1225.08 1203.1L1224.67 1209.1L1223.87 1215.1L1223.87 1218.8M1232.56 1035.1L1232.28 1041.1L1232.51 1047.1L1233.23 1053.1L1233.74 1059.1L1233.41 1065.1L1232.4 1071.1L1231.55 1077.1L1231.6 1083.1L1232.51 1089.1L1233.5 1095.1L1233.83 1101.1L1233.55 1107.1L1233.35 1113.1L1233.82 1119.1L1234.74 1125.1L1235.27 1131.1L1234.74 1137.1L1233.3 1143.1L1231.82 1149.1L1231.02 1155.1L1230.82 1161.1L1230.52 1167.1L1229.59 1173.1L1228.29 1179.1L1227.45 1185.1L1227.68 1191.1L1228.74 1197.1L1229.73 1203.1L1229.97 1209.1L1229.59 1215.1L1229.38 1218.8M1238.03 1035.1L1238.85 1041.1L1239.08 1047.1L1238.71 1053.1L1237.97 1059.1L1237.21 1065.1L1236.74 1071.1L1236.75 1077.1L1237.21 1083.1L1237.92 1089.1L1238.6 1095.1L1239.02 1101.1L1239.13 1107.1L1239.02 1113.1L1238.88 1119.1L1238.85 1125.1L1238.97 1131.1L1239.1 1137.1L1239.01 1143.1L1238.5 1149.1L1237.47 1155.1L1236.07 1161.1L1234.6 1167.1L1233.41 1173.1L1232.79 1179.1L1232.83 1185.1L1233.4 1191.1L1234.18 1197.1L1234.86 1203.1L1235.21 1209.1L1235.2 1215.1L1235.06 1218.8M1242.2 1035.1L1243.08 1041.1L1243.85 1047.1L1244.18 1053.1L1243.92 1059.1L1243.18 1065.1L1242.35 1071.1L1241.83 1077.1L1241.89 1083.1L1242.51 1089.1L1243.4 1095.1L1244.16 1101.1L1244.53 1107.1L1244.46 1113.1L1244.15 1119.1L1243.89 1125.1L1243.84 1131.1L1243.97 1137.1L1244.01 1143.1L1243.66 1149.1L1242.75 1155.1L1241.41 1161.1L1239.99 1167.1L1238.92 1173.1L1238.49 1179.1L1238.73 1185.1L1239.37 1191.1L1240.02 1197.1L1240.37 1203.1L1240.34 1209.1L1240.11 1215.1L1240 1218.8M1247.04 1035.1L1246.55 1041.1L1246.08 1047.1L1245.93 1053.1L1246.2 1059.1L1246.76 1065.1L1247.31 1071.1L1247.56 1077.1L1247.36 1083.1L1246.83 1089.1L1246.27 1095.1L1246.02 1101.1L1246.31 1107.1L1247.11 1113.1L1248.14 1119.1L1248.98 1125.1L1249.22 1131.1L1248.7 1137.1L1247.55 1143.1L1246.11 1149.1L1244.83 1155.1L1244.05 1161.1L1243.86 1167.1L1244.09 1173.1L1244.41 1179.1L1244.51 1185.1L1244.26 1191.1L1243.75 1197.1L1243.26 1203.1L1243.11 1209.1L1243.46 1215.1L1243.91 1218.8M1252.52 1035.1L1252.46 1041.1L1252.01 1047.1L1251.42 1053.1L1250.99 1059.1L1250.9 1065.1L1251.18 1071.1L1251.69 1077.1L1252.18 1083.1L1252.43 1089.1L1252.37 1095.1L1252.07 1101.1L1251.74 1107.1L1251.59 1113.1L1251.76 1119.1L1252.21 1125.1L1252.74 1131.1L1253.07 1137.1L1252.97 1143.1L1252.36 1149.1L1251.37 1155.1L1250.26 1161.1L1249.37 1167.1L1248.93 1173.1L1249 1179.1L1249.45 1185.1L1250.02 1191.1L1250.43 1197.1L1250.51 1203.1L1250.29 1209.1L1249.92 1215.1L1249.72 1218.8M1256.5 1035.1L1256.57 1041.1L1256.32 1047.1L1255.94 1053.1L1255.69 1059.1L1255.72 1065.1L1255.98 1071.1L1256.29 1077.1L1256.44 1083.1L1256.34 1089.1L1256.07 1095.1L1255.85 1101.1L1255.86 1107.1L1256.16 1113.1L1256.61 1119.1L1256.96 1125.1L1256.99 1131.1L1256.66 1137.1L1256.13 1143.1L1255.63 1149.1L1255.38 1155.1L1255.39 1161.1L1255.53 1167.1L1255.58 1173.1L1255.41 1179.1L1255.05 1185.1L1254.69 1191.1L1254.56 1197.1L1254.75 1203.1L1255.2 1209.1L1255.66 1215.1L1255.85 1218.8M1258.31 1035.1L1258.2 1041.1L1258.77 1047.1L1259.68 1053.1L1260.33 1059.1L1260.3 1065.1L1259.61 1071.1L1258.69 1077.1L1258.15 1083.1L1258.32 1089.1L1259.11 1095.1L1260.01 1101.1L1260.45 1107.1L1260.16 1113.1L1259.34 1119.1L1258.52 1125.1L1258.24 1131.1L1258.68 1137.1L1259.53 1143.1L1260.24 1149.1L1260.31 1155.1L1259.67 1161.1L1258.71 1167.1L1258.03 1173.1L1258.03 1179.1L1258.71 1185.1L1259.62 1191.1L1260.16 1197.1L1260 1203.1L1259.24 1209.1L1258.39 1215.1L1258.07 1218.8M1263.68 1035.1L1263.99 1041.1L1263.58 1047.1L1262.77 1053.1L1262.24 1059.1L1262.46 1065.1L1263.27 1071.1L1264.01 1077.1L1264.06 1083.1L1263.38 1089.1L1262.52 1095.1L1262.18 1101.1L1262.58 1107.1L1263.32 1113.1L1263.7 1119.1L1263.36 1125.1L1262.58 1131.1L1262.04 1137.1L1262.27 1143.1L1263.17 1149.1L1264.1 1155.1L1264.4 1161.1L1263.97 1167.1L1263.31 1173.1L1263.09 1179.1L1263.59 1185.1L1264.41 1191.1L1264.86 1197.1L1264.53 1203.1L1263.65 1209.1L1262.91 1215.1L1262.79 1218.8M1267.32 1035.1L1266.51 1041.1L1266 1047.1L1266.04 1053.1L1266.59 1059.1L1267.33 1065.1L1267.87 1071.1L1267.91 1077.1L1267.45 1083.1L1266.76 1089.1L1266.2 1095.1L1266.05 1101.1L1266.31 1107.1L1266.74 1113.1L1267.01 1119.1L1266.91 1125.1L1266.49 1131.1L1266.02 1137.1L1265.88 1143.1L1266.29 1149.1L1267.19 1155.1L1268.25 1161.1L1269.05 1167.1L1269.32 1173.1L1269.06 1179.1L1268.53 1185.1L1268.11 1191.1L1268.05 1197.1L1268.36 1203.1L1268.79 1209.1L1269.01 1215.1L1268.94 1218.8M1270.63 1035.1L1270.78 1041.1L1271.21 1047.1L1271.55 1053.1L1271.55 1059.1L1271.25 1065.1L1270.89 1071.1L1270.75 1077.1L1270.96 1083.1L1271.37 1089.1L1271.67 1095.1L1271.56 1101.1L1270.97 1107.1L1270.14 1113.1L1269.45 1119.1L1269.27 1125.1L1269.67 1131.1L1270.47 1137.1L1271.31 1143.1L1271.88 1149.1L1272.12 1155.1L1272.22 1161.1L1272.46 1167.1L1273 1173.1L1273.78 1179.1L1274.47 1185.1L1274.75 1191.1L1274.44 1197.1L1273.69 1203.1L1272.87 1209.1L1272.36 1215.1L1272.3 1218.8M1274.5 1035.1L1273.3 1041.1L1273.01 1047.1L1273.72 1053.1L1274.88 1059.1L1275.71 1065.1L1275.68 1071.1L1274.91 1077.1L1274 1083.1L1273.6 1089.1L1273.92 1095.1L1274.58 1101.1L1274.92 1107.1L1274.46 1113.1L1273.35 1119.1L1272.26 1125.1L1271.93 1131.1L1272.69 1137.1L1274.19 1143.1L1275.68 1149.1L1276.52 1155.1L1276.57 1161.1L1276.29 1167.1L1276.33 1173.1L1277.05 1179.1L1278.18 1185.1L1279.05 1191.1L1279.05 1197.1L1278.1 1203.1L1276.71 1209.1L1275.7 1215.1L1275.52 1218.8M1279.39 1035.1L1279.43 1041.1L1278.96 1047.1L1278.14 1053.1L1277.47 1059.1L1277.44 1065.1L1278.13 1071.1L1279.19 1077.1L1279.96 1083.1L1279.94 1089.1L1279.06 1095.1L1277.74 1101.1L1276.64 1107.1L1276.27 1113.1L1276.66 1119.1L1277.44 1125.1L1278.06 1131.1L1278.2 1137.1L1277.99 1143.1L1277.91 1149.1L1278.44 1155.1L1279.73 1161.1L1281.44 1167.1L1282.93 1173.1L1283.61 1179.1L1283.31 1185.1L1282.38 1191.1L1281.44 1197.1L1281.02 1203.1L1281.24 1209.1L1281.75 1215.1L1281.98 1218.8M1283.02 1035.1L1282.77 1041.1L1282.35 1047.1L1281.99 1053.1L1282.03 1059.1L1282.55 1065.1L1283.19 1071.1L1283.47 1077.1L1283.22 1083.1L1282.7 1089.1L1282.3 1095.1L1282.17 1101.1L1282.05 1107.1L1281.65 1113.1L1280.99 1119.1L1280.49 1125.1L1280.57 1131.1L1281.29 1137.1L1282.28 1143.1L1283.12 1149.1L1283.74 1155.1L1284.4 1161.1L1285.34 1167.1L1286.44 1173.1L1287.25 1179.1L1287.43 1185.1L1287.03 1191.1L1286.48 1197.1L1286.18 1203.1L1286.1 1209.1L1285.93 1215.1L1285.69 1218.8M1287.29 1035.1L1286.37 1041.1L1286.09 1047.1L1286.49 1053.1L1287.22 1059.1L1287.77 1065.1L1287.82 1071.1L1287.46 1077.1L1287.06 1083.1L1286.92 1089.1L1287.05 1095.1L1287.14 1101.1L1286.83 1107.1L1286.07 1113.1L1285.18 1119.1L1284.68 1125.1L1284.91 1131.1L1285.79 1137.1L1286.92 1143.1L1287.86 1149.1L1288.45 1155.1L1288.91 1161.1L1289.55 1167.1L1290.51 1173.1L1291.54 1179.1L1292.21 1185.1L1292.16 1191.1L1291.46 1197.1L1290.54 1203.1L1289.89 1209.1L1289.76 1215.1L1289.87 1218.8M1290.84 1035.1L1290.4 1041.1L1290.33 1047.1L1290.58 1053.1L1290.97 1059.1L1291.33 1065.1L1291.54 1071.1L1291.53 1077.1L1291.32 1083.1L1291.01 1089.1L1290.67 1095.1L1290.37 1101.1L1290.12 1107.1L1289.89 1113.1L1289.68 1119.1L1289.5 1125.1L1289.43 1131.1L1289.57 1137.1L1290.02 1143.1L1290.79 1149.1L1291.83 1155.1L1293 1161.1L1294.08 1167.1L1294.9 1173.1L1295.34 1179.1L1295.39 1185.1L1295.13 1191.1L1294.72 1197.1L1294.31 1203.1L1293.98 1209.1L1293.78 1215.1L1293.71 1218.8M1295.73 1035.1L1295.92 1041.1L1295.94 1047.1L1295.54 1053.1L1295.22 1059.1L1295.51 1065.1L1296.24 1071.1L1296.7 1077.1L1296.44 1083.1L1295.78 1089.1L1295.42 1095.1L1295.52 1101.1L1295.55 1107.1L1295.03 1113.1L1294.21 1119.1L1293.83 1125.1L1294.27 1131.1L1295.1 1137.1L1295.67 1143.1L1295.89 1149.1L1296.3 1155.1L1297.33 1161.1L1298.63 1167.1L1299.45 1173.1L1299.47 1179.1L1299.18 1185.1L1299.19 1191.1L1299.49 1197.1L1299.51 1203.1L1298.86 1209.1L1297.96 1215.1L1297.61 1218.8M1300.91 1035.1L1301.15 1041.1L1300.83 1047.1L1300.08 1053.1L1299.39 1059.1L1299.28 1065.1L1299.88 1071.1L1300.85 1077.1L1301.55 1083.1L1301.49 1089.1L1300.64 1095.1L1299.49 1101.1L1298.67 1107.1L1298.58 1113.1L1299.14 1119.1L1299.84 1125.1L1300.18 1131.1L1299.98 1137.1L1299.55 1143.1L1299.45 1149.1L1300.09 1155.1L1301.41 1161.1L1302.88 1167.1L1303.84 1173.1L1303.93 1179.1L1303.29 1185.1L1302.48 1191.1L1302.08 1197.1L1302.3 1203.1L1302.86 1209.1L1303.21 1215.1L1303.13 1218.8M1305.15 1035.1L1304.92 1041.1L1305.21 1047.1L1305.8 1053.1L1306.32 1059.1L1306.47 1065.1L1306.19 1071.1L1305.68 1077.1L1305.27 1083.1L1305.18 1089.1L1305.45 1095.1L1305.84 1101.1L1306.06 1107.1L1305.88 1113.1L1305.33 1119.1L1304.69 1125.1L1304.33 1131.1L1304.5 1137.1L1305.19 1143.1L1306.12 1149.1L1306.91 1155.1L1307.29 1161.1L1307.24 1167.1L1306.97 1173.1L1306.8 1179.1L1306.94 1185.1L1307.37 1191.1L1307.84 1197.1L1308.04 1203.1L1307.79 1209.1L1307.16 1215.1L1306.7 1218.8M1310.97 1035.1L1310.57 1041.1L1310.69 1047.1L1311.24 1053.1L1311.95 1059.1L1312.45 1065.1L1312.51 1071.1L1312.08 1077.1L1311.4 1083.1L1310.81 1089.1L1310.6 1095.1L1310.85 1101.1L1311.44 1107.1L1312.04 1113.1L1312.34 1119.1L1312.17 1125.1L1311.62 1131.1L1310.97 1137.1L1310.58 1143.1L1310.66 1149.1L1311.22 1155.1L1312.01 1161.1L1312.68 1167.1L1312.92 1173.1L1312.65 1179.1L1312.03 1185.1L1311.38 1191.1L1311.04 1197.1L1311.17 1203.1L1311.7 1209.1L1312.33 1215.1L1312.63 1218.8M1316.28 1035.1L1316.76 1041.1L1317.16 1047.1L1317.32 1053.1L1317.17 1059.1L1316.78 1065.1L1316.32 1071.1L1315.99 1077.1L1315.95 1083.1L1316.21 1089.1L1316.67 1095.1L1317.13 1101.1L1317.4 1107.1L1317.39 1113.1L1317.12 1119.1L1316.72 1125.1L1316.39 1131.1L1316.25 1137.1L1316.36 1143.1L1316.6 1149.1L1316.83 1155.1L1316.88 1161.1L1316.66 1167.1L1316.22 1173.1L1315.72 1179.1L1315.34 1185.1L1315.25 1191.1L1315.48 1197.1L1315.93 1203.1L1316.41 1209.1L1316.73 1215.1L1316.78 1218.8M1322.56 1035.1L1322.8 1041.1L1322.23 1047.1L1321.28 1053.1L1320.61 1059.1L1320.63 1065.1L1321.3 1071.1L1322.13 1077.1L1322.55 1083.1L1322.29 1089.1L1321.56 1095.1L1320.91 1101.1L1320.87 1107.1L1321.56 1113.1L1322.63 1119.1L1323.42 1125.1L1323.44 1131.1L1322.62 1137.1L1321.41 1143.1L1320.45 1149.1L1320.16 1155.1L1320.5 1161.1L1321.01 1167.1L1321.13 1173.1L1320.6 1179.1L1319.63 1185.1L1318.8 1191.1L1318.65 1197.1L1319.32 1203.1L1320.44 1209.1L1321.36 1215.1L1321.6 1218.8M1327.07 1035.1L1327.05 1041.1L1326.73 1047.1L1326.36 1053.1L1326.17 1059.1L1326.23 1065.1L1326.49 1071.1L1326.76 1077.1L1326.89 1083.1L1326.82 1089.1L1326.62 1095.1L1326.5 1101.1L1326.6 1107.1L1327.01 1113.1L1327.6 1119.1L1328.12 1125.1L1328.33 1131.1L1328.05 1137.1L1327.31 1143.1L1326.31 1149.1L1325.33 1155.1L1324.62 1161.1L1324.27 1167.1L1324.21 1173.1L1324.26 1179.1L1324.23 1185.1L1324.05 1191.1L1323.81 1197.1L1323.66 1203.1L1323.77 1209.1L1324.18 1215.1L1324.54 1218.8M1331.44 1035.1L1331.87 1041.1L1331.89 1047.1L1331.57 1053.1L1331.08 1059.1L1330.61 1065.1L1330.34 1071.1L1330.34 1077.1L1330.62 1083.1L1331.08 1089.1L1331.57 1095.1L1331.98 1101.1L1332.23 1107.1L1332.31 1113.1L1332.26 1119.1L1332.15 1125.1L1332.02 1131.1L1331.88 1137.1L1331.66 1143.1L1331.28 1149.1L1330.69 1155.1L1329.88 1161.1L1328.93 1167.1L1327.99 1173.1L1327.25 1179.1L1326.85 1185.1L1326.88 1191.1L1327.29 1197.1L1327.95 1203.1L1328.65 1209.1L1329.2 1215.1L1329.4 1218.8M1335.46 1035.1L1335.47 1041.1L1335.39 1047.1L1335.49 1053.1L1335.69 1059.1L1335.73 1065.1L1335.42 1071.1L1334.9 1077.1L1334.55 1083.1L1334.71 1089.1L1335.34 1095.1L1336.09 1101.1L1336.6 1107.1L1336.73 1113.1L1336.68 1119.1L1336.72 1125.1L1336.88 1131.1L1336.9 1137.1L1336.44 1143.1L1335.41 1149.1L1334.1 1155.1L1332.97 1161.1L1332.29 1167.1L1331.98 1173.1L1331.75 1179.1L1331.39 1185.1L1331.04 1191.1L1331 1197.1L1331.45 1203.1L1332.25 1209.1L1332.98 1215.1L1333.22 1218.8" shape-rendering="crispEdges"/><path d="M1273.6 1032.1L1209.2 1138.8L1273.6 1241.5" stroke-width="1.15"/><path d="M1273.6 1032.1L1338 1138.8L1273.6 1241.5" stroke-width="1.15"/><clipPath id="g1247"><rect x="1249.2" y="1054.4" width="13.9" height="78.4"/></clipPath><path d="M1247.6 1058.8L1264.7 1042.56M1247.6 1064.8L1264.7 1048.56M1247.6 1069.8L1264.7 1053.56M1247.6 1077.8L1264.7 1061.56M1247.6 1082.8L1264.7 1066.56M1247.6 1093.8L1264.7 1077.56M1247.6 1102.8L1264.7 1086.56M1247.6 1113.8L1264.7 1097.56M1247.6 1119.8L1264.7 1103.56M1247.6 1128.8L1264.7 1112.56M1247.6 1136.8L1264.7 1120.56M1247.6 1141.8L1264.7 1125.56" clip-path="url(#g1247)" stroke-width="1.1"/><clipPath id="g1281"><rect x="1283.3" y="1054.4" width="14.2" height="78.4"/></clipPath><path d="M1281.7 1058.8L1299.1 1042.27M1281.7 1064.8L1299.1 1048.27M1281.7 1069.8L1299.1 1053.27M1281.7 1075.8L1299.1 1059.27M1281.7 1084.8L1299.1 1068.27M1281.7 1095.8L1299.1 1079.27M1281.7 1100.8L1299.1 1084.27M1281.7 1106.8L1299.1 1090.27M1281.7 1112.8L1299.1 1096.27M1281.7 1121.8L1299.1 1105.27M1281.7 1130.8L1299.1 1114.27M1281.7 1135.8L1299.1 1119.27M1281.7 1144.8L1299.1 1128.27" clip-path="url(#g1281)" stroke-width="1.1"/><path d="M1557 1135L1561.5 1135.5L1561 1139L1557.5 1142L1559.5 1146" stroke-width="0.9"/><path d="M1637 1141L1639.5 1145L1635 1149.5" stroke-width="0.9"/><path d="M1634.5 1147L1634.5 1150L1640 1150" stroke-width="0.9"/><circle cx="337.5" cy="1342.4" r="12.1" fill="#fff" stroke="#000"/><circle cx="908.5" cy="1342.4" r="12.1" fill="#fff" stroke="#000"/><circle cx="1479.5" cy="1342.4" r="12.1" fill="#fff" stroke="#000"/><path d="M1117 1278.8L1143 1303.3L1117 1329.6Z" fill="#000"/><circle cx="1117" cy="1303.3" r="18.2" fill="#fff" stroke="#000"/><path d="M1098.8 1303.3L1135.2 1303.3"/><path stroke-width="1.15" d="M291 780.5L274.5 1032.5"/><path stroke-width="1.15" d="M274.5 1032.5L272.67 1028.95"/><path stroke-width="1.15" d="M274.5 1032.5L276.78 1029.21"/><path stroke-width="1.15" d="M276.64 1030.44L272.65 1030.17"/><path stroke-width="1.15" d="M364 780.5L347.5 1069"/><path stroke-width="1.15" d="M347.5 1069L345.64 1065.46"/><path stroke-width="1.15" d="M347.5 1069L349.75 1065.7"/><path stroke-width="1.15" d="M349.62 1066.92L345.63 1066.69"/><path stroke-width="1.15" d="M514 780.5L464.5 954"/><path stroke-width="1.15" d="M464.5 954L463.46 950.14"/><path stroke-width="1.15" d="M464.5 954L467.42 951.27"/><path stroke-width="1.15" d="M467.03 952.43L463.18 951.34"/><path d="M511.5 939.5L514 942L516.5 939.5"/><path d="M512 941L516 941"/><path stroke-width="1.15" d="M596 780.5L548.5 950"/><path stroke-width="1.15" d="M548.5 950L547.44 946.14"/><path stroke-width="1.15" d="M548.5 950L551.41 947.26"/><path stroke-width="1.15" d="M551.02 948.42L547.17 947.34"/><path stroke-width="1.15" d="M596 780.5L585.5 957"/><path stroke-width="1.15" d="M585.5 957L583.65 953.46"/><path stroke-width="1.15" d="M585.5 957L587.76 953.7"/><path stroke-width="1.15" d="M587.63 954.92L583.63 954.69"/><path stroke-width="1.15" d="M704 780.5L686.5 1035"/><path stroke-width="1.15" d="M686.5 1035L684.68 1031.44"/><path stroke-width="1.15" d="M686.5 1035L688.79 1031.72"/><path stroke-width="1.15" d="M688.65 1032.94L684.66 1032.67"/><path stroke-width="1.15" d="M806 780.5L790 1069"/><path stroke-width="1.15" d="M790 1069L788.13 1065.46"/><path stroke-width="1.15" d="M790 1069L792.25 1065.69"/><path stroke-width="1.15" d="M792.12 1066.91L788.12 1066.69"/><path d="M896 959.5L898.5 962L901 959.5"/><path d="M896.5 961L900.5 961"/><path stroke-width="1.15" d="M1001.5 780.5L988.5 946"/><path stroke-width="1.15" d="M988.5 946L986.71 942.42"/><path stroke-width="1.15" d="M988.5 946L990.82 942.74"/><path stroke-width="1.15" d="M990.67 943.96L986.68 943.65"/><path d="M1248 971.5L1250.5 974L1253 971.5"/><path d="M1248.5 973L1252.5 973"/><path d="M1498 972.5L1500.5 975L1503 972.5"/><path d="M1498.5 974L1502.5 974"/><path d="M1665 927.5L1667.5 930L1670 927.5"/><path d="M1665.5 929L1669.5 929"/><path d="M274 1172.5L276.5 1170L279 1172.5"/><path d="M274.5 1171L278.5 1171"/><path d="M407 1242.5L409.5 1240L412 1242.5"/><path d="M407.5 1241L411.5 1241"/><path d="M541 1198.5L543.5 1196L546 1198.5"/><path d="M541.5 1197L545.5 1197"/><path d="M688 1172.5L690.5 1170L693 1172.5"/><path d="M688.5 1171L692.5 1171"/><path d="M956 1171.5L958.5 1169L961 1171.5"/><path d="M956.5 1170L960.5 1170"/><path d="M1073 1238.5L1075.5 1236L1078 1238.5"/><path d="M1073.5 1237L1077.5 1237"/><path d="M1219 1231.5L1221.5 1229L1224 1231.5"/><path d="M1219.5 1230L1223.5 1230"/><path d="M1296 1178.5L1298.5 1176L1301 1178.5"/><path d="M1296.5 1177L1300.5 1177"/><path d="M1384 1198.5L1386.5 1196L1389 1198.5"/><path d="M1384.5 1197L1388.5 1197"/><path d="M1462 1238.5L1464.5 1236L1467 1238.5"/><path d="M1462.5 1237L1466.5 1237"/><path stroke-width="1.15" d="M1486.5 1169.5L1553 1388.5"/><path stroke-width="1.15" d="M1486.5 1169.5L1489.47 1172.18"/><path stroke-width="1.15" d="M1486.5 1169.5L1485.52 1173.38"/><path stroke-width="1.15" d="M1485.23 1172.19L1489.05 1171.02"/><path d="M1688 1172.5L1690.5 1170L1693 1172.5"/><path d="M1688.5 1171L1692.5 1171"/><circle cx="974" cy="1438" r="21" fill="#fff" stroke="#000" stroke-width="1.2"/></g>
<g fill="#000" stroke="none" opacity=".999"><text font-size="9" text-anchor="middle" textLength="8" lengthAdjust="spacingAndGlyphs" transform="translate(856 462) rotate(-90)">12</text><text font-size="13" text-anchor="middle" textLength="24" lengthAdjust="spacingAndGlyphs" transform="translate(1017.5 397) rotate(-90)">1995</text><text font-size="13" text-anchor="middle" textLength="18" lengthAdjust="spacingAndGlyphs" transform="translate(1017.5 500) rotate(-90)">250</text><text font-size="13" text-anchor="middle" textLength="11" lengthAdjust="spacingAndGlyphs" transform="translate(1017.5 303) rotate(-90)">30</text><text x="327.5" y="185.8" font-size="11.5" textLength="41.5" lengthAdjust="spacingAndGlyphs">CH.3550MM</text><text x="327.5" y="200.3" font-size="11.5" textLength="41.5" lengthAdjust="spacingAndGlyphs">CH.3400MM</text><text x="327.5" y="510.5" font-size="11.5" textLength="41.5" lengthAdjust="spacingAndGlyphs">FFL±0.000M</text><text font-size="14.2" text-anchor="middle" textLength="17.7" lengthAdjust="spacingAndGlyphs" transform="translate(407 192) rotate(-90)">150</text><text font-size="14.2" text-anchor="middle" textLength="23.6" lengthAdjust="spacingAndGlyphs" transform="translate(408.5 317) rotate(-90)">2550</text><text font-size="14.2" text-anchor="middle" textLength="23.6" lengthAdjust="spacingAndGlyphs" transform="translate(382 349) rotate(-90)">3550</text><text font-size="14.2" text-anchor="middle" textLength="17.7" lengthAdjust="spacingAndGlyphs" transform="translate(408.5 439.5) rotate(-90)">140</text><text font-size="14.2" text-anchor="middle" textLength="17.7" lengthAdjust="spacingAndGlyphs" transform="translate(408.5 476) rotate(-90)">650</text><text font-size="14.2" text-anchor="middle" textLength="11.8" lengthAdjust="spacingAndGlyphs" transform="translate(408.5 509) rotate(-90)">60</text><text font-size="14.2" text-anchor="middle" textLength="23.6" lengthAdjust="spacingAndGlyphs" transform="translate(602.5 251) rotate(-90)">1100</text><text font-size="14.2" text-anchor="middle" textLength="11.8" lengthAdjust="spacingAndGlyphs" transform="translate(602.5 302) rotate(-90)">10</text><text font-size="14.2" text-anchor="middle" textLength="23.6" lengthAdjust="spacingAndGlyphs" transform="translate(602.5 404) rotate(-90)">2230</text><text font-size="14.2" text-anchor="middle" textLength="11.8" lengthAdjust="spacingAndGlyphs" transform="translate(602.5 510) rotate(-90)">60</text><text font-size="14.2" text-anchor="middle" textLength="11.8" lengthAdjust="spacingAndGlyphs" transform="translate(641 265.5) rotate(-90)">10</text><text x="581.5" y="349.5" font-size="11.5" text-anchor="middle" textLength="9.5" lengthAdjust="spacingAndGlyphs">09</text><text x="581.5" y="365" font-size="10.5" text-anchor="middle" textLength="15" lengthAdjust="spacingAndGlyphs" font-weight="bold">JD-04</text><text x="499" y="451" font-size="11" textLength="60" lengthAdjust="spacingAndGlyphs" class="c">通往2102走道</text><text x="643" y="539" font-size="14.2" text-anchor="middle" textLength="11.8" lengthAdjust="spacingAndGlyphs">75</text><text x="752" y="539" font-size="14.2" text-anchor="middle" textLength="23.6" lengthAdjust="spacingAndGlyphs">2330</text><text x="862" y="539" font-size="14.2" text-anchor="middle" textLength="11.8" lengthAdjust="spacingAndGlyphs">60</text><text x="930" y="539" font-size="14.2" text-anchor="middle" textLength="23.6" lengthAdjust="spacingAndGlyphs">1440</text><text x="998" y="539" font-size="14.2" text-anchor="middle" textLength="11.8" lengthAdjust="spacingAndGlyphs">60</text><text x="1164.5" y="539" font-size="14.2" text-anchor="middle" textLength="23.6" lengthAdjust="spacingAndGlyphs">3593</text><text x="1411" y="539" font-size="14.2" text-anchor="middle" textLength="23.6" lengthAdjust="spacingAndGlyphs">1800</text><text x="1607.5" y="539" font-size="14.2" text-anchor="middle" textLength="23.6" lengthAdjust="spacingAndGlyphs">2497</text><text x="543.5" y="564" font-size="14.2" text-anchor="middle" textLength="23.6" lengthAdjust="spacingAndGlyphs">2100</text><text x="664.5" y="617" font-size="13" text-anchor="middle" textLength="15" lengthAdjust="spacingAndGlyphs">3</text><text x="1234.5" y="617" font-size="13" text-anchor="middle" textLength="15" lengthAdjust="spacingAndGlyphs">4</text><text x="771.3" y="570.3" font-size="11.5" text-anchor="middle" textLength="9.5" lengthAdjust="spacingAndGlyphs">07</text><text x="771.3" y="585.8" font-size="10.5" text-anchor="middle" textLength="15" lengthAdjust="spacingAndGlyphs" font-weight="bold">JD-04</text><text font-size="14.2" text-anchor="middle" textLength="17.7" lengthAdjust="spacingAndGlyphs" transform="translate(1264 472) rotate(-90)">850</text><text font-size="14.2" text-anchor="middle" textLength="17.7" lengthAdjust="spacingAndGlyphs" transform="translate(1304 475) rotate(-90)">800</text><text font-size="14.2" text-anchor="middle" textLength="17.7" lengthAdjust="spacingAndGlyphs" transform="translate(1460 475) rotate(-90)">700</text><text font-size="14.2" text-anchor="middle" textLength="23.6" lengthAdjust="spacingAndGlyphs" transform="translate(1460 251) rotate(-90)">1100</text><text font-size="14.2" text-anchor="middle" textLength="23.6" lengthAdjust="spacingAndGlyphs" transform="translate(1460 369.5) rotate(-90)">1500</text><text font-size="14.2" text-anchor="middle" textLength="11.8" lengthAdjust="spacingAndGlyphs" transform="translate(1460 509) rotate(-90)">60</text><text font-size="14.2" text-anchor="middle" textLength="11.8" lengthAdjust="spacingAndGlyphs" transform="translate(1460 439) rotate(-90)">20</text><text x="1324" y="409" font-size="14.2" text-anchor="middle" textLength="17.7" lengthAdjust="spacingAndGlyphs">100</text><text x="1497.5" y="409" font-size="14.2" text-anchor="middle" textLength="17.7" lengthAdjust="spacingAndGlyphs">100</text><text x="1329" y="456.5" font-size="14.2" text-anchor="middle" textLength="11.8" lengthAdjust="spacingAndGlyphs">20</text><text x="1494" y="456.5" font-size="14.2" text-anchor="middle" textLength="11.8" lengthAdjust="spacingAndGlyphs">20</text><text x="1301" y="365" font-size="14.2" text-anchor="middle" textLength="17.7" lengthAdjust="spacingAndGlyphs">600</text><text x="1519.5" y="365" font-size="14.2" text-anchor="middle" textLength="17.7" lengthAdjust="spacingAndGlyphs">600</text><text x="1694" y="365" font-size="14.2" text-anchor="middle" textLength="17.7" lengthAdjust="spacingAndGlyphs">600</text><text font-size="14.2" text-anchor="middle" textLength="17.7" lengthAdjust="spacingAndGlyphs" transform="translate(1136.5 334.3) rotate(-90)">325</text><text x="1171" y="366" font-size="14.2" text-anchor="middle" textLength="17.7" lengthAdjust="spacingAndGlyphs">325</text><text font-size="14.2" text-anchor="middle" textLength="17.7" lengthAdjust="spacingAndGlyphs" transform="translate(1618 275.5) rotate(-90)">325</text><text x="1652" y="307" font-size="14.2" text-anchor="middle" textLength="17.7" lengthAdjust="spacingAndGlyphs">325</text><text x="810.7" y="52.2" font-size="14" text-anchor="middle" textLength="10.7" lengthAdjust="spacingAndGlyphs">PT</text><text x="836.5" y="52.2" font-size="14" text-anchor="middle" textLength="11.6" lengthAdjust="spacingAndGlyphs">01</text><text x="798" y="67.5" font-size="9.3" textLength="55" lengthAdjust="spacingAndGlyphs" font-weight="bold" class="c">白色乳胶漆(选样)</text><text x="1219.7" y="52.2" font-size="14" text-anchor="middle" textLength="10.7" lengthAdjust="spacingAndGlyphs">PT</text><text x="1245.5" y="52.2" font-size="14" text-anchor="middle" textLength="11.6" lengthAdjust="spacingAndGlyphs">01</text><text x="1208" y="67.5" font-size="9.3" textLength="54" lengthAdjust="spacingAndGlyphs" font-weight="bold" class="c">白色乳胶漆(选样)</text><text x="1325.2" y="52.2" font-size="14" text-anchor="middle" textLength="10.7" lengthAdjust="spacingAndGlyphs">PT</text><text x="1351" y="52.2" font-size="14" text-anchor="middle" textLength="11.6" lengthAdjust="spacingAndGlyphs">08</text><text x="1314" y="67.5" font-size="9.3" textLength="54" lengthAdjust="spacingAndGlyphs" font-weight="bold" class="c">黄色乳胶漆(选样)</text><text x="1504.7" y="52.2" font-size="14" text-anchor="middle" textLength="12.5" lengthAdjust="spacingAndGlyphs">WD</text><text x="1530.5" y="52.2" font-size="14" text-anchor="middle" textLength="11.6" lengthAdjust="spacingAndGlyphs">02</text><text x="1507.5" y="67.5" font-size="9.3" textLength="25.5" lengthAdjust="spacingAndGlyphs" font-weight="bold" class="c">木质窗套</text><text x="1613.7" y="52.2" font-size="14" text-anchor="middle" textLength="10.7" lengthAdjust="spacingAndGlyphs">PT</text><text x="1639.5" y="52.2" font-size="14" text-anchor="middle" textLength="11.6" lengthAdjust="spacingAndGlyphs">08</text><text x="1602" y="67.5" font-size="9.3" textLength="54" lengthAdjust="spacingAndGlyphs" font-weight="bold" class="c">黄色乳胶漆(选样)</text><text x="1701.2" y="52.2" font-size="14" text-anchor="middle" textLength="10.7" lengthAdjust="spacingAndGlyphs">PT</text><text x="1727" y="52.2" font-size="14" text-anchor="middle" textLength="11.6" lengthAdjust="spacingAndGlyphs">07</text><text x="1689" y="67.5" font-size="9.3" textLength="55" lengthAdjust="spacingAndGlyphs" font-weight="bold" class="c">绿色乳胶漆(选样)</text><text x="490" y="51.1" font-size="10.5" textLength="60.5" lengthAdjust="spacingAndGlyphs" font-weight="bold" class="c">顶面暗藏灯带位置</text><text x="665" y="51.1" font-size="10.5" textLength="15" lengthAdjust="spacingAndGlyphs" font-weight="bold" class="c">成品</text><text x="680.5" y="52" font-size="13" textLength="21" lengthAdjust="spacingAndGlyphs">PVC</text><text x="702.5" y="51.1" font-size="10.5" textLength="41.5" lengthAdjust="spacingAndGlyphs" font-weight="bold" class="c">护角(选样)</text><text x="1401.5" y="51.1" font-size="10.5" textLength="60" lengthAdjust="spacingAndGlyphs" font-weight="bold" class="c">新做断桥铝推拉窗</text><text x="472.5" y="697.1" font-size="10.5" textLength="72.5" lengthAdjust="spacingAndGlyphs" font-weight="bold" class="c">成品扶手位置(选样)</text><text x="684.2" y="698.2" font-size="14" text-anchor="middle" textLength="10.7" lengthAdjust="spacingAndGlyphs">DJ</text><text x="710" y="698.2" font-size="14" text-anchor="middle" textLength="11.6" lengthAdjust="spacingAndGlyphs">02</text><text x="683.25" y="713.5" font-size="9.3" textLength="31.5" lengthAdjust="spacingAndGlyphs" font-weight="bold" class="c">塑胶踢脚线</text><text x="761.7" y="698.2" font-size="14" text-anchor="middle" textLength="10.7" lengthAdjust="spacingAndGlyphs">DJ</text><text x="787.5" y="698.2" font-size="14" text-anchor="middle" textLength="11.6" lengthAdjust="spacingAndGlyphs">08</text><text x="746.5" y="713.5" font-size="9.3" textLength="61.5" lengthAdjust="spacingAndGlyphs" font-weight="bold" class="c">米色塑胶墙面(选样)</text><text x="948.7" y="698.2" font-size="14" text-anchor="middle" textLength="10.7" lengthAdjust="spacingAndGlyphs">MT</text><text x="974.5" y="698.2" font-size="14" text-anchor="middle" textLength="11.6" lengthAdjust="spacingAndGlyphs">01</text><text x="947.75" y="713.5" font-size="9.3" textLength="31.5" lengthAdjust="spacingAndGlyphs" font-weight="bold" class="c">拉丝不锈钢</text><text x="1028.5" y="697.1" font-size="10.5" textLength="69" lengthAdjust="spacingAndGlyphs" font-weight="bold" class="c">定制成品套装门位置</text><text x="1178.2" y="698.2" font-size="14" text-anchor="middle" textLength="10.7" lengthAdjust="spacingAndGlyphs">DJ</text><text x="1204" y="698.2" font-size="14" text-anchor="middle" textLength="11.6" lengthAdjust="spacingAndGlyphs">02</text><text x="1178.25" y="713.5" font-size="9.3" textLength="31.5" lengthAdjust="spacingAndGlyphs" font-weight="bold" class="c">塑胶踢脚线</text><text x="1276.7" y="698.2" font-size="14" text-anchor="middle" textLength="10.7" lengthAdjust="spacingAndGlyphs">DJ</text><text x="1302.5" y="698.2" font-size="14" text-anchor="middle" textLength="11.6" lengthAdjust="spacingAndGlyphs">08</text><text x="1262" y="713.5" font-size="9.3" textLength="61" lengthAdjust="spacingAndGlyphs" font-weight="bold" class="c">米色塑胶墙面(选样)</text><text x="1414.7" y="698.2" font-size="14" text-anchor="middle" textLength="10.7" lengthAdjust="spacingAndGlyphs">ST</text><text x="1440.5" y="698.2" font-size="14" text-anchor="middle" textLength="11.6" lengthAdjust="spacingAndGlyphs">03</text><text x="1399.5" y="713.5" font-size="9.3" textLength="61.5" lengthAdjust="spacingAndGlyphs" font-weight="bold" class="c">白色石材台面(选样)</text><text x="1647" y="697.1" font-size="10.5" textLength="72" lengthAdjust="spacingAndGlyphs" font-weight="bold" class="c">成品扶手位置(选样)</text><text font-size="13" text-anchor="middle" textLength="24" lengthAdjust="spacingAndGlyphs" transform="translate(1361.5 1127) rotate(-90)">1995</text><text font-size="13" text-anchor="middle" textLength="18" lengthAdjust="spacingAndGlyphs" transform="translate(1361.5 1230) rotate(-90)">250</text><text font-size="13" text-anchor="middle" textLength="11" lengthAdjust="spacingAndGlyphs" transform="translate(1361.5 1033) rotate(-90)">30</text><text font-size="14.2" text-anchor="middle" textLength="17.7" lengthAdjust="spacingAndGlyphs" transform="translate(1534 1202.5) rotate(-90)">850</text><text x="1575" y="1149.5" font-size="11" textLength="53" lengthAdjust="spacingAndGlyphs" class="c">通往299走道</text><text font-size="14.2" text-anchor="middle" textLength="23.6" lengthAdjust="spacingAndGlyphs" transform="translate(385 1099) rotate(-90)">1500</text><text font-size="14.2" text-anchor="middle" textLength="23.6" lengthAdjust="spacingAndGlyphs" transform="translate(777 1099) rotate(-90)">1500</text><text font-size="14.2" text-anchor="middle" textLength="17.7" lengthAdjust="spacingAndGlyphs" transform="translate(403.5 1205) rotate(-90)">800</text><text font-size="14.2" text-anchor="middle" textLength="17.7" lengthAdjust="spacingAndGlyphs" transform="translate(450 1202) rotate(-90)">850</text><text x="445" y="1095" font-size="14.2" text-anchor="middle" textLength="17.7" lengthAdjust="spacingAndGlyphs">600</text><text x="618.5" y="1095" font-size="14.2" text-anchor="middle" textLength="17.7" lengthAdjust="spacingAndGlyphs">600</text><text x="880" y="1095" font-size="14.2" text-anchor="middle" textLength="23.6" lengthAdjust="spacingAndGlyphs">1500</text><text x="423.5" y="1139" font-size="14.2" text-anchor="middle" textLength="17.7" lengthAdjust="spacingAndGlyphs">100</text><text x="641" y="1139" font-size="14.2" text-anchor="middle" textLength="17.7" lengthAdjust="spacingAndGlyphs">100</text><text x="815.5" y="1139" font-size="14.2" text-anchor="middle" textLength="17.7" lengthAdjust="spacingAndGlyphs">100</text><text x="252.5" y="1186.5" font-size="14.2" text-anchor="middle" textLength="11.8" lengthAdjust="spacingAndGlyphs">20</text><text x="419.5" y="1186.5" font-size="14.2" text-anchor="middle" textLength="11.8" lengthAdjust="spacingAndGlyphs">20</text><text x="646" y="1186.5" font-size="14.2" text-anchor="middle" textLength="11.8" lengthAdjust="spacingAndGlyphs">20</text><text x="811.5" y="1186.5" font-size="14.2" text-anchor="middle" textLength="11.8" lengthAdjust="spacingAndGlyphs">20</text><text font-size="14.2" text-anchor="middle" textLength="17.7" lengthAdjust="spacingAndGlyphs" transform="translate(453 1005.3) rotate(-90)">325</text><text x="487.5" y="1037" font-size="14.2" text-anchor="middle" textLength="17.7" lengthAdjust="spacingAndGlyphs">325</text><text font-size="14.2" text-anchor="middle" textLength="17.7" lengthAdjust="spacingAndGlyphs" transform="translate(928 1005.3) rotate(-90)">325</text><text x="962.5" y="1037" font-size="14.2" text-anchor="middle" textLength="17.7" lengthAdjust="spacingAndGlyphs">325</text><text x="335.5" y="1269" font-size="14.2" text-anchor="middle" textLength="23.6" lengthAdjust="spacingAndGlyphs">1800</text><text x="531" y="1269" font-size="14.2" text-anchor="middle" textLength="23.6" lengthAdjust="spacingAndGlyphs">2497</text><text x="728.5" y="1269" font-size="14.2" text-anchor="middle" textLength="23.6" lengthAdjust="spacingAndGlyphs">1800</text><text x="1006.5" y="1269" font-size="14.2" text-anchor="middle" textLength="23.6" lengthAdjust="spacingAndGlyphs">4288</text><text x="1205" y="1269" font-size="14.2" text-anchor="middle" textLength="11.8" lengthAdjust="spacingAndGlyphs">60</text><text x="1273" y="1269" font-size="14.2" text-anchor="middle" textLength="23.6" lengthAdjust="spacingAndGlyphs">1440</text><text x="1342" y="1269" font-size="14.2" text-anchor="middle" textLength="11.8" lengthAdjust="spacingAndGlyphs">60</text><text x="1421" y="1269" font-size="14.2" text-anchor="middle" textLength="23.6" lengthAdjust="spacingAndGlyphs">1675</text><text x="1501.5" y="1269" font-size="14.2" text-anchor="middle" textLength="11.8" lengthAdjust="spacingAndGlyphs">75</text><text x="337.5" y="1294" font-size="14.2" text-anchor="middle" textLength="29.5" lengthAdjust="spacingAndGlyphs">25550</text><text x="1600.5" y="1294" font-size="14.2" text-anchor="middle" textLength="23.6" lengthAdjust="spacingAndGlyphs">2100</text><text x="337.5" y="1347" font-size="13" text-anchor="middle" textLength="15" lengthAdjust="spacingAndGlyphs">5</text><text x="908.5" y="1347" font-size="13" text-anchor="middle" textLength="15" lengthAdjust="spacingAndGlyphs">6</text><text x="1479.5" y="1347" font-size="13" text-anchor="middle" textLength="15" lengthAdjust="spacingAndGlyphs">7</text><text x="1117" y="1300.3" font-size="11.5" text-anchor="middle" textLength="9.5" lengthAdjust="spacingAndGlyphs">07</text><text x="1117" y="1315.8" font-size="10.5" text-anchor="middle" textLength="15" lengthAdjust="spacingAndGlyphs" font-weight="bold">JD-04</text><text x="316.2" y="785.2" font-size="14" text-anchor="middle" textLength="12.5" lengthAdjust="spacingAndGlyphs">WD</text><text x="342" y="785.2" font-size="14" text-anchor="middle" textLength="11.6" lengthAdjust="spacingAndGlyphs">02</text><text x="319.5" y="800.5" font-size="9.3" textLength="26" lengthAdjust="spacingAndGlyphs" font-weight="bold" class="c">木质窗套</text><text x="380" y="784.1" font-size="10.5" textLength="60" lengthAdjust="spacingAndGlyphs" font-weight="bold" class="c">新做断桥铝推拉窗</text><text x="537.2" y="785.2" font-size="14" text-anchor="middle" textLength="10.7" lengthAdjust="spacingAndGlyphs">PT</text><text x="563" y="785.2" font-size="14" text-anchor="middle" textLength="11.6" lengthAdjust="spacingAndGlyphs">07</text><text x="526" y="800.5" font-size="9.3" textLength="55.5" lengthAdjust="spacingAndGlyphs" font-weight="bold" class="c">绿色乳胶漆(选样)</text><text x="621.7" y="785.2" font-size="14" text-anchor="middle" textLength="10.7" lengthAdjust="spacingAndGlyphs">PT</text><text x="647.5" y="785.2" font-size="14" text-anchor="middle" textLength="11.6" lengthAdjust="spacingAndGlyphs">09</text><text x="610" y="800.5" font-size="9.3" textLength="54" lengthAdjust="spacingAndGlyphs" font-weight="bold" class="c">紫色乳胶漆(选样)</text><text x="728.7" y="785.2" font-size="14" text-anchor="middle" textLength="12.5" lengthAdjust="spacingAndGlyphs">WD</text><text x="754.5" y="785.2" font-size="14" text-anchor="middle" textLength="11.6" lengthAdjust="spacingAndGlyphs">02</text><text x="731" y="800.5" font-size="9.3" textLength="26" lengthAdjust="spacingAndGlyphs" font-weight="bold" class="c">木质窗套</text><text x="821" y="784.1" font-size="10.5" textLength="60.5" lengthAdjust="spacingAndGlyphs" font-weight="bold" class="c">新做断桥铝推拉窗</text><text x="923.7" y="785.2" font-size="14" text-anchor="middle" textLength="10.7" lengthAdjust="spacingAndGlyphs">PT</text><text x="949.5" y="785.2" font-size="14" text-anchor="middle" textLength="11.6" lengthAdjust="spacingAndGlyphs">09</text><text x="912" y="800.5" font-size="9.3" textLength="55" lengthAdjust="spacingAndGlyphs" font-weight="bold" class="c">紫色乳胶漆(选样)</text><text x="1026.2" y="785.2" font-size="14" text-anchor="middle" textLength="10.7" lengthAdjust="spacingAndGlyphs">PT</text><text x="1052" y="785.2" font-size="14" text-anchor="middle" textLength="11.6" lengthAdjust="spacingAndGlyphs">09</text><text x="1014.5" y="800.5" font-size="9.3" textLength="55.5" lengthAdjust="spacingAndGlyphs" font-weight="bold" class="c">紫色乳胶漆(选样)</text><text x="1274.7" y="785.2" font-size="14" text-anchor="middle" textLength="10.7" lengthAdjust="spacingAndGlyphs">PT</text><text x="1300.5" y="785.2" font-size="14" text-anchor="middle" textLength="11.6" lengthAdjust="spacingAndGlyphs">01</text><text x="1263" y="800.5" font-size="9.3" textLength="54" lengthAdjust="spacingAndGlyphs" font-weight="bold" class="c">白色乳胶漆(选样)</text><text x="1523" y="784.1" font-size="10.5" textLength="15" lengthAdjust="spacingAndGlyphs" font-weight="bold" class="c">成品</text><text x="1538.5" y="785" font-size="13" textLength="21" lengthAdjust="spacingAndGlyphs">PVC</text><text x="1560.5" y="784.1" font-size="10.5" textLength="42" lengthAdjust="spacingAndGlyphs" font-weight="bold" class="c">护角(选样)</text><text x="1684" y="784.1" font-size="10.5" textLength="61" lengthAdjust="spacingAndGlyphs" font-weight="bold" class="c">顶面暗藏灯带位置</text><text x="311.2" y="1393.2" font-size="14" text-anchor="middle" textLength="10.7" lengthAdjust="spacingAndGlyphs">ST</text><text x="337" y="1393.2" font-size="14" text-anchor="middle" textLength="11.6" lengthAdjust="spacingAndGlyphs">03</text><text x="297" y="1408.5" font-size="9.3" textLength="61" lengthAdjust="spacingAndGlyphs" font-weight="bold" class="c">白色石材台面(选样)</text><text x="445.7" y="1393.2" font-size="14" text-anchor="middle" textLength="10.7" lengthAdjust="spacingAndGlyphs">DJ</text><text x="471.5" y="1393.2" font-size="14" text-anchor="middle" textLength="11.6" lengthAdjust="spacingAndGlyphs">02</text><text x="445.25" y="1408.5" font-size="9.3" textLength="31.5" lengthAdjust="spacingAndGlyphs" font-weight="bold" class="c">塑胶踢脚线</text><text x="574.2" y="1393.2" font-size="14" text-anchor="middle" textLength="10.7" lengthAdjust="spacingAndGlyphs">DJ</text><text x="600" y="1393.2" font-size="14" text-anchor="middle" textLength="11.6" lengthAdjust="spacingAndGlyphs">08</text><text x="559" y="1408.5" font-size="9.3" textLength="61" lengthAdjust="spacingAndGlyphs" font-weight="bold" class="c">米色塑胶墙面(选样)</text><text x="726.7" y="1393.2" font-size="14" text-anchor="middle" textLength="10.7" lengthAdjust="spacingAndGlyphs">ST</text><text x="752.5" y="1393.2" font-size="14" text-anchor="middle" textLength="11.6" lengthAdjust="spacingAndGlyphs">03</text><text x="712" y="1408.5" font-size="9.3" textLength="60" lengthAdjust="spacingAndGlyphs" font-weight="bold" class="c">白色石材台面(选样)</text><text x="985" y="1392.1" font-size="10.5" textLength="72" lengthAdjust="spacingAndGlyphs" font-weight="bold" class="c">成品扶手位置(选样)</text><text x="1111.2" y="1393.2" font-size="14" text-anchor="middle" textLength="10.7" lengthAdjust="spacingAndGlyphs">DJ</text><text x="1137" y="1393.2" font-size="14" text-anchor="middle" textLength="11.6" lengthAdjust="spacingAndGlyphs">02</text><text x="1111.25" y="1408.5" font-size="9.3" textLength="31.5" lengthAdjust="spacingAndGlyphs" font-weight="bold" class="c">塑胶踢脚线</text><text x="1250.2" y="1393.2" font-size="14" text-anchor="middle" textLength="10.7" lengthAdjust="spacingAndGlyphs">MT</text><text x="1276" y="1393.2" font-size="14" text-anchor="middle" textLength="11.6" lengthAdjust="spacingAndGlyphs">01</text><text x="1250.25" y="1408.5" font-size="9.3" textLength="31.5" lengthAdjust="spacingAndGlyphs" font-weight="bold" class="c">拉丝不锈钢</text><text x="1308" y="1392.1" font-size="10.5" textLength="69" lengthAdjust="spacingAndGlyphs" font-weight="bold" class="c">定制成品套装门位置</text><text x="1417.7" y="1393.2" font-size="14" text-anchor="middle" textLength="10.7" lengthAdjust="spacingAndGlyphs">DJ</text><text x="1443.5" y="1393.2" font-size="14" text-anchor="middle" textLength="11.6" lengthAdjust="spacingAndGlyphs">08</text><text x="1401.5" y="1408.5" font-size="9.3" textLength="61.5" lengthAdjust="spacingAndGlyphs" font-weight="bold" class="c">米色塑胶墙面(选样)</text><text x="1499.7" y="1393.2" font-size="14" text-anchor="middle" textLength="10.7" lengthAdjust="spacingAndGlyphs">DJ</text><text x="1525.5" y="1393.2" font-size="14" text-anchor="middle" textLength="11.6" lengthAdjust="spacingAndGlyphs">02</text><text x="1498.75" y="1408.5" font-size="9.3" textLength="31.5" lengthAdjust="spacingAndGlyphs" font-weight="bold" class="c">塑胶踢脚线</text><text x="1567" y="1392.1" font-size="10.5" textLength="73" lengthAdjust="spacingAndGlyphs" font-weight="bold" class="c">成品扶手位置(选样)</text><text x="1715" y="1392.1" font-size="10.5" textLength="73" lengthAdjust="spacingAndGlyphs" font-weight="bold" class="c">成品扶手位置(选样)</text><text x="974" y="1445.5" font-size="21" text-anchor="middle" textLength="20" lengthAdjust="spacingAndGlyphs">01</text><text x="1048" y="1434.5" font-size="21" textLength="106.5" lengthAdjust="spacingAndGlyphs">ELEVATION</text><text x="1001" y="1455.5" font-size="13.5" textLength="30" lengthAdjust="spacingAndGlyphs">2103</text><text x="1033" y="1455.5" font-size="14" textLength="78" lengthAdjust="spacingAndGlyphs" class="c">走道立面图</text><text x="1126" y="1455.5" font-size="13.5" textLength="37" lengthAdjust="spacingAndGlyphs">SCALE</text><text x="1173" y="1455.5" font-size="13.5" textLength="31" lengthAdjust="spacingAndGlyphs">1:40</text><text x="1872" y="1440" font-size="8" textLength="41" lengthAdjust="spacingAndGlyphs" class="c">出图专用章</text><text x="1873" y="1450" font-size="7.5" textLength="22" lengthAdjust="spacingAndGlyphs">Issue</text></g>
</svg></body></html>
